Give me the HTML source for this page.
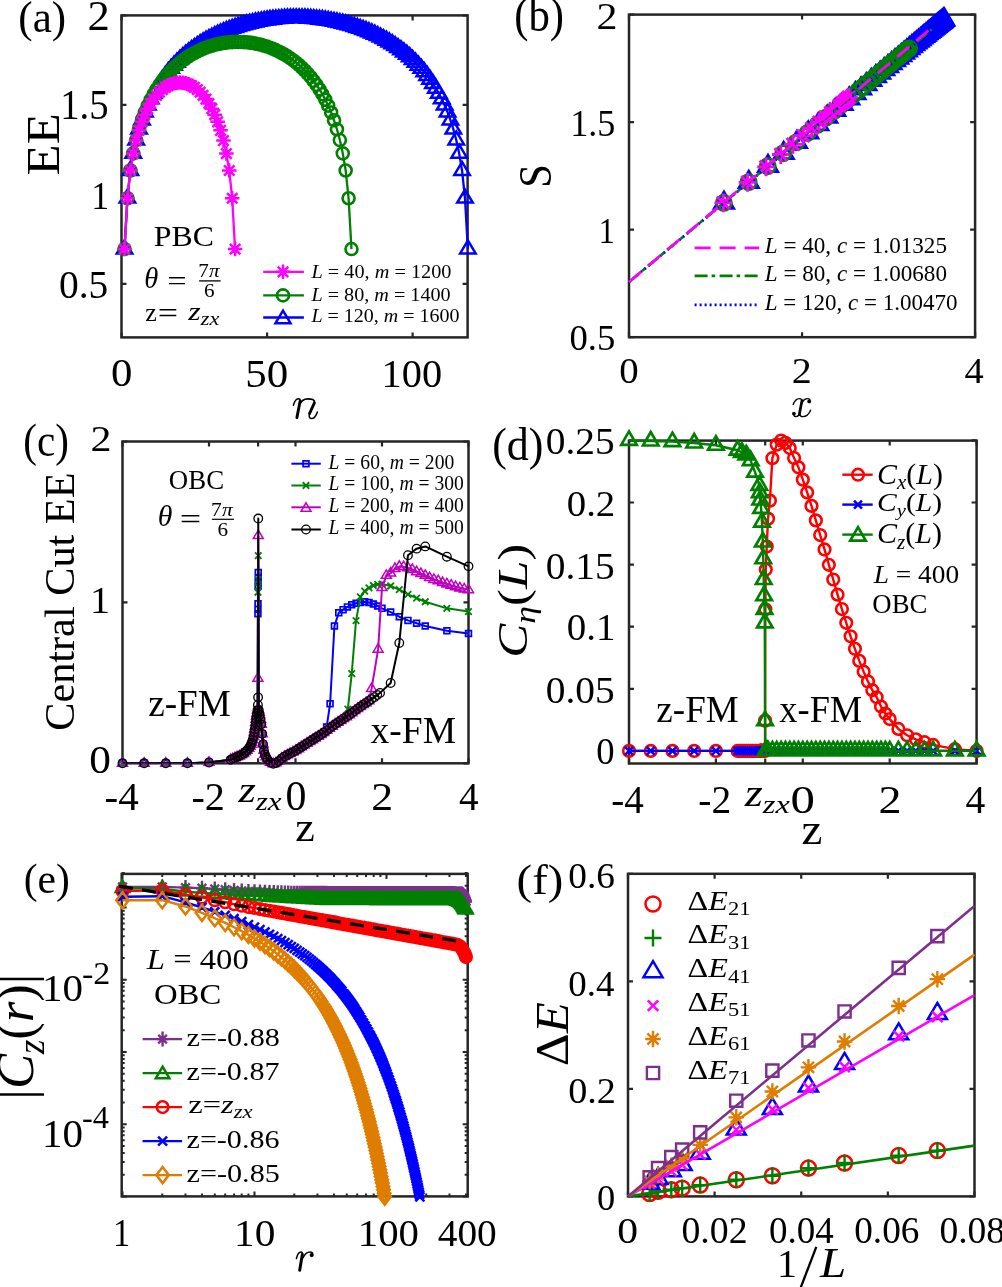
<!DOCTYPE html>
<html><head><meta charset="utf-8"><style>
html,body{margin:0;padding:0;background:#fff;}
svg{display:block;will-change:transform;}
text{font-family:"Liberation Serif",serif;white-space:pre;}
</style></head><body>
<svg width="1002" height="1287" viewBox="0 0 1002 1287">
<rect width="1002" height="1287" fill="#fff"/>
<rect x="121.5" y="15.4" width="346.1" height="322" fill="none" stroke="#262626" stroke-width="2.5"/>
<path d="M121.6 337.4v-5M121.6 15.4v5M267.1 337.4v-5M267.1 15.4v5M412.6 337.4v-5M412.6 15.4v5M121.5 283.8h5M467.6 283.8h-5M121.5 194.3h5M467.6 194.3h-5M121.5 104.8h5M467.6 104.8h-5M121.5 15.3h5M467.6 15.3h-5" stroke="#262626" stroke-width="2.2" fill="none"/>
<polyline points="124.51,249.07 127.42,198.24 130.33,170.57 133.24,153.37 136.15,140.06 139.06,129.2 141.97,120.05 144.88,112.15 147.79,105.2 150.7,99.02 153.61,93.45 156.52,88.39 159.43,83.77 162.34,79.51 165.25,75.57 168.16,71.92 171.07,68.51 173.98,65.33 176.89,62.35 179.8,59.54 182.71,56.91 185.62,54.42 188.53,52.07 191.44,49.85 194.35,47.75 197.26,45.75 200.17,43.87 203.08,42.08 205.99,40.38 208.9,38.77 211.81,37.24 214.72,35.79 217.63,34.41 220.54,33.11 223.45,31.87 226.36,30.7 229.27,29.59 232.18,28.54 235.09,27.55 238,26.61 240.91,25.74 243.82,24.91 246.73,24.14 249.64,23.41 252.55,22.74 255.46,22.11 258.37,21.53 261.28,21 264.19,20.51 267.1,20.07 270.01,19.67 272.92,19.32 275.83,19 278.74,18.73 281.65,18.51 284.56,18.32 287.47,18.18 290.38,18.07 293.29,18.01 296.2,17.99 299.11,18.01 302.02,18.07 304.93,18.18 307.84,18.32 310.75,18.51 313.66,18.73 316.57,19 319.48,19.32 322.39,19.67 325.3,20.07 328.21,20.51 331.12,21 334.03,21.53 336.94,22.11 339.85,22.74 342.76,23.41 345.67,24.14 348.58,24.91 351.49,25.74 354.4,26.61 357.31,27.55 360.22,28.54 363.13,29.59 366.04,30.7 368.95,31.87 371.86,33.11 374.77,34.41 377.68,35.79 380.59,37.24 383.5,38.77 386.41,40.38 389.32,42.08 392.23,43.87 395.14,45.75 398.05,47.75 400.96,49.85 403.87,52.07 406.78,54.42 409.69,56.91 412.6,59.54 415.51,62.35 418.42,65.33 421.33,68.51 424.24,71.92 427.15,75.57 430.06,79.51 432.97,83.77 435.88,88.39 438.79,93.45 441.7,99.02 444.61,105.2 447.52,112.15 450.43,120.05 453.34,129.2 456.25,140.06 459.16,153.37 462.07,170.57 464.98,198.24 467.89,249.07" fill="none" stroke="#0000ff" stroke-width="2.3" stroke-linejoin="round" />
<path d="M124.51 240.41L132.26 253.41L116.76 253.41ZM127.42 189.57L135.17 202.57L119.67 202.57ZM130.33 161.9L138.08 174.9L122.58 174.9ZM133.24 144.7L140.99 157.7L125.49 157.7ZM136.15 131.39L143.9 144.39L128.4 144.39ZM139.06 120.53L146.81 133.53L131.31 133.53ZM141.97 111.38L149.72 124.38L134.22 124.38ZM144.88 103.48L152.63 116.48L137.13 116.48ZM147.79 96.54L155.54 109.54L140.04 109.54ZM150.7 90.35L158.45 103.35L142.95 103.35ZM153.61 84.78L161.36 97.78L145.86 97.78ZM156.52 79.72L164.27 92.72L148.77 92.72ZM159.43 75.1L167.18 88.1L151.68 88.1ZM162.34 70.84L170.09 83.84L154.59 83.84ZM165.25 66.91L173 79.91L157.5 79.91ZM168.16 63.25L175.91 76.25L160.41 76.25ZM171.07 59.85L178.82 72.85L163.32 72.85ZM173.98 56.66L181.73 69.66L166.23 69.66ZM176.89 53.68L184.64 66.68L169.14 66.68ZM179.8 50.88L187.55 63.88L172.05 63.88ZM182.71 48.24L190.46 61.24L174.96 61.24ZM185.62 45.75L193.37 58.75L177.87 58.75ZM188.53 43.4L196.28 56.4L180.78 56.4ZM191.44 41.18L199.19 54.18L183.69 54.18ZM194.35 39.08L202.1 52.08L186.6 52.08ZM197.26 37.09L205.01 50.09L189.51 50.09ZM200.17 35.2L207.92 48.2L192.42 48.2ZM203.08 33.41L210.83 46.41L195.33 46.41ZM205.99 31.71L213.74 44.71L198.24 44.71ZM208.9 30.1L216.65 43.1L201.15 43.1ZM211.81 28.57L219.56 41.57L204.06 41.57ZM214.72 27.12L222.47 40.12L206.97 40.12ZM217.63 25.75L225.38 38.75L209.88 38.75ZM220.54 24.44L228.29 37.44L212.79 37.44ZM223.45 23.2L231.2 36.2L215.7 36.2ZM226.36 22.03L234.11 35.03L218.61 35.03ZM229.27 20.92L237.02 33.92L221.52 33.92ZM232.18 19.87L239.93 32.87L224.43 32.87ZM235.09 18.88L242.84 31.88L227.34 31.88ZM238 17.95L245.75 30.95L230.25 30.95ZM240.91 17.07L248.66 30.07L233.16 30.07ZM243.82 16.24L251.57 29.24L236.07 29.24ZM246.73 15.47L254.48 28.47L238.98 28.47ZM249.64 14.75L257.39 27.75L241.89 27.75ZM252.55 14.07L260.3 27.07L244.8 27.07ZM255.46 13.45L263.21 26.45L247.71 26.45ZM258.37 12.87L266.12 25.87L250.62 25.87ZM261.28 12.33L269.03 25.33L253.53 25.33ZM264.19 11.85L271.94 24.85L256.44 24.85ZM267.1 11.4L274.85 24.4L259.35 24.4ZM270.01 11L277.76 24L262.26 24ZM272.92 10.65L280.67 23.65L265.17 23.65ZM275.83 10.34L283.58 23.34L268.08 23.34ZM278.74 10.07L286.49 23.07L270.99 23.07ZM281.65 9.84L289.4 22.84L273.9 22.84ZM284.56 9.65L292.31 22.65L276.81 22.65ZM287.47 9.51L295.22 22.51L279.72 22.51ZM290.38 9.41L298.13 22.41L282.63 22.41ZM293.29 9.35L301.04 22.35L285.54 22.35ZM296.2 9.33L303.95 22.33L288.45 22.33ZM299.11 9.35L306.86 22.35L291.36 22.35ZM302.02 9.41L309.77 22.41L294.27 22.41ZM304.93 9.51L312.68 22.51L297.18 22.51ZM307.84 9.65L315.59 22.65L300.09 22.65ZM310.75 9.84L318.5 22.84L303 22.84ZM313.66 10.07L321.41 23.07L305.91 23.07ZM316.57 10.34L324.32 23.34L308.82 23.34ZM319.48 10.65L327.23 23.65L311.73 23.65ZM322.39 11L330.14 24L314.64 24ZM325.3 11.4L333.05 24.4L317.55 24.4ZM328.21 11.85L335.96 24.85L320.46 24.85ZM331.12 12.33L338.87 25.33L323.37 25.33ZM334.03 12.87L341.78 25.87L326.28 25.87ZM336.94 13.45L344.69 26.45L329.19 26.45ZM339.85 14.07L347.6 27.07L332.1 27.07ZM342.76 14.75L350.51 27.75L335.01 27.75ZM345.67 15.47L353.42 28.47L337.92 28.47ZM348.58 16.24L356.33 29.24L340.83 29.24ZM351.49 17.07L359.24 30.07L343.74 30.07ZM354.4 17.95L362.15 30.95L346.65 30.95ZM357.31 18.88L365.06 31.88L349.56 31.88ZM360.22 19.87L367.97 32.87L352.47 32.87ZM363.13 20.92L370.88 33.92L355.38 33.92ZM366.04 22.03L373.79 35.03L358.29 35.03ZM368.95 23.2L376.7 36.2L361.2 36.2ZM371.86 24.44L379.61 37.44L364.11 37.44ZM374.77 25.75L382.52 38.75L367.02 38.75ZM377.68 27.12L385.43 40.12L369.93 40.12ZM380.59 28.57L388.34 41.57L372.84 41.57ZM383.5 30.1L391.25 43.1L375.75 43.1ZM386.41 31.71L394.16 44.71L378.66 44.71ZM389.32 33.41L397.07 46.41L381.57 46.41ZM392.23 35.2L399.98 48.2L384.48 48.2ZM395.14 37.09L402.89 50.09L387.39 50.09ZM398.05 39.08L405.8 52.08L390.3 52.08ZM400.96 41.18L408.71 54.18L393.21 54.18ZM403.87 43.4L411.62 56.4L396.12 56.4ZM406.78 45.75L414.53 58.75L399.03 58.75ZM409.69 48.24L417.44 61.24L401.94 61.24ZM412.6 50.88L420.35 63.88L404.85 63.88ZM415.51 53.68L423.26 66.68L407.76 66.68ZM418.42 56.66L426.17 69.66L410.67 69.66ZM421.33 59.85L429.08 72.85L413.58 72.85ZM424.24 63.25L431.99 76.25L416.49 76.25ZM427.15 66.91L434.9 79.91L419.4 79.91ZM430.06 70.84L437.81 83.84L422.31 83.84ZM432.97 75.1L440.72 88.1L425.22 88.1ZM435.88 79.72L443.63 92.72L428.13 92.72ZM438.79 84.78L446.54 97.78L431.04 97.78ZM441.7 90.35L449.45 103.35L433.95 103.35ZM444.61 96.54L452.36 109.54L436.86 109.54ZM447.52 103.48L455.27 116.48L439.77 116.48ZM450.43 111.38L458.18 124.38L442.68 124.38ZM453.34 120.53L461.09 133.53L445.59 133.53ZM456.25 131.39L464 144.39L448.5 144.39ZM459.16 144.7L466.91 157.7L451.41 157.7ZM462.07 161.9L469.82 174.9L454.32 174.9ZM464.98 189.57L472.73 202.57L457.23 202.57ZM467.89 240.41L475.64 253.41L460.14 253.41Z" fill="none" stroke="#0000ff" stroke-width="2.5" />
<polyline points="124.51,249.07 127.42,198.24 130.33,170.51 133.24,153.33 136.15,140.07 139.06,129.29 141.97,120.23 144.88,112.44 147.79,105.63 150.7,99.6 153.61,94.2 156.52,89.33 159.43,84.91 162.34,80.89 165.25,77.2 168.16,73.81 171.07,70.7 173.98,67.82 176.89,65.17 179.8,62.71 182.71,60.44 185.62,58.35 188.53,56.41 191.44,54.62 194.35,52.98 197.26,51.47 200.17,50.09 203.08,48.83 205.99,47.68 208.9,46.65 211.81,45.73 214.72,44.91 217.63,44.19 220.54,43.58 223.45,43.06 226.36,42.64 229.27,42.31 232.18,42.08 235.09,41.94 238,41.89 240.91,41.94 243.82,42.08 246.73,42.31 249.64,42.64 252.55,43.06 255.46,43.58 258.37,44.19 261.28,44.91 264.19,45.73 267.1,46.65 270.01,47.68 272.92,48.83 275.83,50.09 278.74,51.47 281.65,52.98 284.56,54.62 287.47,56.41 290.38,58.35 293.29,60.44 296.2,62.71 299.11,65.17 302.02,67.82 304.93,70.7 307.84,73.81 310.75,77.2 313.66,80.89 316.57,84.91 319.48,89.33 322.39,94.2 325.3,99.6 328.21,105.63 331.12,112.44 334.03,120.23 336.94,129.29 339.85,140.07 342.76,153.33 345.67,170.51 348.58,198.24 351.49,249.07" fill="none" stroke="#008000" stroke-width="2.3" stroke-linejoin="round" />
<path d="M118.51 249.07a6 6 0 1 0 12 0a6 6 0 1 0 -12 0M121.42 198.24a6 6 0 1 0 12 0a6 6 0 1 0 -12 0M124.33 170.51a6 6 0 1 0 12 0a6 6 0 1 0 -12 0M127.24 153.33a6 6 0 1 0 12 0a6 6 0 1 0 -12 0M130.15 140.07a6 6 0 1 0 12 0a6 6 0 1 0 -12 0M133.06 129.29a6 6 0 1 0 12 0a6 6 0 1 0 -12 0M135.97 120.23a6 6 0 1 0 12 0a6 6 0 1 0 -12 0M138.88 112.44a6 6 0 1 0 12 0a6 6 0 1 0 -12 0M141.79 105.63a6 6 0 1 0 12 0a6 6 0 1 0 -12 0M144.7 99.6a6 6 0 1 0 12 0a6 6 0 1 0 -12 0M147.61 94.2a6 6 0 1 0 12 0a6 6 0 1 0 -12 0M150.52 89.33a6 6 0 1 0 12 0a6 6 0 1 0 -12 0M153.43 84.91a6 6 0 1 0 12 0a6 6 0 1 0 -12 0M156.34 80.89a6 6 0 1 0 12 0a6 6 0 1 0 -12 0M159.25 77.2a6 6 0 1 0 12 0a6 6 0 1 0 -12 0M162.16 73.81a6 6 0 1 0 12 0a6 6 0 1 0 -12 0M165.07 70.7a6 6 0 1 0 12 0a6 6 0 1 0 -12 0M167.98 67.82a6 6 0 1 0 12 0a6 6 0 1 0 -12 0M170.89 65.17a6 6 0 1 0 12 0a6 6 0 1 0 -12 0M173.8 62.71a6 6 0 1 0 12 0a6 6 0 1 0 -12 0M176.71 60.44a6 6 0 1 0 12 0a6 6 0 1 0 -12 0M179.62 58.35a6 6 0 1 0 12 0a6 6 0 1 0 -12 0M182.53 56.41a6 6 0 1 0 12 0a6 6 0 1 0 -12 0M185.44 54.62a6 6 0 1 0 12 0a6 6 0 1 0 -12 0M188.35 52.98a6 6 0 1 0 12 0a6 6 0 1 0 -12 0M191.26 51.47a6 6 0 1 0 12 0a6 6 0 1 0 -12 0M194.17 50.09a6 6 0 1 0 12 0a6 6 0 1 0 -12 0M197.08 48.83a6 6 0 1 0 12 0a6 6 0 1 0 -12 0M199.99 47.68a6 6 0 1 0 12 0a6 6 0 1 0 -12 0M202.9 46.65a6 6 0 1 0 12 0a6 6 0 1 0 -12 0M205.81 45.73a6 6 0 1 0 12 0a6 6 0 1 0 -12 0M208.72 44.91a6 6 0 1 0 12 0a6 6 0 1 0 -12 0M211.63 44.19a6 6 0 1 0 12 0a6 6 0 1 0 -12 0M214.54 43.58a6 6 0 1 0 12 0a6 6 0 1 0 -12 0M217.45 43.06a6 6 0 1 0 12 0a6 6 0 1 0 -12 0M220.36 42.64a6 6 0 1 0 12 0a6 6 0 1 0 -12 0M223.27 42.31a6 6 0 1 0 12 0a6 6 0 1 0 -12 0M226.18 42.08a6 6 0 1 0 12 0a6 6 0 1 0 -12 0M229.09 41.94a6 6 0 1 0 12 0a6 6 0 1 0 -12 0M232 41.89a6 6 0 1 0 12 0a6 6 0 1 0 -12 0M234.91 41.94a6 6 0 1 0 12 0a6 6 0 1 0 -12 0M237.82 42.08a6 6 0 1 0 12 0a6 6 0 1 0 -12 0M240.73 42.31a6 6 0 1 0 12 0a6 6 0 1 0 -12 0M243.64 42.64a6 6 0 1 0 12 0a6 6 0 1 0 -12 0M246.55 43.06a6 6 0 1 0 12 0a6 6 0 1 0 -12 0M249.46 43.58a6 6 0 1 0 12 0a6 6 0 1 0 -12 0M252.37 44.19a6 6 0 1 0 12 0a6 6 0 1 0 -12 0M255.28 44.91a6 6 0 1 0 12 0a6 6 0 1 0 -12 0M258.19 45.73a6 6 0 1 0 12 0a6 6 0 1 0 -12 0M261.1 46.65a6 6 0 1 0 12 0a6 6 0 1 0 -12 0M264.01 47.68a6 6 0 1 0 12 0a6 6 0 1 0 -12 0M266.92 48.83a6 6 0 1 0 12 0a6 6 0 1 0 -12 0M269.83 50.09a6 6 0 1 0 12 0a6 6 0 1 0 -12 0M272.74 51.47a6 6 0 1 0 12 0a6 6 0 1 0 -12 0M275.65 52.98a6 6 0 1 0 12 0a6 6 0 1 0 -12 0M278.56 54.62a6 6 0 1 0 12 0a6 6 0 1 0 -12 0M281.47 56.41a6 6 0 1 0 12 0a6 6 0 1 0 -12 0M284.38 58.35a6 6 0 1 0 12 0a6 6 0 1 0 -12 0M287.29 60.44a6 6 0 1 0 12 0a6 6 0 1 0 -12 0M290.2 62.71a6 6 0 1 0 12 0a6 6 0 1 0 -12 0M293.11 65.17a6 6 0 1 0 12 0a6 6 0 1 0 -12 0M296.02 67.82a6 6 0 1 0 12 0a6 6 0 1 0 -12 0M298.93 70.7a6 6 0 1 0 12 0a6 6 0 1 0 -12 0M301.84 73.81a6 6 0 1 0 12 0a6 6 0 1 0 -12 0M304.75 77.2a6 6 0 1 0 12 0a6 6 0 1 0 -12 0M307.66 80.89a6 6 0 1 0 12 0a6 6 0 1 0 -12 0M310.57 84.91a6 6 0 1 0 12 0a6 6 0 1 0 -12 0M313.48 89.33a6 6 0 1 0 12 0a6 6 0 1 0 -12 0M316.39 94.2a6 6 0 1 0 12 0a6 6 0 1 0 -12 0M319.3 99.6a6 6 0 1 0 12 0a6 6 0 1 0 -12 0M322.21 105.63a6 6 0 1 0 12 0a6 6 0 1 0 -12 0M325.12 112.44a6 6 0 1 0 12 0a6 6 0 1 0 -12 0M328.03 120.23a6 6 0 1 0 12 0a6 6 0 1 0 -12 0M330.94 129.29a6 6 0 1 0 12 0a6 6 0 1 0 -12 0M333.85 140.07a6 6 0 1 0 12 0a6 6 0 1 0 -12 0M336.76 153.33a6 6 0 1 0 12 0a6 6 0 1 0 -12 0M339.67 170.51a6 6 0 1 0 12 0a6 6 0 1 0 -12 0M342.58 198.24a6 6 0 1 0 12 0a6 6 0 1 0 -12 0M345.49 249.07a6 6 0 1 0 12 0a6 6 0 1 0 -12 0" fill="none" stroke="#008000" stroke-width="2.6" />
<polyline points="124.51,249.07 127.42,198.24 130.33,170.51 133.24,153.55 136.15,140.62 139.06,130.29 141.97,121.8 144.88,114.68 147.79,108.65 150.7,103.51 153.61,99.11 156.52,95.37 159.43,92.19 162.34,89.53 165.25,87.34 168.16,85.59 171.07,84.25 173.98,83.3 176.89,82.74 179.8,82.55 182.71,82.74 185.62,83.3 188.53,84.25 191.44,85.59 194.35,87.34 197.26,89.53 200.17,92.19 203.08,95.37 205.99,99.11 208.9,103.51 211.81,108.65 214.72,114.68 217.63,121.8 220.54,130.29 223.45,140.62 226.36,153.55 229.27,170.51 232.18,198.24 235.09,249.07" fill="none" stroke="#ff00ff" stroke-width="2.3" stroke-linejoin="round" />
<path d="M117.26 249.07h14.5M124.51 241.82v14.5M119.29 243.85l10.44 10.44M119.29 254.29l10.44 -10.44M120.17 198.24h14.5M127.42 190.99v14.5M122.2 193.02l10.44 10.44M122.2 203.46l10.44 -10.44M123.08 170.51h14.5M130.33 163.26v14.5M125.11 165.29l10.44 10.44M125.11 175.73l10.44 -10.44M125.99 153.55h14.5M133.24 146.3v14.5M128.02 148.33l10.44 10.44M128.02 158.77l10.44 -10.44M128.9 140.62h14.5M136.15 133.37v14.5M130.93 135.4l10.44 10.44M130.93 145.84l10.44 -10.44M131.81 130.29h14.5M139.06 123.04v14.5M133.84 125.07l10.44 10.44M133.84 135.51l10.44 -10.44M134.72 121.8h14.5M141.97 114.55v14.5M136.75 116.58l10.44 10.44M136.75 127.02l10.44 -10.44M137.63 114.68h14.5M144.88 107.43v14.5M139.66 109.46l10.44 10.44M139.66 119.9l10.44 -10.44M140.54 108.65h14.5M147.79 101.4v14.5M142.57 103.43l10.44 10.44M142.57 113.87l10.44 -10.44M143.45 103.51h14.5M150.7 96.26v14.5M145.48 98.29l10.44 10.44M145.48 108.73l10.44 -10.44M146.36 99.11h14.5M153.61 91.86v14.5M148.39 93.89l10.44 10.44M148.39 104.33l10.44 -10.44M149.27 95.37h14.5M156.52 88.12v14.5M151.3 90.15l10.44 10.44M151.3 100.59l10.44 -10.44M152.18 92.19h14.5M159.43 84.94v14.5M154.21 86.97l10.44 10.44M154.21 97.41l10.44 -10.44M155.09 89.53h14.5M162.34 82.28v14.5M157.12 84.31l10.44 10.44M157.12 94.75l10.44 -10.44M158 87.34h14.5M165.25 80.09v14.5M160.03 82.12l10.44 10.44M160.03 92.56l10.44 -10.44M160.91 85.59h14.5M168.16 78.34v14.5M162.94 80.37l10.44 10.44M162.94 90.81l10.44 -10.44M163.82 84.25h14.5M171.07 77v14.5M165.85 79.03l10.44 10.44M165.85 89.47l10.44 -10.44M166.73 83.3h14.5M173.98 76.05v14.5M168.76 78.08l10.44 10.44M168.76 88.52l10.44 -10.44M169.64 82.74h14.5M176.89 75.49v14.5M171.67 77.52l10.44 10.44M171.67 87.96l10.44 -10.44M172.55 82.55h14.5M179.8 75.3v14.5M174.58 77.33l10.44 10.44M174.58 87.77l10.44 -10.44M175.46 82.74h14.5M182.71 75.49v14.5M177.49 77.52l10.44 10.44M177.49 87.96l10.44 -10.44M178.37 83.3h14.5M185.62 76.05v14.5M180.4 78.08l10.44 10.44M180.4 88.52l10.44 -10.44M181.28 84.25h14.5M188.53 77v14.5M183.31 79.03l10.44 10.44M183.31 89.47l10.44 -10.44M184.19 85.59h14.5M191.44 78.34v14.5M186.22 80.37l10.44 10.44M186.22 90.81l10.44 -10.44M187.1 87.34h14.5M194.35 80.09v14.5M189.13 82.12l10.44 10.44M189.13 92.56l10.44 -10.44M190.01 89.53h14.5M197.26 82.28v14.5M192.04 84.31l10.44 10.44M192.04 94.75l10.44 -10.44M192.92 92.19h14.5M200.17 84.94v14.5M194.95 86.97l10.44 10.44M194.95 97.41l10.44 -10.44M195.83 95.37h14.5M203.08 88.12v14.5M197.86 90.15l10.44 10.44M197.86 100.59l10.44 -10.44M198.74 99.11h14.5M205.99 91.86v14.5M200.77 93.89l10.44 10.44M200.77 104.33l10.44 -10.44M201.65 103.51h14.5M208.9 96.26v14.5M203.68 98.29l10.44 10.44M203.68 108.73l10.44 -10.44M204.56 108.65h14.5M211.81 101.4v14.5M206.59 103.43l10.44 10.44M206.59 113.87l10.44 -10.44M207.47 114.68h14.5M214.72 107.43v14.5M209.5 109.46l10.44 10.44M209.5 119.9l10.44 -10.44M210.38 121.8h14.5M217.63 114.55v14.5M212.41 116.58l10.44 10.44M212.41 127.02l10.44 -10.44M213.29 130.29h14.5M220.54 123.04v14.5M215.32 125.07l10.44 10.44M215.32 135.51l10.44 -10.44M216.2 140.62h14.5M223.45 133.37v14.5M218.23 135.4l10.44 10.44M218.23 145.84l10.44 -10.44M219.11 153.55h14.5M226.36 146.3v14.5M221.14 148.33l10.44 10.44M221.14 158.77l10.44 -10.44M222.02 170.51h14.5M229.27 163.26v14.5M224.05 165.29l10.44 10.44M224.05 175.73l10.44 -10.44M224.93 198.24h14.5M232.18 190.99v14.5M226.96 193.02l10.44 10.44M226.96 203.46l10.44 -10.44M227.84 249.07h14.5M235.09 241.82v14.5M229.87 243.85l10.44 10.44M229.87 254.29l10.44 -10.44" fill="none" stroke="#ff00ff" stroke-width="2.5" />
<text transform="translate(18.36,32.21) scale(0.9647,1)" font-size="44.62" fill="#000" >(a)</text>
<text transform="translate(87.59,29.90) scale(1.0548,1)" font-size="42.42" fill="#000" >2</text>
<text transform="translate(60.21,118.97) scale(0.9275,1)" font-size="41.78" fill="#000" >1.5</text>
<text transform="translate(91.29,209.10) scale(0.8895,1)" font-size="40.15" fill="#000" >1</text>
<text transform="translate(58.92,298.20) scale(0.9836,1)" font-size="40.15" fill="#000" >0.5</text>
<text transform="translate(110.89,386.41) scale(1.0916,1)" font-size="39.26" fill="#000" >0</text>
<text transform="translate(245.32,387.09) scale(1.0478,1)" font-size="41.04" fill="#000" >50</text>
<text transform="translate(381.57,387.09) scale(0.9836,1)" font-size="41.04" fill="#000" >100</text>
<g fill="none" stroke="#000" stroke-linecap="round"><path d="M293.4 405.3C294.3 402 295.8 399 298.3 398.8C300.2 398.7 300.6 400 300.2 401.8" stroke-width="1.5"/><path d="M300.1 401.3L296.9 417.6" stroke-width="2.9"/><path d="M299.3 405C300.8 401.2 304 398.8 307.9 398.8C311.6 398.8 314.8 399.6 314.5 402.6" stroke-width="1.7"/><path d="M314.4 402.8L309.5 413.6" stroke-width="2.8"/><path d="M309.4 413.8C308.8 416.5 309.5 418.6 311.6 418.6C314.2 418.6 316.3 415.3 317.4 412" stroke-width="1.5"/></g>
<text transform="translate(59.00,175.43) rotate(-90) scale(1.0715,1)" font-size="47.48" fill="#000" >EE</text>
<text transform="translate(153.85,246.40) scale(1.0496,1)" font-size="30.30" fill="#000" >PBC</text>
<text transform="translate(144.37,287.81) scale(0.9944,1)" font-size="28.73" fill="#000" ><tspan font-style="italic">θ</tspan></text>
<text transform="translate(167.15,289.86) scale(1.2500,1)" font-size="27.60" fill="#000" >=</text>
<text transform="translate(198.33,277.10) scale(1.0653,1)" font-size="19.85" fill="#000" >7<tspan font-style="italic">π</tspan></text>
<path d="M199.1 280.9H220.6" stroke="#000" stroke-width="1.3"/>
<text transform="translate(204.05,297.41) scale(1.1261,1)" font-size="18.81" fill="#000" >6</text>
<text transform="translate(145.15,321.00) scale(1.0553,1)" font-size="24.78" fill="#000" >z</text>
<text transform="translate(157.78,323.30) scale(1.2500,1)" font-size="28.80" fill="#000" >=</text>
<text transform="translate(188.36,320.11) scale(1.2500,1)" font-size="25.45" fill="#000" ><tspan font-style="italic">z</tspan><tspan font-style="italic" font-size="17.82" dy="5.09">zx</tspan></text>
<polyline points="263.2,271.8 303.9,271.8" fill="none" stroke="#ff00ff" stroke-width="2.3" stroke-linejoin="round" />
<path d="M275.75 271.8h14.5M283 264.55v14.5M277.78 266.58l10.44 10.44M277.78 277.02l10.44 -10.44" fill="none" stroke="#ff00ff" stroke-width="2.5" />
<polyline points="263.2,295.4 303.9,295.4" fill="none" stroke="#008000" stroke-width="2.3" stroke-linejoin="round" />
<path d="M277 295.4a6 6 0 1 0 12 0a6 6 0 1 0 -12 0" fill="none" stroke="#008000" stroke-width="2.6" />
<polyline points="263.2,317.5 303.9,317.5" fill="none" stroke="#0000ff" stroke-width="2.3" stroke-linejoin="round" />
<path d="M283 310.67L290.5 323.17L275.5 323.17Z" fill="none" stroke="#0000ff" stroke-width="2.5" />
<text transform="translate(311.40,277.51) scale(1.0533,1)" font-size="19.26" fill="#000" ><tspan font-style="italic">L</tspan> = 40, <tspan font-style="italic">m</tspan> = 1200</text>
<text transform="translate(311.40,300.96) scale(1.0276,1)" font-size="19.63" fill="#000" ><tspan font-style="italic">L</tspan> = 80, <tspan font-style="italic">m</tspan> = 1400</text>
<text transform="translate(311.40,322.45) scale(1.0530,1)" font-size="19.02" fill="#000" ><tspan font-style="italic">L</tspan> = 120, <tspan font-style="italic">m</tspan> = 1600</text>
<rect x="629" y="14.6" width="346.1" height="322.6" fill="none" stroke="#262626" stroke-width="2.5"/>
<path d="M629 337.2v-5M629 14.6v5M802.05 337.2v-5M802.05 14.6v5M975.1 337.2v-5M975.1 14.6v5M629 337.2h5M975.1 337.2h-5M629 229.67h5M975.1 229.67h-5M629 122.13h5M975.1 122.13h-5M629 14.6h5M975.1 14.6h-5" stroke="#262626" stroke-width="2.2" fill="none"/>
<path d="M723.97 191.87L733.72 208.37L714.22 208.37ZM748.79 171.21L758.54 187.71L739.04 187.71ZM768.01 155.21L777.76 171.71L758.26 171.71ZM783.68 142.17L793.43 158.67L773.93 158.67ZM796.89 131.18L806.64 147.68L787.14 147.68ZM808.29 121.68L818.04 138.18L798.54 138.18ZM818.31 113.34L828.06 129.84L808.56 129.84ZM827.24 105.91L836.99 122.41L817.49 122.41ZM835.28 99.22L845.03 115.72L825.53 115.72ZM842.58 93.14L852.33 109.64L832.83 109.64ZM849.26 87.58L859.01 104.08L839.51 104.08ZM855.4 82.47L865.15 98.97L845.65 98.97ZM861.08 77.74L870.83 94.24L851.33 94.24ZM866.35 73.35L876.1 89.85L856.6 89.85ZM871.27 69.26L881.02 85.76L861.52 85.76ZM875.86 65.43L885.61 81.93L866.11 81.93ZM880.17 61.85L889.92 78.35L870.42 78.35ZM884.22 58.48L893.97 74.98L874.47 74.98ZM888.02 55.31L897.77 71.81L878.27 71.81ZM891.61 52.32L901.36 68.82L881.86 68.82ZM895.01 49.5L904.76 66L885.26 66ZM898.21 46.83L907.96 63.33L888.46 63.33ZM901.25 44.3L911 60.8L891.5 60.8ZM904.12 41.91L913.87 58.41L894.37 58.41ZM906.84 39.64L916.59 56.14L897.09 56.14ZM909.43 37.49L919.18 53.99L899.68 53.99ZM911.88 35.45L921.63 51.95L902.13 51.95ZM914.2 33.52L923.95 50.02L904.45 50.02ZM916.41 31.68L926.16 48.18L906.66 48.18ZM918.5 29.94L928.25 46.44L908.75 46.44ZM920.49 28.28L930.24 44.78L910.74 44.78ZM922.37 26.71L932.12 43.21L912.62 43.21ZM924.16 25.23L933.91 41.73L914.41 41.73ZM925.85 23.82L935.6 40.32L916.1 40.32ZM927.45 22.49L937.2 38.99L917.7 38.99ZM928.97 21.23L938.72 37.73L919.22 37.73ZM930.4 20.04L940.15 36.54L920.65 36.54ZM931.74 18.92L941.49 35.42L921.99 35.42ZM933.01 17.86L942.76 34.36L923.26 34.36ZM934.2 16.87L943.95 33.37L924.45 33.37ZM935.32 15.94L945.07 32.44L925.57 32.44ZM936.37 15.07L946.12 31.57L926.62 31.57ZM937.34 14.26L947.09 30.76L927.59 30.76ZM938.24 13.51L947.99 30.01L928.49 30.01ZM939.08 12.81L948.83 29.31L929.33 29.31ZM939.85 12.17L949.6 28.67L930.1 28.67ZM940.55 11.58L950.3 28.08L930.8 28.08ZM941.19 11.05L950.94 27.55L931.44 27.55ZM941.77 10.57L951.52 27.07L932.02 27.07ZM942.28 10.15L952.03 26.65L932.53 26.65ZM943.12 9.45L952.87 25.95L933.37 25.95ZM943.71 8.95L953.46 25.45L933.96 25.45ZM944.19 8.55L953.94 25.05L934.44 25.05Z" fill="none" stroke="#0000ff" stroke-width="2.7" />
<path d="M716.26 202.8a7.6 7.6 0 1 0 15.2 0a7.6 7.6 0 1 0 -15.2 0M740.99 182.17a7.6 7.6 0 1 0 15.2 0a7.6 7.6 0 1 0 -15.2 0M760.1 166.23a7.6 7.6 0 1 0 15.2 0a7.6 7.6 0 1 0 -15.2 0M775.63 153.27a7.6 7.6 0 1 0 15.2 0a7.6 7.6 0 1 0 -15.2 0M788.68 142.39a7.6 7.6 0 1 0 15.2 0a7.6 7.6 0 1 0 -15.2 0M799.9 133.03a7.6 7.6 0 1 0 15.2 0a7.6 7.6 0 1 0 -15.2 0M809.71 124.85a7.6 7.6 0 1 0 15.2 0a7.6 7.6 0 1 0 -15.2 0M818.4 117.6a7.6 7.6 0 1 0 15.2 0a7.6 7.6 0 1 0 -15.2 0M826.17 111.12a7.6 7.6 0 1 0 15.2 0a7.6 7.6 0 1 0 -15.2 0M833.18 105.27a7.6 7.6 0 1 0 15.2 0a7.6 7.6 0 1 0 -15.2 0M839.54 99.96a7.6 7.6 0 1 0 15.2 0a7.6 7.6 0 1 0 -15.2 0M845.34 95.12a7.6 7.6 0 1 0 15.2 0a7.6 7.6 0 1 0 -15.2 0M850.65 90.69a7.6 7.6 0 1 0 15.2 0a7.6 7.6 0 1 0 -15.2 0M855.53 86.63a7.6 7.6 0 1 0 15.2 0a7.6 7.6 0 1 0 -15.2 0M860.02 82.88a7.6 7.6 0 1 0 15.2 0a7.6 7.6 0 1 0 -15.2 0M864.16 79.43a7.6 7.6 0 1 0 15.2 0a7.6 7.6 0 1 0 -15.2 0M867.98 76.23a7.6 7.6 0 1 0 15.2 0a7.6 7.6 0 1 0 -15.2 0M871.52 73.29a7.6 7.6 0 1 0 15.2 0a7.6 7.6 0 1 0 -15.2 0M874.79 70.56a7.6 7.6 0 1 0 15.2 0a7.6 7.6 0 1 0 -15.2 0M877.81 68.04a7.6 7.6 0 1 0 15.2 0a7.6 7.6 0 1 0 -15.2 0M880.6 65.71a7.6 7.6 0 1 0 15.2 0a7.6 7.6 0 1 0 -15.2 0M883.17 63.57a7.6 7.6 0 1 0 15.2 0a7.6 7.6 0 1 0 -15.2 0M885.54 61.59a7.6 7.6 0 1 0 15.2 0a7.6 7.6 0 1 0 -15.2 0M887.71 59.78a7.6 7.6 0 1 0 15.2 0a7.6 7.6 0 1 0 -15.2 0M889.71 58.12a7.6 7.6 0 1 0 15.2 0a7.6 7.6 0 1 0 -15.2 0M891.52 56.6a7.6 7.6 0 1 0 15.2 0a7.6 7.6 0 1 0 -15.2 0M893.17 55.23a7.6 7.6 0 1 0 15.2 0a7.6 7.6 0 1 0 -15.2 0M894.66 53.99a7.6 7.6 0 1 0 15.2 0a7.6 7.6 0 1 0 -15.2 0M895.99 52.88a7.6 7.6 0 1 0 15.2 0a7.6 7.6 0 1 0 -15.2 0M897.17 51.89a7.6 7.6 0 1 0 15.2 0a7.6 7.6 0 1 0 -15.2 0M898.2 51.03a7.6 7.6 0 1 0 15.2 0a7.6 7.6 0 1 0 -15.2 0M899.08 50.29a7.6 7.6 0 1 0 15.2 0a7.6 7.6 0 1 0 -15.2 0M899.83 49.67a7.6 7.6 0 1 0 15.2 0a7.6 7.6 0 1 0 -15.2 0M900.44 49.17a7.6 7.6 0 1 0 15.2 0a7.6 7.6 0 1 0 -15.2 0M900.91 48.77a7.6 7.6 0 1 0 15.2 0a7.6 7.6 0 1 0 -15.2 0M901.44 48.33a7.6 7.6 0 1 0 15.2 0a7.6 7.6 0 1 0 -15.2 0" fill="none" stroke="#008000" stroke-width="2.7" />
<path d="M714.46 202.8h17.6M723.26 193.4v18.8M716.92 196.46l12.67 12.67M716.92 209.14l12.67 -12.67M738.72 182.43h17.6M747.52 173.03v18.8M741.19 176.09l12.67 12.67M741.19 188.76l12.67 -12.67M757.22 166.9h17.6M766.02 157.5v18.8M759.69 160.56l12.67 12.67M759.69 173.23l12.67 -12.67M772.01 154.49h17.6M780.81 145.09v18.8M774.47 148.15l12.67 12.67M774.47 160.82l12.67 -12.67M784.17 144.28h17.6M792.97 134.88v18.8M786.63 137.94l12.67 12.67M786.63 150.61l12.67 -12.67M794.35 135.72h17.6M803.15 126.32v18.8M796.82 129.39l12.67 12.67M796.82 142.06l12.67 -12.67M802.99 128.48h17.6M811.79 119.08v18.8M805.45 122.14l12.67 12.67M805.45 134.81l12.67 -12.67M810.35 122.3h17.6M819.15 112.9v18.8M812.81 115.96l12.67 12.67M812.81 128.63l12.67 -12.67M816.63 117.02h17.6M825.43 107.62v18.8M819.1 110.68l12.67 12.67M819.1 123.36l12.67 -12.67M821.99 112.52h17.6M830.79 103.12v18.8M824.46 106.18l12.67 12.67M824.46 118.85l12.67 -12.67M826.54 108.7h17.6M835.34 99.3v18.8M829 102.37l12.67 12.67M829 115.04l12.67 -12.67M830.35 105.51h17.6M839.15 96.11v18.8M832.81 99.17l12.67 12.67M832.81 111.84l12.67 -12.67M833.48 102.88h17.6M842.28 93.48v18.8M835.95 96.54l12.67 12.67M835.95 109.21l12.67 -12.67M835.99 100.77h17.6M844.79 91.37v18.8M838.45 94.43l12.67 12.67M838.45 107.11l12.67 -12.67M837.91 99.16h17.6M846.71 89.76v18.8M840.37 92.82l12.67 12.67M840.37 105.5l12.67 -12.67M839.26 98.02h17.6M848.06 88.62v18.8M841.72 91.69l12.67 12.67M841.72 104.36l12.67 -12.67M840.07 97.35h17.6M848.87 87.95v18.8M842.53 91.01l12.67 12.67M842.53 103.68l12.67 -12.67" fill="none" stroke="#ff00ff" stroke-width="2.8" />
<polyline points="629,281.93 931.84,29.84" fill="none" stroke="#0000ff" stroke-width="2.7" stroke-dasharray="2 3" stroke-linejoin="round" />
<polyline points="629,281.93 931.84,29.31" fill="none" stroke="#008000" stroke-width="2.7" stroke-dasharray="13 4 3.5 4.5" stroke-linejoin="round" />
<polyline points="629,281.93 931.84,27.69" fill="none" stroke="#ff00ff" stroke-width="2.7" stroke-dasharray="16 9" stroke-linejoin="round" />
<text transform="translate(514.18,30.88) scale(0.8889,1)" font-size="48.02" fill="#000" >(b)</text>
<text transform="translate(596.61,28.60) scale(1.1044,1)" font-size="38.03" fill="#000" >2</text>
<text transform="translate(570.15,135.64) scale(0.9724,1)" font-size="37.19" fill="#000" >1.5</text>
<text transform="translate(598.72,243.40) scale(0.8727,1)" font-size="36.67" fill="#000" >1</text>
<text transform="translate(569.43,350.07) scale(1.0303,1)" font-size="35.59" fill="#000" >0.5</text>
<text transform="translate(619.25,382.75) scale(1.0961,1)" font-size="35.41" fill="#000" >0</text>
<text transform="translate(791.80,383.10) scale(1.1046,1)" font-size="36.21" fill="#000" >2</text>
<text transform="translate(964.53,383.10) scale(1.0630,1)" font-size="36.21" fill="#000" >4</text>
<g fill="none" stroke="#000" stroke-linecap="round"><path d="M793.2 404.6C794.5 401 796.8 398.6 799.4 398.6C800.7 398.6 801.6 399.3 801.9 400.5" stroke-width="1.4"/><path d="M802 400.6L799.3 414.6" stroke-width="2.7"/><path d="M801.8 403.6C802.8 400.8 805 398.6 807.8 398.6C809 398.6 809.8 399.2 810 400" stroke-width="1.4"/><path d="M799.3 413.8C798.8 415.6 797.6 416.6 795.8 416.6C794.6 416.6 793.8 415.6 793.7 414.5" stroke-width="1.4"/><path d="M799.6 413.8C799.9 415.6 800.8 416.6 802.8 416.6C806.2 416.6 809.2 413.5 810.6 410.2" stroke-width="1.4"/></g><circle cx="809.2" cy="401.4" r="1.9" fill="#000"/><circle cx="793.9" cy="413.6" r="1.9" fill="#000"/>
<text transform="translate(550.75,187.85) rotate(-90) scale(0.9328,1)" font-size="45.37" fill="#000" >S</text>
<polyline points="694.6,247.9 759.2,247.9" fill="none" stroke="#ff00ff" stroke-width="2.7" stroke-dasharray="16 9" stroke-linejoin="round" />
<polyline points="694.6,275.9 759.2,275.9" fill="none" stroke="#008000" stroke-width="2.7" stroke-dasharray="13 4 3.5 4.5" stroke-linejoin="round" />
<polyline points="694.6,304.9 759.2,304.9" fill="none" stroke="#0000ff" stroke-width="2.7" stroke-dasharray="2 3" stroke-linejoin="round" />
<text transform="translate(764.73,253.19) scale(1.0474,1)" font-size="22.09" fill="#000" ><tspan font-style="italic">L</tspan> = 40, <tspan font-style="italic">c</tspan> = 1.01325</text>
<text transform="translate(764.73,281.19) scale(1.0474,1)" font-size="22.09" fill="#000" ><tspan font-style="italic">L</tspan> = 80, <tspan font-style="italic">c</tspan> = 1.00680</text>
<text transform="translate(764.73,310.19) scale(1.0417,1)" font-size="22.09" fill="#000" ><tspan font-style="italic">L</tspan> = 120, <tspan font-style="italic">c</tspan> = 1.00470</text>
<rect x="122.5" y="441.5" width="346" height="321.8" fill="none" stroke="#262626" stroke-width="2.5"/>
<path d="M122.5 763.3v-5M122.5 441.5v5M209 763.3v-5M209 441.5v5M258.09 763.3v-5M258.09 441.5v5M295.5 763.3v-5M295.5 441.5v5M382 763.3v-5M382 441.5v5M468.5 763.3v-5M468.5 441.5v5M122.5 763.3h5M468.5 763.3h-5M122.5 602.4h5M468.5 602.4h-5M122.5 441.5h5M468.5 441.5h-5" stroke="#262626" stroke-width="2.2" fill="none"/>
<defs><clipPath id="clipc"><rect x="122.5" y="441.5" width="346.0" height="321.79999999999995"/></clipPath></defs>
<polyline points="122.5,763.3 144.12,763.3 165.75,763.3 187.38,763.3 209,762.5 230.62,759.76 231.71,759.3 232.79,758.84 233.87,758.37 234.95,757.91 236.03,757.45 237.11,756.98 238.19,756.52 239.28,756.06 240.36,755.46 241.44,754.85 242.52,754.25 243.6,753.65 243.6,753.65 244.03,753.24 244.47,752.84 244.9,752.44 245.33,752.04 245.76,751.63 246.19,751.23 246.63,750.83 247.06,750.43 247.49,750.03 247.93,749.62 248.36,748.98 248.79,748.34 249.22,747.69 249.66,747.05 250.09,746.41 250.52,745.44 250.95,744.47 251.38,743.51 251.82,742.54 252.25,741.58 252.68,739.97 253.12,738.36 253.55,736.75 253.98,735.14 254.41,732.19 254.84,729.24 255.28,726.29 255.71,722.67 256.14,719.05 256.58,716.24 257.01,713.42 257.44,710.2 257.92,613.66 257.97,609.16 258.03,603.85 258.09,585.99 258.15,581.8 258.2,577.62 258.26,572.47 258.74,709.88 259.17,712.46 259.6,715.03 260.47,719.32 261.33,724.36 262.2,733.86 263.06,744.23 263.93,750.53 264.79,754.4 266.09,756.92 267.39,759.44 268.69,760.75 270.41,762.5 273.23,763.87 276.04,762.98 278.85,761.09 281.66,758.47 284.47,756.58 287.28,755.03 290.09,753.57 292.9,752.1 295.72,750.61 298.53,748.8 301.34,746.98 304.15,745.17 306.96,743.36 309.77,741.57 312.58,739.82 315.39,738.06 318.21,736.31 321.02,734.56 323.83,732.57 326.64,727.1 330.1,703.77 334.43,626.05 338.75,612.86 343.07,609.64 347.4,606.91 351.73,604.81 356.05,603.2 360.38,602.4 364.7,601.76 369.02,602.4 373.35,604.01 377.68,605.94 382,608.35 390.65,612.05 399.3,616.72 407.95,620.42 416.6,623.32 425.25,626.05 446.88,630.72 468.5,633.45" fill="none" stroke="#0000ff" stroke-width="2.0" stroke-linejoin="round" clip-path="url(#clipc)"/>
<path d="M119.6 760.4h5.8v5.8h-5.8ZM141.22 760.4h5.8v5.8h-5.8ZM162.85 760.4h5.8v5.8h-5.8ZM184.47 760.4h5.8v5.8h-5.8ZM206.1 759.6h5.8v5.8h-5.8ZM227.72 756.86h5.8v5.8h-5.8ZM229.89 755.94h5.8v5.8h-5.8ZM232.05 755.01h5.8v5.8h-5.8ZM234.21 754.08h5.8v5.8h-5.8ZM236.38 753.16h5.8v5.8h-5.8ZM238.54 751.95h5.8v5.8h-5.8ZM240.7 750.75h5.8v5.8h-5.8ZM242.43 749.14h5.8v5.8h-5.8ZM244.16 747.53h5.8v5.8h-5.8ZM245.89 745.44h5.8v5.8h-5.8ZM247.19 743.51h5.8v5.8h-5.8ZM248.05 741.57h5.8v5.8h-5.8ZM248.92 739.64h5.8v5.8h-5.8ZM249.78 737.07h5.8v5.8h-5.8ZM250.65 733.85h5.8v5.8h-5.8ZM251.51 729.29h5.8v5.8h-5.8ZM251.94 726.34h5.8v5.8h-5.8ZM252.38 723.39h5.8v5.8h-5.8ZM252.81 719.77h5.8v5.8h-5.8ZM253.24 716.15h5.8v5.8h-5.8ZM253.68 713.34h5.8v5.8h-5.8ZM254.11 710.52h5.8v5.8h-5.8ZM254.54 707.3h5.8v5.8h-5.8ZM255.02 610.76h5.8v5.8h-5.8ZM255.07 606.26h5.8v5.8h-5.8ZM255.13 600.95h5.8v5.8h-5.8ZM255.19 583.09h5.8v5.8h-5.8ZM255.25 578.9h5.8v5.8h-5.8ZM255.3 574.72h5.8v5.8h-5.8ZM255.36 569.57h5.8v5.8h-5.8ZM255.84 706.98h5.8v5.8h-5.8ZM256.27 709.56h5.8v5.8h-5.8ZM256.7 712.13h5.8v5.8h-5.8ZM257.57 716.42h5.8v5.8h-5.8ZM258.43 721.46h5.8v5.8h-5.8ZM259.3 730.96h5.8v5.8h-5.8ZM260.16 741.33h5.8v5.8h-5.8ZM261.03 747.63h5.8v5.8h-5.8ZM261.89 751.5h5.8v5.8h-5.8ZM263.19 754.02h5.8v5.8h-5.8ZM264.49 756.54h5.8v5.8h-5.8ZM267.51 759.6h5.8v5.8h-5.8ZM270.33 760.97h5.8v5.8h-5.8ZM273.14 760.08h5.8v5.8h-5.8ZM275.95 758.19h5.8v5.8h-5.8ZM278.76 755.57h5.8v5.8h-5.8ZM281.57 753.68h5.8v5.8h-5.8ZM284.38 752.13h5.8v5.8h-5.8ZM287.19 750.67h5.8v5.8h-5.8ZM290 749.2h5.8v5.8h-5.8ZM292.82 747.71h5.8v5.8h-5.8ZM295.63 745.9h5.8v5.8h-5.8ZM298.44 744.08h5.8v5.8h-5.8ZM301.25 742.27h5.8v5.8h-5.8ZM304.06 740.46h5.8v5.8h-5.8ZM306.87 738.67h5.8v5.8h-5.8ZM309.68 736.92h5.8v5.8h-5.8ZM312.5 735.16h5.8v5.8h-5.8ZM315.31 733.41h5.8v5.8h-5.8ZM318.12 731.66h5.8v5.8h-5.8ZM320.93 729.67h5.8v5.8h-5.8ZM323.74 724.2h5.8v5.8h-5.8ZM327.2 700.87h5.8v5.8h-5.8ZM331.53 623.15h5.8v5.8h-5.8ZM335.85 609.96h5.8v5.8h-5.8ZM340.18 606.74h5.8v5.8h-5.8ZM344.5 604.01h5.8v5.8h-5.8ZM348.83 601.91h5.8v5.8h-5.8ZM353.15 600.3h5.8v5.8h-5.8ZM357.48 599.5h5.8v5.8h-5.8ZM361.8 598.86h5.8v5.8h-5.8ZM366.12 599.5h5.8v5.8h-5.8ZM370.45 601.11h5.8v5.8h-5.8ZM374.78 603.04h5.8v5.8h-5.8ZM379.1 605.45h5.8v5.8h-5.8ZM387.75 609.15h5.8v5.8h-5.8ZM396.4 613.82h5.8v5.8h-5.8ZM405.05 617.52h5.8v5.8h-5.8ZM413.7 620.42h5.8v5.8h-5.8ZM422.35 623.15h5.8v5.8h-5.8ZM443.98 627.82h5.8v5.8h-5.8ZM465.6 630.55h5.8v5.8h-5.8Z" fill="none" stroke="#0000ff" stroke-width="1.7" />
<polyline points="122.5,763.3 144.12,763.3 165.75,763.3 187.38,763.3 209,762.5 230.62,759.76 231.71,759.3 232.79,758.84 233.87,758.37 234.95,757.91 236.03,757.45 237.11,756.98 238.19,756.52 239.28,756.06 240.36,755.46 241.44,754.85 242.52,754.25 243.6,753.65 243.6,753.65 244.03,753.24 244.47,752.84 244.9,752.44 245.33,752.04 245.76,751.63 246.19,751.23 246.63,750.83 247.06,750.43 247.49,750.03 247.93,749.62 248.36,748.98 248.79,748.34 249.22,747.69 249.66,747.05 250.09,746.41 250.52,745.44 250.95,744.47 251.38,743.51 251.82,742.54 252.25,741.58 252.68,739.97 253.12,738.36 253.55,736.75 253.98,735.14 254.41,732.19 254.84,729.24 255.28,726.29 255.71,722.67 256.14,719.05 256.58,716.24 257.01,713.42 257.44,710.2 257.92,592.26 258.03,586.95 258.15,579.71 258.26,555.58 258.74,709.88 259.17,712.46 259.6,715.03 260.47,719.32 261.33,724.36 262.2,733.86 263.06,744.23 263.93,750.53 264.79,754.4 266.09,756.92 267.39,759.44 268.69,760.75 270.41,762.5 273.23,763.87 276.04,762.98 278.85,761.09 281.66,758.47 284.47,756.58 287.28,755.03 290.09,753.57 292.9,752.1 295.72,750.61 298.53,748.8 301.34,746.98 304.15,745.17 306.96,743.36 309.77,741.57 312.58,739.82 315.39,738.06 318.21,736.31 321.02,734.56 323.83,732.57 326.64,730.48 329.45,728.38 332.26,726.29 335.07,724.26 337.88,722.4 340.7,720.54 343.51,718.69 347.83,709.08 351.73,673.68 356.05,620.58 360.38,596.77 364.7,591.14 369.02,587.92 373.35,585.51 377.68,584.38 382,584.06 390.65,585.99 399.3,589.69 407.95,594.35 416.6,598.06 425.25,601.76 446.88,608.35 468.5,611.57" fill="none" stroke="#008000" stroke-width="2.0" stroke-linejoin="round" clip-path="url(#clipc)"/>
<path d="M119.25 760.05l6.5 6.5M119.25 766.55l6.5 -6.5M140.88 760.05l6.5 6.5M140.88 766.55l6.5 -6.5M162.5 760.05l6.5 6.5M162.5 766.55l6.5 -6.5M184.12 760.05l6.5 6.5M184.12 766.55l6.5 -6.5M205.75 759.25l6.5 6.5M205.75 765.75l6.5 -6.5M227.38 756.51l6.5 6.5M227.38 763.01l6.5 -6.5M229.54 755.59l6.5 6.5M229.54 762.09l6.5 -6.5M231.7 754.66l6.5 6.5M231.7 761.16l6.5 -6.5M233.86 753.73l6.5 6.5M233.86 760.23l6.5 -6.5M236.03 752.81l6.5 6.5M236.03 759.31l6.5 -6.5M238.19 751.6l6.5 6.5M238.19 758.1l6.5 -6.5M240.35 750.4l6.5 6.5M240.35 756.9l6.5 -6.5M242.08 748.79l6.5 6.5M242.08 755.29l6.5 -6.5M243.81 747.18l6.5 6.5M243.81 753.68l6.5 -6.5M245.54 745.09l6.5 6.5M245.54 751.59l6.5 -6.5M246.84 743.16l6.5 6.5M246.84 749.66l6.5 -6.5M247.7 741.22l6.5 6.5M247.7 747.72l6.5 -6.5M248.57 739.29l6.5 6.5M248.57 745.79l6.5 -6.5M249.43 736.72l6.5 6.5M249.43 743.22l6.5 -6.5M250.3 733.5l6.5 6.5M250.3 740l6.5 -6.5M251.16 728.94l6.5 6.5M251.16 735.44l6.5 -6.5M251.59 725.99l6.5 6.5M251.59 732.49l6.5 -6.5M252.03 723.04l6.5 6.5M252.03 729.54l6.5 -6.5M252.46 719.42l6.5 6.5M252.46 725.92l6.5 -6.5M252.89 715.8l6.5 6.5M252.89 722.3l6.5 -6.5M253.33 712.99l6.5 6.5M253.33 719.49l6.5 -6.5M253.76 710.17l6.5 6.5M253.76 716.67l6.5 -6.5M254.19 706.95l6.5 6.5M254.19 713.45l6.5 -6.5M254.67 589.01l6.5 6.5M254.67 595.51l6.5 -6.5M254.78 583.7l6.5 6.5M254.78 590.2l6.5 -6.5M254.9 576.46l6.5 6.5M254.9 582.96l6.5 -6.5M255.01 552.33l6.5 6.5M255.01 558.83l6.5 -6.5M255.49 706.63l6.5 6.5M255.49 713.13l6.5 -6.5M255.92 709.21l6.5 6.5M255.92 715.71l6.5 -6.5M256.35 711.78l6.5 6.5M256.35 718.28l6.5 -6.5M257.22 716.07l6.5 6.5M257.22 722.57l6.5 -6.5M258.08 721.11l6.5 6.5M258.08 727.61l6.5 -6.5M258.95 730.61l6.5 6.5M258.95 737.11l6.5 -6.5M259.81 740.98l6.5 6.5M259.81 747.48l6.5 -6.5M260.68 747.28l6.5 6.5M260.68 753.78l6.5 -6.5M261.54 751.15l6.5 6.5M261.54 757.65l6.5 -6.5M262.84 753.67l6.5 6.5M262.84 760.17l6.5 -6.5M264.14 756.19l6.5 6.5M264.14 762.69l6.5 -6.5M267.16 759.25l6.5 6.5M267.16 765.75l6.5 -6.5M269.98 760.62l6.5 6.5M269.98 767.12l6.5 -6.5M272.79 759.73l6.5 6.5M272.79 766.23l6.5 -6.5M275.6 757.84l6.5 6.5M275.6 764.34l6.5 -6.5M278.41 755.22l6.5 6.5M278.41 761.72l6.5 -6.5M281.22 753.33l6.5 6.5M281.22 759.83l6.5 -6.5M284.03 751.78l6.5 6.5M284.03 758.28l6.5 -6.5M286.84 750.32l6.5 6.5M286.84 756.82l6.5 -6.5M289.65 748.85l6.5 6.5M289.65 755.35l6.5 -6.5M292.47 747.36l6.5 6.5M292.47 753.86l6.5 -6.5M295.28 745.55l6.5 6.5M295.28 752.05l6.5 -6.5M298.09 743.73l6.5 6.5M298.09 750.23l6.5 -6.5M300.9 741.92l6.5 6.5M300.9 748.42l6.5 -6.5M303.71 740.11l6.5 6.5M303.71 746.61l6.5 -6.5M306.52 738.32l6.5 6.5M306.52 744.82l6.5 -6.5M309.33 736.57l6.5 6.5M309.33 743.07l6.5 -6.5M312.14 734.81l6.5 6.5M312.14 741.31l6.5 -6.5M314.96 733.06l6.5 6.5M314.96 739.56l6.5 -6.5M317.77 731.31l6.5 6.5M317.77 737.81l6.5 -6.5M320.58 729.32l6.5 6.5M320.58 735.82l6.5 -6.5M323.39 727.23l6.5 6.5M323.39 733.73l6.5 -6.5M326.2 725.13l6.5 6.5M326.2 731.63l6.5 -6.5M329.01 723.04l6.5 6.5M329.01 729.54l6.5 -6.5M331.82 721.01l6.5 6.5M331.82 727.51l6.5 -6.5M334.63 719.15l6.5 6.5M334.63 725.65l6.5 -6.5M337.45 717.29l6.5 6.5M337.45 723.79l6.5 -6.5M340.26 715.44l6.5 6.5M340.26 721.94l6.5 -6.5M344.58 705.83l6.5 6.5M344.58 712.33l6.5 -6.5M348.48 670.43l6.5 6.5M348.48 676.93l6.5 -6.5M352.8 617.33l6.5 6.5M352.8 623.83l6.5 -6.5M357.12 593.52l6.5 6.5M357.12 600.02l6.5 -6.5M361.45 587.89l6.5 6.5M361.45 594.39l6.5 -6.5M365.77 584.67l6.5 6.5M365.77 591.17l6.5 -6.5M370.1 582.26l6.5 6.5M370.1 588.76l6.5 -6.5M374.43 581.13l6.5 6.5M374.43 587.63l6.5 -6.5M378.75 580.81l6.5 6.5M378.75 587.31l6.5 -6.5M387.4 582.74l6.5 6.5M387.4 589.24l6.5 -6.5M396.05 586.44l6.5 6.5M396.05 592.94l6.5 -6.5M404.7 591.1l6.5 6.5M404.7 597.6l6.5 -6.5M413.35 594.81l6.5 6.5M413.35 601.31l6.5 -6.5M422 598.51l6.5 6.5M422 605.01l6.5 -6.5M443.62 605.1l6.5 6.5M443.62 611.6l6.5 -6.5M465.25 608.32l6.5 6.5M465.25 614.82l6.5 -6.5" fill="none" stroke="#008000" stroke-width="1.8" />
<polyline points="122.5,763.3 144.12,763.3 165.75,763.3 187.38,763.3 209,762.5 230.62,759.76 231.71,759.3 232.79,758.84 233.87,758.37 234.95,757.91 236.03,757.45 237.11,756.98 238.19,756.52 239.28,756.06 240.36,755.46 241.44,754.85 242.52,754.25 243.6,753.65 243.6,753.65 244.03,753.24 244.47,752.84 244.9,752.44 245.33,752.04 245.76,751.63 246.19,751.23 246.63,750.83 247.06,750.43 247.49,750.03 247.93,749.62 248.36,748.98 248.79,748.34 249.22,747.69 249.66,747.05 250.09,746.41 250.52,745.44 250.95,744.47 251.38,743.51 251.82,742.54 252.25,741.58 252.68,739.97 253.12,738.36 253.55,736.75 253.98,735.14 254.41,732.19 254.84,729.24 255.28,726.29 255.71,722.67 256.14,719.05 256.58,716.24 257.01,713.42 257.44,710.2 257.92,678.34 258.26,535.79 258.74,709.88 259.17,712.46 259.6,715.03 260.47,719.32 261.33,724.36 262.2,733.86 263.06,744.23 263.93,750.53 264.79,754.4 266.09,756.92 267.39,759.44 268.69,760.75 270.41,762.5 273.23,763.87 276.04,762.98 278.85,761.09 281.66,758.47 284.47,756.58 287.28,755.03 290.09,753.57 292.9,752.1 295.72,750.61 298.53,748.8 301.34,746.98 304.15,745.17 306.96,743.36 309.77,741.57 312.58,739.82 315.39,738.06 318.21,736.31 321.02,734.56 323.83,732.57 326.64,730.48 329.45,728.38 332.26,726.29 335.07,724.26 337.88,722.4 340.7,720.54 343.51,718.69 346.32,716.83 349.13,714.89 351.94,712.83 354.75,710.77 357.56,708.72 360.38,706.66 363.19,704.77 366,702.88 368.81,701 371.62,688.64 378.11,649.38 382,587.76 386.32,575.53 390.65,573.2 394.97,568.71 399.3,566.52 403.62,566.91 407.95,567.81 412.28,569.58 416.6,571.83 420.93,573.76 425.25,575.53 429.57,577.78 433.9,579.55 438.22,580.84 442.55,582.77 446.88,584.06 451.2,585.34 455.53,586.79 459.85,588.08 464.18,589.05 468.5,589.85" fill="none" stroke="#c000c0" stroke-width="2.0" stroke-linejoin="round" clip-path="url(#clipc)"/>
<path d="M122.5 757.63L127.5 766.13L117.5 766.13ZM144.12 757.63L149.12 766.13L139.12 766.13ZM165.75 757.63L170.75 766.13L160.75 766.13ZM187.38 757.63L192.38 766.13L182.38 766.13ZM209 756.83L214 765.33L204 765.33ZM230.62 754.09L235.62 762.59L225.62 762.59ZM232.79 753.17L237.79 761.67L227.79 761.67ZM234.95 752.24L239.95 760.74L229.95 760.74ZM237.11 751.32L242.11 759.82L232.11 759.82ZM239.28 750.39L244.28 758.89L234.28 758.89ZM241.44 749.19L246.44 757.69L236.44 757.69ZM243.6 747.98L248.6 756.48L238.6 756.48ZM245.33 746.37L250.33 754.87L240.33 754.87ZM247.06 744.76L252.06 753.26L242.06 753.26ZM248.79 742.67L253.79 751.17L243.79 751.17ZM250.09 740.74L255.09 749.24L245.09 749.24ZM250.95 738.81L255.95 747.31L245.95 747.31ZM251.82 736.88L256.82 745.38L246.82 745.38ZM252.68 734.3L257.68 742.8L247.68 742.8ZM253.55 731.08L258.55 739.58L248.55 739.58ZM254.41 726.53L259.41 735.03L249.41 735.03ZM254.84 723.58L259.85 732.08L249.84 732.08ZM255.28 720.63L260.28 729.13L250.28 729.13ZM255.71 717.01L260.71 725.51L250.71 725.51ZM256.14 713.39L261.14 721.89L251.14 721.89ZM256.58 710.57L261.58 719.07L251.58 719.07ZM257.01 707.75L262.01 716.25L252.01 716.25ZM257.44 704.54L262.44 713.04L252.44 713.04ZM257.92 672.68L262.92 681.18L252.92 681.18ZM258.26 530.12L263.26 538.62L253.26 538.62ZM258.74 704.21L263.74 712.71L253.74 712.71ZM259.17 706.79L264.17 715.29L254.17 715.29ZM259.6 709.36L264.6 717.86L254.6 717.86ZM260.47 713.65L265.47 722.15L255.47 722.15ZM261.33 718.7L266.33 727.2L256.33 727.2ZM262.2 728.19L267.2 736.69L257.2 736.69ZM263.06 738.57L268.06 747.07L258.06 747.07ZM263.93 744.87L268.93 753.37L258.93 753.37ZM264.79 748.73L269.79 757.23L259.79 757.23ZM266.09 751.25L271.09 759.75L261.09 759.75ZM267.39 753.77L272.39 762.27L262.39 762.27ZM270.41 756.83L275.41 765.33L265.41 765.33ZM273.23 758.21L278.23 766.71L268.23 766.71ZM276.04 757.31L281.04 765.81L271.04 765.81ZM278.85 755.42L283.85 763.92L273.85 763.92ZM281.66 752.81L286.66 761.31L276.66 761.31ZM284.47 750.92L289.47 759.42L279.47 759.42ZM287.28 749.36L292.28 757.86L282.28 757.86ZM290.09 747.9L295.09 756.4L285.09 756.4ZM292.9 746.43L297.9 754.93L287.9 754.93ZM295.72 744.94L300.72 753.44L290.72 753.44ZM298.53 743.13L303.53 751.63L293.53 751.63ZM301.34 741.32L306.34 749.82L296.34 749.82ZM304.15 739.51L309.15 748.01L299.15 748.01ZM306.96 737.69L311.96 746.19L301.96 746.19ZM309.77 735.91L314.77 744.41L304.77 744.41ZM312.58 734.15L317.58 742.65L307.58 742.65ZM315.39 732.4L320.39 740.9L310.39 740.9ZM318.21 730.64L323.21 739.14L313.21 739.14ZM321.02 728.89L326.02 737.39L316.02 737.39ZM323.83 726.9L328.83 735.4L318.83 735.4ZM326.64 724.81L331.64 733.31L321.64 733.31ZM329.45 722.72L334.45 731.22L324.45 731.22ZM332.26 720.63L337.26 729.13L327.26 729.13ZM335.07 718.59L340.07 727.09L330.07 727.09ZM337.88 716.73L342.88 725.23L332.88 725.23ZM340.7 714.88L345.7 723.38L335.7 723.38ZM343.51 713.02L348.51 721.52L338.51 721.52ZM346.32 711.17L351.32 719.67L341.32 719.67ZM349.13 709.22L354.13 717.72L344.13 717.72ZM351.94 707.16L356.94 715.66L346.94 715.66ZM354.75 705.11L359.75 713.61L349.75 713.61ZM357.56 703.05L362.56 711.55L352.56 711.55ZM360.38 701L365.38 709.5L355.38 709.5ZM363.19 699.11L368.19 707.61L358.19 707.61ZM366 697.22L371 705.72L361 705.72ZM368.81 695.33L373.81 703.83L363.81 703.83ZM371.62 682.98L376.62 691.48L366.62 691.48ZM378.11 643.72L383.11 652.22L373.11 652.22ZM382 582.09L387 590.59L377 590.59ZM386.32 569.86L391.32 578.36L381.32 578.36ZM390.65 567.53L395.65 576.03L385.65 576.03ZM394.97 563.04L399.97 571.54L389.97 571.54ZM399.3 560.85L404.3 569.35L394.3 569.35ZM403.62 561.24L408.62 569.74L398.62 569.74ZM407.95 562.14L412.95 570.64L402.95 570.64ZM412.28 563.91L417.28 572.41L407.28 572.41ZM416.6 566.16L421.6 574.66L411.6 574.66ZM420.93 568.09L425.93 576.59L415.93 576.59ZM425.25 569.86L430.25 578.36L420.25 578.36ZM429.57 572.12L434.57 580.62L424.57 580.62ZM433.9 573.89L438.9 582.39L428.9 582.39ZM438.22 575.17L443.22 583.67L433.22 583.67ZM442.55 577.1L447.55 585.6L437.55 585.6ZM446.88 578.39L451.88 586.89L441.88 586.89ZM451.2 579.68L456.2 588.18L446.2 588.18ZM455.53 581.13L460.53 589.63L450.53 589.63ZM459.85 582.41L464.85 590.91L454.85 590.91ZM464.18 583.38L469.18 591.88L459.18 591.88ZM468.5 584.18L473.5 592.68L463.5 592.68Z" fill="none" stroke="#c000c0" stroke-width="1.5" />
<polyline points="122.5,763.3 144.12,763.3 165.75,763.3 187.38,763.3 209,762.5 230.62,759.76 231.71,759.3 232.79,758.84 233.87,758.37 234.95,757.91 236.03,757.45 237.11,756.98 238.19,756.52 239.28,756.06 240.36,755.46 241.44,754.85 242.52,754.25 243.6,753.65 243.6,753.65 244.03,753.24 244.47,752.84 244.9,752.44 245.33,752.04 245.76,751.63 246.19,751.23 246.63,750.83 247.06,750.43 247.49,750.03 247.93,749.62 248.36,748.98 248.79,748.34 249.22,747.69 249.66,747.05 250.09,746.41 250.52,745.44 250.95,744.47 251.38,743.51 251.82,742.54 252.25,741.58 252.68,739.97 253.12,738.36 253.55,736.75 253.98,735.14 254.41,732.19 254.84,729.24 255.28,726.29 255.71,722.67 256.14,719.05 256.58,716.24 257.01,713.42 257.44,710.2 257.92,704.89 258.09,697.33 258.26,518.57 258.74,709.88 259.17,712.46 259.6,715.03 260.47,719.32 261.33,724.36 262.2,733.86 263.06,744.23 263.93,750.53 264.79,754.4 266.09,756.92 267.39,759.44 268.69,760.75 270.41,762.5 273.23,763.87 276.04,762.98 278.85,761.09 281.66,758.47 284.47,756.58 287.28,755.03 290.09,753.57 292.9,752.1 295.72,750.61 298.53,748.8 301.34,746.98 304.15,745.17 306.96,743.36 309.77,741.57 312.58,739.82 315.39,738.06 318.21,736.31 321.02,734.56 323.83,732.57 326.64,730.48 329.45,728.38 332.26,726.29 335.07,724.26 337.88,722.4 340.7,720.54 343.51,718.69 346.32,716.83 349.13,714.89 351.94,712.83 354.75,710.77 357.56,708.72 360.38,706.66 363.19,704.77 366,702.88 368.81,701 371.62,699.11 374.43,697.16 377.24,695.02 380.05,692.89 390.65,683.01 399.3,642.95 407.95,555.26 416.6,548.66 425.25,546.41 446.88,556.7 468.5,566.36" fill="none" stroke="#000000" stroke-width="2.0" stroke-linejoin="round" clip-path="url(#clipc)"/>
<path d="M118.2 763.3a4.3 4.3 0 1 0 8.6 0a4.3 4.3 0 1 0 -8.6 0M139.82 763.3a4.3 4.3 0 1 0 8.6 0a4.3 4.3 0 1 0 -8.6 0M161.45 763.3a4.3 4.3 0 1 0 8.6 0a4.3 4.3 0 1 0 -8.6 0M183.07 763.3a4.3 4.3 0 1 0 8.6 0a4.3 4.3 0 1 0 -8.6 0M204.7 762.5a4.3 4.3 0 1 0 8.6 0a4.3 4.3 0 1 0 -8.6 0M226.32 759.76a4.3 4.3 0 1 0 8.6 0a4.3 4.3 0 1 0 -8.6 0M228.49 758.84a4.3 4.3 0 1 0 8.6 0a4.3 4.3 0 1 0 -8.6 0M230.65 757.91a4.3 4.3 0 1 0 8.6 0a4.3 4.3 0 1 0 -8.6 0M232.81 756.98a4.3 4.3 0 1 0 8.6 0a4.3 4.3 0 1 0 -8.6 0M234.97 756.06a4.3 4.3 0 1 0 8.6 0a4.3 4.3 0 1 0 -8.6 0M237.14 754.85a4.3 4.3 0 1 0 8.6 0a4.3 4.3 0 1 0 -8.6 0M239.3 753.65a4.3 4.3 0 1 0 8.6 0a4.3 4.3 0 1 0 -8.6 0M241.03 752.04a4.3 4.3 0 1 0 8.6 0a4.3 4.3 0 1 0 -8.6 0M242.76 750.43a4.3 4.3 0 1 0 8.6 0a4.3 4.3 0 1 0 -8.6 0M244.49 748.34a4.3 4.3 0 1 0 8.6 0a4.3 4.3 0 1 0 -8.6 0M245.79 746.41a4.3 4.3 0 1 0 8.6 0a4.3 4.3 0 1 0 -8.6 0M246.65 744.47a4.3 4.3 0 1 0 8.6 0a4.3 4.3 0 1 0 -8.6 0M247.52 742.54a4.3 4.3 0 1 0 8.6 0a4.3 4.3 0 1 0 -8.6 0M248.38 739.97a4.3 4.3 0 1 0 8.6 0a4.3 4.3 0 1 0 -8.6 0M249.25 736.75a4.3 4.3 0 1 0 8.6 0a4.3 4.3 0 1 0 -8.6 0M250.11 732.19a4.3 4.3 0 1 0 8.6 0a4.3 4.3 0 1 0 -8.6 0M250.54 729.24a4.3 4.3 0 1 0 8.6 0a4.3 4.3 0 1 0 -8.6 0M250.98 726.29a4.3 4.3 0 1 0 8.6 0a4.3 4.3 0 1 0 -8.6 0M251.41 722.67a4.3 4.3 0 1 0 8.6 0a4.3 4.3 0 1 0 -8.6 0M251.84 719.05a4.3 4.3 0 1 0 8.6 0a4.3 4.3 0 1 0 -8.6 0M252.28 716.24a4.3 4.3 0 1 0 8.6 0a4.3 4.3 0 1 0 -8.6 0M252.71 713.42a4.3 4.3 0 1 0 8.6 0a4.3 4.3 0 1 0 -8.6 0M253.14 710.2a4.3 4.3 0 1 0 8.6 0a4.3 4.3 0 1 0 -8.6 0M253.62 704.89a4.3 4.3 0 1 0 8.6 0a4.3 4.3 0 1 0 -8.6 0M253.79 697.33a4.3 4.3 0 1 0 8.6 0a4.3 4.3 0 1 0 -8.6 0M253.96 518.57a4.3 4.3 0 1 0 8.6 0a4.3 4.3 0 1 0 -8.6 0M254.44 709.88a4.3 4.3 0 1 0 8.6 0a4.3 4.3 0 1 0 -8.6 0M254.87 712.46a4.3 4.3 0 1 0 8.6 0a4.3 4.3 0 1 0 -8.6 0M255.3 715.03a4.3 4.3 0 1 0 8.6 0a4.3 4.3 0 1 0 -8.6 0M256.17 719.32a4.3 4.3 0 1 0 8.6 0a4.3 4.3 0 1 0 -8.6 0M257.03 724.36a4.3 4.3 0 1 0 8.6 0a4.3 4.3 0 1 0 -8.6 0M257.9 733.86a4.3 4.3 0 1 0 8.6 0a4.3 4.3 0 1 0 -8.6 0M258.76 744.23a4.3 4.3 0 1 0 8.6 0a4.3 4.3 0 1 0 -8.6 0M259.63 750.53a4.3 4.3 0 1 0 8.6 0a4.3 4.3 0 1 0 -8.6 0M260.49 754.4a4.3 4.3 0 1 0 8.6 0a4.3 4.3 0 1 0 -8.6 0M261.79 756.92a4.3 4.3 0 1 0 8.6 0a4.3 4.3 0 1 0 -8.6 0M263.09 759.44a4.3 4.3 0 1 0 8.6 0a4.3 4.3 0 1 0 -8.6 0M266.11 762.5a4.3 4.3 0 1 0 8.6 0a4.3 4.3 0 1 0 -8.6 0M268.93 763.87a4.3 4.3 0 1 0 8.6 0a4.3 4.3 0 1 0 -8.6 0M271.74 762.98a4.3 4.3 0 1 0 8.6 0a4.3 4.3 0 1 0 -8.6 0M274.55 761.09a4.3 4.3 0 1 0 8.6 0a4.3 4.3 0 1 0 -8.6 0M277.36 758.47a4.3 4.3 0 1 0 8.6 0a4.3 4.3 0 1 0 -8.6 0M280.17 756.58a4.3 4.3 0 1 0 8.6 0a4.3 4.3 0 1 0 -8.6 0M282.98 755.03a4.3 4.3 0 1 0 8.6 0a4.3 4.3 0 1 0 -8.6 0M285.79 753.57a4.3 4.3 0 1 0 8.6 0a4.3 4.3 0 1 0 -8.6 0M288.6 752.1a4.3 4.3 0 1 0 8.6 0a4.3 4.3 0 1 0 -8.6 0M291.42 750.61a4.3 4.3 0 1 0 8.6 0a4.3 4.3 0 1 0 -8.6 0M294.23 748.8a4.3 4.3 0 1 0 8.6 0a4.3 4.3 0 1 0 -8.6 0M297.04 746.98a4.3 4.3 0 1 0 8.6 0a4.3 4.3 0 1 0 -8.6 0M299.85 745.17a4.3 4.3 0 1 0 8.6 0a4.3 4.3 0 1 0 -8.6 0M302.66 743.36a4.3 4.3 0 1 0 8.6 0a4.3 4.3 0 1 0 -8.6 0M305.47 741.57a4.3 4.3 0 1 0 8.6 0a4.3 4.3 0 1 0 -8.6 0M308.28 739.82a4.3 4.3 0 1 0 8.6 0a4.3 4.3 0 1 0 -8.6 0M311.09 738.06a4.3 4.3 0 1 0 8.6 0a4.3 4.3 0 1 0 -8.6 0M313.91 736.31a4.3 4.3 0 1 0 8.6 0a4.3 4.3 0 1 0 -8.6 0M316.72 734.56a4.3 4.3 0 1 0 8.6 0a4.3 4.3 0 1 0 -8.6 0M319.53 732.57a4.3 4.3 0 1 0 8.6 0a4.3 4.3 0 1 0 -8.6 0M322.34 730.48a4.3 4.3 0 1 0 8.6 0a4.3 4.3 0 1 0 -8.6 0M325.15 728.38a4.3 4.3 0 1 0 8.6 0a4.3 4.3 0 1 0 -8.6 0M327.96 726.29a4.3 4.3 0 1 0 8.6 0a4.3 4.3 0 1 0 -8.6 0M330.77 724.26a4.3 4.3 0 1 0 8.6 0a4.3 4.3 0 1 0 -8.6 0M333.58 722.4a4.3 4.3 0 1 0 8.6 0a4.3 4.3 0 1 0 -8.6 0M336.4 720.54a4.3 4.3 0 1 0 8.6 0a4.3 4.3 0 1 0 -8.6 0M339.21 718.69a4.3 4.3 0 1 0 8.6 0a4.3 4.3 0 1 0 -8.6 0M342.02 716.83a4.3 4.3 0 1 0 8.6 0a4.3 4.3 0 1 0 -8.6 0M344.83 714.89a4.3 4.3 0 1 0 8.6 0a4.3 4.3 0 1 0 -8.6 0M347.64 712.83a4.3 4.3 0 1 0 8.6 0a4.3 4.3 0 1 0 -8.6 0M350.45 710.77a4.3 4.3 0 1 0 8.6 0a4.3 4.3 0 1 0 -8.6 0M353.26 708.72a4.3 4.3 0 1 0 8.6 0a4.3 4.3 0 1 0 -8.6 0M356.07 706.66a4.3 4.3 0 1 0 8.6 0a4.3 4.3 0 1 0 -8.6 0M358.89 704.77a4.3 4.3 0 1 0 8.6 0a4.3 4.3 0 1 0 -8.6 0M361.7 702.88a4.3 4.3 0 1 0 8.6 0a4.3 4.3 0 1 0 -8.6 0M364.51 701a4.3 4.3 0 1 0 8.6 0a4.3 4.3 0 1 0 -8.6 0M367.32 699.11a4.3 4.3 0 1 0 8.6 0a4.3 4.3 0 1 0 -8.6 0M370.13 697.16a4.3 4.3 0 1 0 8.6 0a4.3 4.3 0 1 0 -8.6 0M372.94 695.02a4.3 4.3 0 1 0 8.6 0a4.3 4.3 0 1 0 -8.6 0M375.75 692.89a4.3 4.3 0 1 0 8.6 0a4.3 4.3 0 1 0 -8.6 0M386.35 683.01a4.3 4.3 0 1 0 8.6 0a4.3 4.3 0 1 0 -8.6 0M395 642.95a4.3 4.3 0 1 0 8.6 0a4.3 4.3 0 1 0 -8.6 0M403.65 555.26a4.3 4.3 0 1 0 8.6 0a4.3 4.3 0 1 0 -8.6 0M412.3 548.66a4.3 4.3 0 1 0 8.6 0a4.3 4.3 0 1 0 -8.6 0M420.95 546.41a4.3 4.3 0 1 0 8.6 0a4.3 4.3 0 1 0 -8.6 0M442.57 556.7a4.3 4.3 0 1 0 8.6 0a4.3 4.3 0 1 0 -8.6 0M464.2 566.36a4.3 4.3 0 1 0 8.6 0a4.3 4.3 0 1 0 -8.6 0" fill="none" stroke="#000000" stroke-width="1.3" />
<text transform="translate(23.35,456.28) scale(0.8900,1)" font-size="46.15" fill="#000" >(c)</text>
<text transform="translate(90.41,450.80) scale(1.1647,1)" font-size="36.06" fill="#000" >2</text>
<text transform="translate(90.10,613.00) scale(1.0476,1)" font-size="38.18" fill="#000" >1</text>
<text transform="translate(89.17,773.41) scale(1.1038,1)" font-size="39.26" fill="#000" >0</text>
<text transform="translate(73.68,730.79) rotate(-90) scale(1.0176,1)" font-size="41.56" fill="#000" >Central Cut EE</text>
<text transform="translate(104.56,809.50) scale(1.0248,1)" font-size="40.15" fill="#000" >-4</text>
<text transform="translate(191.40,809.50) scale(0.9996,1)" font-size="40.15" fill="#000" >-2</text>
<text transform="translate(238.40,802.38) scale(1.2500,1)" font-size="35.61" fill="#000" ><tspan font-style="italic">z</tspan><tspan font-style="italic" font-size="24.92" dy="7.12">zx</tspan></text>
<text transform="translate(285.42,809.59) scale(1.0138,1)" font-size="41.33" fill="#000" >0</text>
<text transform="translate(371.23,809.50) scale(1.0979,1)" font-size="39.85" fill="#000" >2</text>
<text transform="translate(459.12,809.50) scale(0.9822,1)" font-size="39.85" fill="#000" >4</text>
<text transform="translate(295.20,840.70) scale(1.0622,1)" font-size="41.52" fill="#000" >z</text>
<text transform="translate(168.82,488.72) scale(0.9582,1)" font-size="28.06" fill="#000" >OBC</text>
<text transform="translate(157.71,526.21) scale(1.0358,1)" font-size="28.73" fill="#000" ><tspan font-style="italic">θ</tspan></text>
<text transform="translate(179.86,529.13) scale(1.2500,1)" font-size="30.40" fill="#000" >=</text>
<text transform="translate(211.10,515.50) scale(1.0863,1)" font-size="19.85" fill="#000" >7<tspan font-style="italic">π</tspan></text>
<path d="M211.9 519.3H234" stroke="#000" stroke-width="1.2"/>
<text transform="translate(217.45,535.80) scale(1.0831,1)" font-size="19.55" fill="#000" >6</text>
<text transform="translate(148.27,715.90) scale(0.9578,1)" font-size="38.78" fill="#000" >z-FM</text>
<text transform="translate(370.62,743.20) scale(0.9825,1)" font-size="38.17" fill="#000" >x-FM</text>
<polyline points="291.4,463.7 320.8,463.7" fill="none" stroke="#0000ff" stroke-width="2.0" stroke-linejoin="round" />
<path d="M303.1 460.8h5.8v5.8h-5.8Z" fill="none" stroke="#0000ff" stroke-width="1.7" />
<polyline points="291.4,485.5 320.8,485.5" fill="none" stroke="#008000" stroke-width="2.0" stroke-linejoin="round" />
<path d="M302.75 482.25l6.5 6.5M302.75 488.75l6.5 -6.5" fill="none" stroke="#008000" stroke-width="1.8" />
<polyline points="291.4,507.3 320.8,507.3" fill="none" stroke="#c000c0" stroke-width="2.0" stroke-linejoin="round" />
<path d="M306 502.83L311 511.33L301 511.33Z" fill="none" stroke="#c000c0" stroke-width="1.5" />
<polyline points="291.4,529.5 320.8,529.5" fill="none" stroke="#000000" stroke-width="2.0" stroke-linejoin="round" />
<path d="M301.7 529.5a4.3 4.3 0 1 0 8.6 0a4.3 4.3 0 1 0 -8.6 0" fill="none" stroke="#000000" stroke-width="1.3" />
<text transform="translate(328.50,468.58) scale(0.9760,1)" font-size="20.12" fill="#000" ><tspan font-style="italic">L</tspan> = 60, <tspan font-style="italic">m</tspan> = 200</text>
<text transform="translate(328.50,490.38) scale(0.9737,1)" font-size="20.12" fill="#000" ><tspan font-style="italic">L</tspan> = 100, <tspan font-style="italic">m</tspan> = 300</text>
<text transform="translate(328.50,512.18) scale(0.9737,1)" font-size="20.12" fill="#000" ><tspan font-style="italic">L</tspan> = 200, <tspan font-style="italic">m</tspan> = 400</text>
<text transform="translate(328.50,534.38) scale(0.9737,1)" font-size="20.12" fill="#000" ><tspan font-style="italic">L</tspan> = 400, <tspan font-style="italic">m</tspan> = 500</text>
<rect x="629" y="440.6" width="347.6" height="322.9" fill="none" stroke="#262626" stroke-width="2.5"/>
<path d="M629 763.5v-5M629 440.6v5M715.9 763.5v-5M715.9 440.6v5M765.22 763.5v-5M765.22 440.6v5M802.8 763.5v-5M802.8 440.6v5M889.7 763.5v-5M889.7 440.6v5M976.6 763.5v-5M976.6 440.6v5M629 750.9h5M976.6 750.9h-5M629 688.8h5M976.6 688.8h-5M629 626.7h5M976.6 626.7h-5M629 564.6h5M976.6 564.6h-5M629 502.5h5M976.6 502.5h-5M629 440.4h5M976.6 440.4h-5" stroke="#262626" stroke-width="2.2" fill="none"/>
<polyline points="629,750.9 650.73,750.9 672.45,750.9 694.17,750.9 715.9,750.9 737.62,750.9 739.8,750.9 741.97,750.9 744.14,750.9 746.32,750.9 748.49,750.9 750.66,750.9 752.83,750.9 755,750.9 757.18,750.9 759.35,750.9 759.78,750.9 760.22,750.9 760.65,750.9 761.09,750.9 761.52,750.9 761.96,750.9 762.39,750.9 762.83,750.9 763.26,750.9 763.7,750.9 764.13,750.9 764.56,750.9 765,750.9 765.09,720.6 765.35,609.31 765.78,569.57 766.74,546.59 768.04,518.65 769.91,500.64 772.38,458.16 776.73,444.62 781.08,440.52 785.42,442.88 789.76,448.1 794.11,458.04 798.46,467.35 802.8,479.65 807.14,492.44 811.49,505.85 815.84,520.38 820.18,535.04 824.52,549.45 828.87,564.85 833.22,579.5 837.56,594.66 841.9,609.06 846.25,622.85 850.6,636.26 854.94,648.81 859.28,660.86 863.63,671.66 867.98,681.47 872.32,690.17 876.66,697.25 881.01,706.56 885.36,713.52 889.7,719.1 898.39,728.92 907.08,735.25 915.77,739.35 924.46,742.21 933.15,744.94 954.88,749.16 976.6,750.9" fill="none" stroke="#ff0000" stroke-width="2.4" stroke-linejoin="round" />
<path d="M623.2 750.9a5.8 5.8 0 1 0 11.6 0a5.8 5.8 0 1 0 -11.6 0M644.93 750.9a5.8 5.8 0 1 0 11.6 0a5.8 5.8 0 1 0 -11.6 0M666.65 750.9a5.8 5.8 0 1 0 11.6 0a5.8 5.8 0 1 0 -11.6 0M688.38 750.9a5.8 5.8 0 1 0 11.6 0a5.8 5.8 0 1 0 -11.6 0M710.1 750.9a5.8 5.8 0 1 0 11.6 0a5.8 5.8 0 1 0 -11.6 0M731.83 750.9a5.8 5.8 0 1 0 11.6 0a5.8 5.8 0 1 0 -11.6 0M734 750.9a5.8 5.8 0 1 0 11.6 0a5.8 5.8 0 1 0 -11.6 0M736.17 750.9a5.8 5.8 0 1 0 11.6 0a5.8 5.8 0 1 0 -11.6 0M738.34 750.9a5.8 5.8 0 1 0 11.6 0a5.8 5.8 0 1 0 -11.6 0M740.52 750.9a5.8 5.8 0 1 0 11.6 0a5.8 5.8 0 1 0 -11.6 0M742.69 750.9a5.8 5.8 0 1 0 11.6 0a5.8 5.8 0 1 0 -11.6 0M744.86 750.9a5.8 5.8 0 1 0 11.6 0a5.8 5.8 0 1 0 -11.6 0M747.03 750.9a5.8 5.8 0 1 0 11.6 0a5.8 5.8 0 1 0 -11.6 0M749.21 750.9a5.8 5.8 0 1 0 11.6 0a5.8 5.8 0 1 0 -11.6 0M751.38 750.9a5.8 5.8 0 1 0 11.6 0a5.8 5.8 0 1 0 -11.6 0M753.55 750.9a5.8 5.8 0 1 0 11.6 0a5.8 5.8 0 1 0 -11.6 0M753.98 750.9a5.8 5.8 0 1 0 11.6 0a5.8 5.8 0 1 0 -11.6 0M754.42 750.9a5.8 5.8 0 1 0 11.6 0a5.8 5.8 0 1 0 -11.6 0M754.85 750.9a5.8 5.8 0 1 0 11.6 0a5.8 5.8 0 1 0 -11.6 0M755.29 750.9a5.8 5.8 0 1 0 11.6 0a5.8 5.8 0 1 0 -11.6 0M755.72 750.9a5.8 5.8 0 1 0 11.6 0a5.8 5.8 0 1 0 -11.6 0M756.16 750.9a5.8 5.8 0 1 0 11.6 0a5.8 5.8 0 1 0 -11.6 0M756.59 750.9a5.8 5.8 0 1 0 11.6 0a5.8 5.8 0 1 0 -11.6 0M757.03 750.9a5.8 5.8 0 1 0 11.6 0a5.8 5.8 0 1 0 -11.6 0M757.46 750.9a5.8 5.8 0 1 0 11.6 0a5.8 5.8 0 1 0 -11.6 0M757.9 750.9a5.8 5.8 0 1 0 11.6 0a5.8 5.8 0 1 0 -11.6 0M758.33 750.9a5.8 5.8 0 1 0 11.6 0a5.8 5.8 0 1 0 -11.6 0M758.76 750.9a5.8 5.8 0 1 0 11.6 0a5.8 5.8 0 1 0 -11.6 0M759.2 750.9a5.8 5.8 0 1 0 11.6 0a5.8 5.8 0 1 0 -11.6 0M759.29 720.6a5.8 5.8 0 1 0 11.6 0a5.8 5.8 0 1 0 -11.6 0M759.55 609.31a5.8 5.8 0 1 0 11.6 0a5.8 5.8 0 1 0 -11.6 0M759.98 569.57a5.8 5.8 0 1 0 11.6 0a5.8 5.8 0 1 0 -11.6 0M760.94 546.59a5.8 5.8 0 1 0 11.6 0a5.8 5.8 0 1 0 -11.6 0M762.24 518.65a5.8 5.8 0 1 0 11.6 0a5.8 5.8 0 1 0 -11.6 0M764.11 500.64a5.8 5.8 0 1 0 11.6 0a5.8 5.8 0 1 0 -11.6 0M766.59 458.16a5.8 5.8 0 1 0 11.6 0a5.8 5.8 0 1 0 -11.6 0M770.93 444.62a5.8 5.8 0 1 0 11.6 0a5.8 5.8 0 1 0 -11.6 0M775.28 440.52a5.8 5.8 0 1 0 11.6 0a5.8 5.8 0 1 0 -11.6 0M779.62 442.88a5.8 5.8 0 1 0 11.6 0a5.8 5.8 0 1 0 -11.6 0M783.97 448.1a5.8 5.8 0 1 0 11.6 0a5.8 5.8 0 1 0 -11.6 0M788.31 458.04a5.8 5.8 0 1 0 11.6 0a5.8 5.8 0 1 0 -11.6 0M792.66 467.35a5.8 5.8 0 1 0 11.6 0a5.8 5.8 0 1 0 -11.6 0M797 479.65a5.8 5.8 0 1 0 11.6 0a5.8 5.8 0 1 0 -11.6 0M801.35 492.44a5.8 5.8 0 1 0 11.6 0a5.8 5.8 0 1 0 -11.6 0M805.69 505.85a5.8 5.8 0 1 0 11.6 0a5.8 5.8 0 1 0 -11.6 0M810.04 520.38a5.8 5.8 0 1 0 11.6 0a5.8 5.8 0 1 0 -11.6 0M814.38 535.04a5.8 5.8 0 1 0 11.6 0a5.8 5.8 0 1 0 -11.6 0M818.73 549.45a5.8 5.8 0 1 0 11.6 0a5.8 5.8 0 1 0 -11.6 0M823.07 564.85a5.8 5.8 0 1 0 11.6 0a5.8 5.8 0 1 0 -11.6 0M827.42 579.5a5.8 5.8 0 1 0 11.6 0a5.8 5.8 0 1 0 -11.6 0M831.76 594.66a5.8 5.8 0 1 0 11.6 0a5.8 5.8 0 1 0 -11.6 0M836.11 609.06a5.8 5.8 0 1 0 11.6 0a5.8 5.8 0 1 0 -11.6 0M840.45 622.85a5.8 5.8 0 1 0 11.6 0a5.8 5.8 0 1 0 -11.6 0M844.8 636.26a5.8 5.8 0 1 0 11.6 0a5.8 5.8 0 1 0 -11.6 0M849.14 648.81a5.8 5.8 0 1 0 11.6 0a5.8 5.8 0 1 0 -11.6 0M853.49 660.86a5.8 5.8 0 1 0 11.6 0a5.8 5.8 0 1 0 -11.6 0M857.83 671.66a5.8 5.8 0 1 0 11.6 0a5.8 5.8 0 1 0 -11.6 0M862.18 681.47a5.8 5.8 0 1 0 11.6 0a5.8 5.8 0 1 0 -11.6 0M866.52 690.17a5.8 5.8 0 1 0 11.6 0a5.8 5.8 0 1 0 -11.6 0M870.87 697.25a5.8 5.8 0 1 0 11.6 0a5.8 5.8 0 1 0 -11.6 0M875.21 706.56a5.8 5.8 0 1 0 11.6 0a5.8 5.8 0 1 0 -11.6 0M879.56 713.52a5.8 5.8 0 1 0 11.6 0a5.8 5.8 0 1 0 -11.6 0M883.9 719.1a5.8 5.8 0 1 0 11.6 0a5.8 5.8 0 1 0 -11.6 0M892.59 728.92a5.8 5.8 0 1 0 11.6 0a5.8 5.8 0 1 0 -11.6 0M901.28 735.25a5.8 5.8 0 1 0 11.6 0a5.8 5.8 0 1 0 -11.6 0M909.97 739.35a5.8 5.8 0 1 0 11.6 0a5.8 5.8 0 1 0 -11.6 0M918.66 742.21a5.8 5.8 0 1 0 11.6 0a5.8 5.8 0 1 0 -11.6 0M927.35 744.94a5.8 5.8 0 1 0 11.6 0a5.8 5.8 0 1 0 -11.6 0M949.08 749.16a5.8 5.8 0 1 0 11.6 0a5.8 5.8 0 1 0 -11.6 0M970.8 750.9a5.8 5.8 0 1 0 11.6 0a5.8 5.8 0 1 0 -11.6 0" fill="none" stroke="#ff0000" stroke-width="2.6" />
<polyline points="629,750.9 650.73,750.9 672.45,750.9 694.17,750.9 715.9,750.9 737.62,750.9 739.8,750.9 741.97,750.9 744.14,750.9 746.32,750.9 748.49,750.9 750.66,750.9 752.83,750.9 755,750.9 757.18,750.9 759.35,750.9 759.78,750.9 760.22,750.9 760.65,750.9 761.09,750.9 761.52,750.9 761.96,750.9 762.39,750.9 762.83,750.9 763.26,750.9 763.7,750.9 764.13,750.9 764.56,750.9 765,750.9 765.43,750.9 766.3,750.9 767.17,750.9 768.04,750.9 772.38,750.9 776.73,750.9 781.08,750.9 785.42,750.9 789.76,750.9 794.11,750.9 798.46,750.9 802.8,750.9 807.14,750.9 811.49,750.9 815.84,750.9 820.18,750.9 824.52,750.9 828.87,750.9 833.22,750.9 837.56,750.9 841.9,750.9 846.25,750.9 850.6,750.9 854.94,750.9 859.28,750.9 863.63,750.9 867.98,750.9 872.32,750.9 876.66,750.9 881.01,750.9 885.36,750.9 889.7,750.9 898.39,750.9 907.08,750.9 915.77,750.9 924.46,750.9 933.15,750.9 954.88,750.9 976.6,750.9" fill="none" stroke="#0000ff" stroke-width="2.4" stroke-linejoin="round" />
<path d="M625 746.9l8 8M625 754.9l8 -8M646.73 746.9l8 8M646.73 754.9l8 -8M668.45 746.9l8 8M668.45 754.9l8 -8M690.17 746.9l8 8M690.17 754.9l8 -8M711.9 746.9l8 8M711.9 754.9l8 -8M733.62 746.9l8 8M733.62 754.9l8 -8M735.8 746.9l8 8M735.8 754.9l8 -8M737.97 746.9l8 8M737.97 754.9l8 -8M740.14 746.9l8 8M740.14 754.9l8 -8M742.32 746.9l8 8M742.32 754.9l8 -8M744.49 746.9l8 8M744.49 754.9l8 -8M746.66 746.9l8 8M746.66 754.9l8 -8M748.83 746.9l8 8M748.83 754.9l8 -8M751 746.9l8 8M751 754.9l8 -8M753.18 746.9l8 8M753.18 754.9l8 -8M755.35 746.9l8 8M755.35 754.9l8 -8M755.78 746.9l8 8M755.78 754.9l8 -8M756.22 746.9l8 8M756.22 754.9l8 -8M756.65 746.9l8 8M756.65 754.9l8 -8M757.09 746.9l8 8M757.09 754.9l8 -8M757.52 746.9l8 8M757.52 754.9l8 -8M757.96 746.9l8 8M757.96 754.9l8 -8M758.39 746.9l8 8M758.39 754.9l8 -8M758.83 746.9l8 8M758.83 754.9l8 -8M759.26 746.9l8 8M759.26 754.9l8 -8M759.7 746.9l8 8M759.7 754.9l8 -8M760.13 746.9l8 8M760.13 754.9l8 -8M760.56 746.9l8 8M760.56 754.9l8 -8M761 746.9l8 8M761 754.9l8 -8M761.43 746.9l8 8M761.43 754.9l8 -8M762.3 746.9l8 8M762.3 754.9l8 -8M763.17 746.9l8 8M763.17 754.9l8 -8M764.04 746.9l8 8M764.04 754.9l8 -8M768.38 746.9l8 8M768.38 754.9l8 -8M772.73 746.9l8 8M772.73 754.9l8 -8M777.08 746.9l8 8M777.08 754.9l8 -8M781.42 746.9l8 8M781.42 754.9l8 -8M785.76 746.9l8 8M785.76 754.9l8 -8M790.11 746.9l8 8M790.11 754.9l8 -8M794.46 746.9l8 8M794.46 754.9l8 -8M798.8 746.9l8 8M798.8 754.9l8 -8M803.14 746.9l8 8M803.14 754.9l8 -8M807.49 746.9l8 8M807.49 754.9l8 -8M811.84 746.9l8 8M811.84 754.9l8 -8M816.18 746.9l8 8M816.18 754.9l8 -8M820.52 746.9l8 8M820.52 754.9l8 -8M824.87 746.9l8 8M824.87 754.9l8 -8M829.22 746.9l8 8M829.22 754.9l8 -8M833.56 746.9l8 8M833.56 754.9l8 -8M837.9 746.9l8 8M837.9 754.9l8 -8M842.25 746.9l8 8M842.25 754.9l8 -8M846.6 746.9l8 8M846.6 754.9l8 -8M850.94 746.9l8 8M850.94 754.9l8 -8M855.28 746.9l8 8M855.28 754.9l8 -8M859.63 746.9l8 8M859.63 754.9l8 -8M863.98 746.9l8 8M863.98 754.9l8 -8M868.32 746.9l8 8M868.32 754.9l8 -8M872.66 746.9l8 8M872.66 754.9l8 -8M877.01 746.9l8 8M877.01 754.9l8 -8M881.36 746.9l8 8M881.36 754.9l8 -8M885.7 746.9l8 8M885.7 754.9l8 -8M894.39 746.9l8 8M894.39 754.9l8 -8M903.08 746.9l8 8M903.08 754.9l8 -8M911.77 746.9l8 8M911.77 754.9l8 -8M920.46 746.9l8 8M920.46 754.9l8 -8M929.15 746.9l8 8M929.15 754.9l8 -8M950.88 746.9l8 8M950.88 754.9l8 -8M972.6 746.9l8 8M972.6 754.9l8 -8" fill="none" stroke="#0000ff" stroke-width="2.6" />
<polyline points="629,440.4 650.73,441.02 672.45,441.64 694.17,443.01 715.9,445.24 737.62,450.21 741.97,452.32 746.32,454.93 750.66,460.64 755,472.2 759.35,485.36 759.78,492.69 760.22,500.02 761.09,508.46 761.96,522.12 762.83,542 763.26,558.76 763.7,579.5 764.13,595.65 764.56,609.31 764.78,622.97 765.09,720.6 765.43,750.9 766.3,750.9 767.17,750.9 768.04,750.9 772.38,750.9 776.73,750.9 781.08,750.9 785.42,750.9 789.76,750.9 794.11,750.9 798.46,750.9 802.8,750.9 807.14,750.9 811.49,750.9 815.84,750.9 820.18,750.9 824.52,750.9 828.87,750.9 833.22,750.9 837.56,750.9 841.9,750.9 846.25,750.9 850.6,750.9 854.94,750.9 859.28,750.9 863.63,750.9 867.98,750.9 872.32,750.9 876.66,750.9 881.01,750.9 885.36,750.9 889.7,750.9 898.39,750.9 907.08,750.9 915.77,750.9 924.46,750.9 933.15,750.9 954.88,750.9 976.6,750.9" fill="none" stroke="#008000" stroke-width="2.4" stroke-linejoin="round" />
<path d="M629 431.4L636.75 444.9L621.25 444.9ZM650.73 432.02L658.48 445.52L642.98 445.52ZM672.45 432.64L680.2 446.14L664.7 446.14ZM694.17 434.01L701.92 447.51L686.42 447.51ZM715.9 436.24L723.65 449.74L708.15 449.74ZM737.62 441.21L745.38 454.71L729.88 454.71ZM741.97 443.32L749.72 456.82L734.22 456.82ZM746.32 445.93L754.07 459.43L738.57 459.43ZM750.66 451.64L758.41 465.14L742.91 465.14ZM755 463.2L762.75 476.7L747.25 476.7ZM759.35 476.36L767.1 489.86L751.6 489.86ZM759.78 483.69L767.53 497.19L752.03 497.19ZM760.22 491.02L767.97 504.52L752.47 504.52ZM761.09 499.46L768.84 512.96L753.34 512.96ZM761.96 513.12L769.71 526.62L754.21 526.62ZM762.83 533L770.58 546.5L755.08 546.5ZM763.26 549.76L771.01 563.26L755.51 563.26ZM763.7 570.5L771.45 584L755.95 584ZM764.13 586.65L771.88 600.15L756.38 600.15ZM764.56 600.31L772.31 613.81L756.81 613.81ZM764.78 613.97L772.53 627.47L757.03 627.47ZM765.09 711.6L772.84 725.1L757.34 725.1ZM765.43 741.9L773.18 755.4L757.68 755.4ZM766.3 741.9L774.05 755.4L758.55 755.4ZM767.17 741.9L774.92 755.4L759.42 755.4ZM768.04 741.9L775.79 755.4L760.29 755.4ZM772.38 741.9L780.13 755.4L764.63 755.4ZM776.73 741.9L784.48 755.4L768.98 755.4ZM781.08 741.9L788.83 755.4L773.33 755.4ZM785.42 741.9L793.17 755.4L777.67 755.4ZM789.76 741.9L797.51 755.4L782.01 755.4ZM794.11 741.9L801.86 755.4L786.36 755.4ZM798.46 741.9L806.21 755.4L790.71 755.4ZM802.8 741.9L810.55 755.4L795.05 755.4ZM807.14 741.9L814.89 755.4L799.39 755.4ZM811.49 741.9L819.24 755.4L803.74 755.4ZM815.84 741.9L823.59 755.4L808.09 755.4ZM820.18 741.9L827.93 755.4L812.43 755.4ZM824.52 741.9L832.27 755.4L816.77 755.4ZM828.87 741.9L836.62 755.4L821.12 755.4ZM833.22 741.9L840.97 755.4L825.47 755.4ZM837.56 741.9L845.31 755.4L829.81 755.4ZM841.9 741.9L849.65 755.4L834.15 755.4ZM846.25 741.9L854 755.4L838.5 755.4ZM850.6 741.9L858.35 755.4L842.85 755.4ZM854.94 741.9L862.69 755.4L847.19 755.4ZM859.28 741.9L867.03 755.4L851.53 755.4ZM863.63 741.9L871.38 755.4L855.88 755.4ZM867.98 741.9L875.73 755.4L860.23 755.4ZM872.32 741.9L880.07 755.4L864.57 755.4ZM876.66 741.9L884.41 755.4L868.91 755.4ZM881.01 741.9L888.76 755.4L873.26 755.4ZM885.36 741.9L893.11 755.4L877.61 755.4ZM889.7 741.9L897.45 755.4L881.95 755.4ZM898.39 741.9L906.14 755.4L890.64 755.4ZM907.08 741.9L914.83 755.4L899.33 755.4ZM915.77 741.9L923.52 755.4L908.02 755.4ZM924.46 741.9L932.21 755.4L916.71 755.4ZM933.15 741.9L940.9 755.4L925.4 755.4ZM954.88 741.9L962.62 755.4L947.12 755.4ZM976.6 741.9L984.35 755.4L968.85 755.4Z" fill="none" stroke="#008000" stroke-width="2.7" />
<text transform="translate(492.22,460.40) scale(0.9552,1)" font-size="46.04" fill="#000" >(d)</text>
<text transform="translate(545.72,454.44) scale(1.0632,1)" font-size="37.06" fill="#000" >0.25</text>
<text transform="translate(566.75,515.96) scale(1.0854,1)" font-size="35.74" fill="#000" >0.2</text>
<text transform="translate(545.72,578.85) scale(1.0674,1)" font-size="36.91" fill="#000" >0.15</text>
<text transform="translate(566.74,640.44) scale(1.0512,1)" font-size="37.06" fill="#000" >0.1</text>
<text transform="translate(545.72,703.34) scale(1.0632,1)" font-size="37.06" fill="#000" >0.05</text>
<text transform="translate(596.23,763.73) scale(0.9821,1)" font-size="37.33" fill="#000" >0</text>
<text transform="translate(526.73,657.80) rotate(-90) scale(1.1918,1)" font-size="42.78" fill="#000" ><tspan font-style="italic">C</tspan><tspan font-style="italic" font-size="29.94" dy="8.56">η</tspan><tspan dy="-8.56">(</tspan><tspan font-style="italic">L</tspan>)</text>
<text transform="translate(611.13,813.00) scale(0.9704,1)" font-size="40.30" fill="#000" >-4</text>
<text transform="translate(698.32,813.00) scale(0.9792,1)" font-size="40.30" fill="#000" >-2</text>
<text transform="translate(744.79,805.58) scale(1.2500,1)" font-size="37.12" fill="#000" ><tspan font-style="italic">z</tspan><tspan font-style="italic" font-size="25.98" dy="7.42">zx</tspan></text>
<text transform="translate(790.55,812.61) scale(1.2386,1)" font-size="39.41" fill="#000" >0</text>
<text transform="translate(878.43,813.00) scale(1.1414,1)" font-size="40.30" fill="#000" >2</text>
<text transform="translate(965.61,813.00) scale(0.9818,1)" font-size="40.30" fill="#000" >4</text>
<text transform="translate(801.62,843.60) scale(1.0639,1)" font-size="44.35" fill="#000" >z</text>
<text transform="translate(656.37,721.70) scale(0.9786,1)" font-size="37.86" fill="#000" >z-FM</text>
<text transform="translate(779.34,721.70) scale(0.9609,1)" font-size="37.86" fill="#000" >x-FM</text>
<polyline points="842.3,474.7 872.7,474.7" fill="none" stroke="#ff0000" stroke-width="2.4" stroke-linejoin="round" />
<path d="M852.2 474.7a5.8 5.8 0 1 0 11.6 0a5.8 5.8 0 1 0 -11.6 0" fill="none" stroke="#ff0000" stroke-width="2.6" />
<polyline points="842.3,504.6 872.7,504.6" fill="none" stroke="#0000ff" stroke-width="2.4" stroke-linejoin="round" />
<path d="M854 500.6l8 8M854 508.6l8 -8" fill="none" stroke="#0000ff" stroke-width="2.6" />
<polyline points="842.3,534.6 872.7,534.6" fill="none" stroke="#008000" stroke-width="2.4" stroke-linejoin="round" />
<path d="M858 527.1L865.75 540.6L850.25 540.6Z" fill="none" stroke="#008000" stroke-width="2.7" />
<text transform="translate(877.06,483.51) scale(1.0387,1)" font-size="28.79" fill="#000" ><tspan font-style="italic">C</tspan><tspan font-style="italic" font-size="20.15" dy="5.76">x</tspan><tspan dy="-5.76">(</tspan><tspan font-style="italic">L</tspan>)</text>
<text transform="translate(877.07,510.82) scale(1.1795,1)" font-size="25.07" fill="#000" ><tspan font-style="italic">C</tspan><tspan font-style="italic" font-size="17.55" dy="5.01">y</tspan><tspan dy="-5.01">(</tspan><tspan font-style="italic">L</tspan>)</text>
<text transform="translate(877.05,543.41) scale(1.0445,1)" font-size="28.79" fill="#000" ><tspan font-style="italic">C</tspan><tspan font-style="italic" font-size="20.15" dy="5.76">z</tspan><tspan dy="-5.76">(</tspan><tspan font-style="italic">L</tspan>)</text>
<text transform="translate(873.67,582.96) scale(1.1269,1)" font-size="24.30" fill="#000" ><tspan font-style="italic">L</tspan> = 400</text>
<text transform="translate(872.33,612.93) scale(0.9951,1)" font-size="26.87" fill="#000" >OBC</text>
<rect x="121.7" y="873.9" width="346" height="322.5" fill="none" stroke="#262626" stroke-width="2.5"/>
<path d="M122.5 1196.4v-5M122.5 873.9v5M162.24 1196.4v-3M162.24 873.9v3M185.48 1196.4v-3M185.48 873.9v3M201.97 1196.4v-3M201.97 873.9v3M214.76 1196.4v-3M214.76 873.9v3M225.22 1196.4v-3M225.22 873.9v3M234.05 1196.4v-3M234.05 873.9v3M241.71 1196.4v-3M241.71 873.9v3M248.46 1196.4v-3M248.46 873.9v3M254.5 1196.4v-5M254.5 873.9v5M294.24 1196.4v-3M294.24 873.9v3M317.48 1196.4v-3M317.48 873.9v3M333.97 1196.4v-3M333.97 873.9v3M346.76 1196.4v-3M346.76 873.9v3M357.22 1196.4v-3M357.22 873.9v3M366.05 1196.4v-3M366.05 873.9v3M373.71 1196.4v-3M373.71 873.9v3M380.46 1196.4v-3M380.46 873.9v3M386.5 1196.4v-5M386.5 873.9v5M426.24 1196.4v-3M426.24 873.9v3M449.48 1196.4v-3M449.48 873.9v3M465.97 1196.4v-3M465.97 873.9v3M121.7 1196.4h5M467.7 1196.4h-5M121.7 1174.65h3M467.7 1174.65h-3M121.7 1161.93h3M467.7 1161.93h-3M121.7 1152.9h3M467.7 1152.9h-3M121.7 1145.9h3M467.7 1145.9h-3M121.7 1140.18h3M467.7 1140.18h-3M121.7 1135.34h3M467.7 1135.34h-3M121.7 1131.15h3M467.7 1131.15h-3M121.7 1127.46h3M467.7 1127.46h-3M121.7 1124.15h5M467.7 1124.15h-5M121.7 1102.4h3M467.7 1102.4h-3M121.7 1089.68h3M467.7 1089.68h-3M121.7 1080.65h3M467.7 1080.65h-3M121.7 1073.65h3M467.7 1073.65h-3M121.7 1067.93h3M467.7 1067.93h-3M121.7 1063.09h3M467.7 1063.09h-3M121.7 1058.9h3M467.7 1058.9h-3M121.7 1055.21h3M467.7 1055.21h-3M121.7 1051.9h5M467.7 1051.9h-5M121.7 1030.15h3M467.7 1030.15h-3M121.7 1017.43h3M467.7 1017.43h-3M121.7 1008.4h3M467.7 1008.4h-3M121.7 1001.4h3M467.7 1001.4h-3M121.7 995.68h3M467.7 995.68h-3M121.7 990.84h3M467.7 990.84h-3M121.7 986.65h3M467.7 986.65h-3M121.7 982.96h3M467.7 982.96h-3M121.7 979.65h5M467.7 979.65h-5M121.7 957.9h3M467.7 957.9h-3M121.7 945.18h3M467.7 945.18h-3M121.7 936.15h3M467.7 936.15h-3M121.7 929.15h3M467.7 929.15h-3M121.7 923.43h3M467.7 923.43h-3M121.7 918.59h3M467.7 918.59h-3M121.7 914.4h3M467.7 914.4h-3M121.7 910.71h3M467.7 910.71h-3M121.7 907.4h5M467.7 907.4h-5M121.7 885.65h3M467.7 885.65h-3M121.7 872.93h3M467.7 872.93h-3" stroke="#262626" stroke-width="2" fill="none"/>
<defs><clipPath id="clipe"><rect x="121.7" y="873.9" width="346.0" height="322.5000000000001"/></clipPath></defs>
<polyline points="122.5,886.88 162.24,886.88 185.48,887.6 201.97,888.25 214.76,888.98 225.22,889.74 234.05,890.38 241.71,890.94 248.46,891.43 254.5,891.87 259.96,892.07 264.95,892.25 269.54,892.42 273.79,892.57 277.74,892.71 281.44,892.85 284.92,892.98 288.2,893.1 291.3,893.21 294.24,893.31 297.03,893.32 299.7,893.32 302.25,893.33 304.69,893.33 307.03,893.34 309.28,893.34 311.44,893.35 313.52,893.35 315.54,893.35 317.48,893.36 319.36,893.36 321.18,893.36 322.94,893.37 324.66,893.37 326.32,893.37 327.93,893.38 329.5,893.38 331.03,893.38 332.52,893.39 333.97,893.39 335.39,893.39 336.77,893.39 338.12,893.4 339.44,893.4 340.72,893.4 341.98,893.4 343.22,893.41 344.42,893.41 345.61,893.41 346.76,893.41 347.9,893.42 349.01,893.42 350.1,893.42 351.18,893.42 352.23,893.42 353.26,893.43 354.28,893.43 355.27,893.43 356.25,893.43 357.22,893.43 358.16,893.44 359.1,893.44 360.01,893.44 360.92,893.44 361.8,893.44 362.68,893.45 363.54,893.45 364.39,893.45 365.23,893.45 366.05,893.45 366.87,893.45 367.67,893.46 368.46,893.46 369.24,893.46 370.01,893.46 370.77,893.46 371.52,893.46 372.26,893.46 372.99,893.47 373.71,893.47 374.42,893.47 375.12,893.47 375.82,893.47 376.5,893.47 377.18,893.47 377.85,893.47 378.52,893.48 379.17,893.48 379.82,893.48 380.46,893.48 381.09,893.48 381.72,893.48 382.34,893.48 382.95,893.48 383.56,893.49 384.16,893.49 384.75,893.49 385.34,893.49 385.92,893.49 386.5,893.49 387.07,893.49 387.64,893.49 388.19,893.5 388.75,893.5 389.3,893.5 389.84,893.5 390.38,893.5 390.91,893.5 391.44,893.5 391.96,893.5 392.48,893.5 393,893.5 393.51,893.51 394.01,893.51 394.51,893.51 395.01,893.51 395.5,893.51 395.99,893.51 396.47,893.51 396.95,893.51 397.43,893.51 397.9,893.51 398.37,893.52 398.83,893.52 399.29,893.52 399.75,893.52 400.2,893.52 400.65,893.52 401.1,893.52 401.54,893.52 401.98,893.52 402.42,893.52 402.85,893.52 403.28,893.52 403.7,893.53 404.13,893.53 404.55,893.53 404.96,893.53 405.38,893.53 405.79,893.53 406.2,893.53 406.6,893.53 407,893.53 407.4,893.53 407.8,893.53 408.19,893.53 408.59,893.54 408.97,893.54 409.36,893.54 409.74,893.54 410.12,893.54 410.5,893.54 410.88,893.54 411.25,893.54 411.62,893.54 411.99,893.54 412.36,893.54 412.72,893.54 413.08,893.54 413.44,893.54 413.8,893.55 414.16,893.55 414.51,893.55 414.86,893.55 415.21,893.55 415.55,893.55 415.9,893.55 416.24,893.55 416.58,893.55 416.92,893.55 417.26,893.55 417.59,893.55 417.92,893.55 418.25,893.55 418.58,893.55 418.91,893.56 419.23,893.56 419.56,893.56 419.88,893.56 420.2,893.56 420.51,893.56 420.83,893.56 421.14,893.56 421.46,893.56 421.77,893.56 422.08,893.56 422.38,893.56 422.69,893.56 422.99,893.56 423.3,893.56 423.6,893.56 423.9,893.56 424.19,893.57 424.49,893.57 424.78,893.57 425.08,893.57 425.37,893.57 425.66,893.57 425.95,893.57 426.24,893.57 426.52,893.57 426.81,893.57 427.09,893.57 427.37,893.57 427.65,893.57 427.93,893.57 428.21,893.57 428.48,893.57 428.76,893.57 429.03,893.58 429.31,893.58 429.58,893.58 429.85,893.58 430.11,893.58 430.38,893.58 430.65,893.58 430.91,893.58 431.18,893.58 431.44,893.58 431.7,893.58 431.96,893.58 432.22,893.58 432.48,893.58 432.73,893.58 432.99,893.58 433.24,893.58 433.5,893.58 433.75,893.58 434,893.58 434.25,893.59 434.5,893.59 434.74,893.59 434.99,893.59 435.24,893.59 435.48,893.59 435.72,893.59 435.97,893.59 436.21,893.59 436.45,893.59 436.69,893.59 436.93,893.59 437.16,893.59 437.4,893.59 437.64,893.59 437.87,893.59 438.1,893.59 438.34,893.59 438.57,893.59 438.8,893.59 439.03,893.59 439.26,893.6 439.48,893.6 439.71,893.6 439.94,893.6 440.16,893.6 440.39,893.6 440.61,893.6 440.83,893.6 441.06,893.6 441.28,893.6 441.5,893.6 441.72,893.6 441.93,893.6 442.15,893.6 442.37,893.6 442.58,893.6 442.8,893.6 443.01,893.6 443.23,893.6 443.44,893.6 443.65,893.6 443.86,893.6 444.07,893.6 444.28,893.6 444.49,893.61 444.7,893.61 444.91,893.61 445.11,893.61 445.32,893.61 445.52,893.61 445.73,893.61 445.93,893.61 446.14,893.61 446.34,893.61 446.54,893.61 446.74,893.61 446.94,893.61 447.14,893.61 447.34,893.61 447.54,893.61 447.73,893.61 447.93,893.61 448.13,893.61 448.32,893.61 448.52,893.61 448.71,893.61 448.9,893.61 449.1,893.61 449.29,893.61 449.48,893.61 449.67,893.62 449.86,893.62 450.05,893.62 450.24,893.62 450.43,893.62 450.62,893.62 450.8,893.62 450.99,893.62 451.17,893.62 451.36,893.62 451.54,893.62 451.73,893.62 451.91,893.62 452.09,893.62 452.28,893.62 452.46,893.62 452.64,893.62 452.82,893.62 453,893.62 453.18,893.62 453.36,893.62 453.54,893.62 453.71,893.62 453.89,893.62 454.07,893.62 454.24,893.62 454.42,893.62 454.6,893.62 454.77,893.63 454.94,893.63 455.12,893.63 455.29,893.63 455.46,893.63 455.63,893.63 455.81,893.63 455.98,893.63 456.15,893.63 456.32,893.63 456.49,893.63 456.66,893.63 456.82,893.63 456.99,893.63 457.16,893.63 457.33,893.63 457.49,893.63 457.66,893.63 457.82,893.63 457.99,893.63 458.15,893.63 458.32,893.63 458.48,893.63 458.64,893.63 458.81,893.63 458.97,893.63 459.13,893.63 459.29,893.63 459.45,893.63 459.61,893.63 459.77,893.64 459.93,893.64 460.09,893.64 460.25,893.64 460.41,893.65 460.57,893.66 460.72,893.68 460.88,893.71 461.04,893.74 461.19,893.78 461.35,893.83 461.5,893.89 461.66,893.95 461.81,894.03 461.97,894.12 462.12,894.22 462.27,894.32 462.42,894.44 462.58,894.58 462.73,894.72 462.88,894.88 463.03,895.05 463.18,895.23 463.33,895.43 463.48,895.63 463.63,895.86 463.78,896.1 463.93,896.35 464.08,896.62 464.23,896.9 464.37,897.2 464.52,897.52 464.67,897.85 464.81,898.19 464.96,898.56 465.11,898.94 465.25,899.34 465.4,899.75 465.54,900.19 465.68,900.64 465.83,901.11 465.97,901.59" fill="none" stroke="#7e2f8e" stroke-width="2.4" stroke-linejoin="round" clip-path="url(#clipe)"/>
<path d="M116.5 886.88h12M122.5 879.38v15M118.18 882.56l8.64 8.64M118.18 891.2l8.64 -8.64M156.24 886.88h12M162.24 879.38v15M157.92 882.56l8.64 8.64M157.92 891.2l8.64 -8.64M179.48 887.6h12M185.48 880.1v15M181.16 883.28l8.64 8.64M181.16 891.92l8.64 -8.64M195.97 888.25h12M201.97 880.75v15M197.65 883.93l8.64 8.64M197.65 892.57l8.64 -8.64M208.76 888.98h12M214.76 881.48v15M210.44 884.66l8.64 8.64M210.44 893.3l8.64 -8.64M219.22 889.74h12M225.22 882.24v15M220.9 885.42l8.64 8.64M220.9 894.06l8.64 -8.64M228.05 890.38h12M234.05 882.88v15M229.73 886.06l8.64 8.64M229.73 894.7l8.64 -8.64M235.71 890.94h12M241.71 883.44v15M237.39 886.62l8.64 8.64M237.39 895.26l8.64 -8.64M242.46 891.43h12M248.46 883.93v15M244.14 887.11l8.64 8.64M244.14 895.75l8.64 -8.64M248.5 891.87h12M254.5 884.37v15M250.18 887.55l8.64 8.64M250.18 896.19l8.64 -8.64M253.96 892.07h12M259.96 884.57v15M255.64 887.75l8.64 8.64M255.64 896.39l8.64 -8.64M258.95 892.25h12M264.95 884.75v15M260.63 887.93l8.64 8.64M260.63 896.57l8.64 -8.64M263.54 892.42h12M269.54 884.92v15M265.22 888.1l8.64 8.64M265.22 896.74l8.64 -8.64M267.79 892.57h12M273.79 885.07v15M269.47 888.25l8.64 8.64M269.47 896.89l8.64 -8.64M271.74 892.71h12M277.74 885.21v15M273.42 888.39l8.64 8.64M273.42 897.03l8.64 -8.64M275.44 892.85h12M281.44 885.35v15M277.12 888.53l8.64 8.64M277.12 897.17l8.64 -8.64M278.92 892.98h12M284.92 885.48v15M280.6 888.66l8.64 8.64M280.6 897.3l8.64 -8.64M282.2 893.1h12M288.2 885.6v15M283.88 888.78l8.64 8.64M283.88 897.42l8.64 -8.64M285.3 893.21h12M291.3 885.71v15M286.98 888.89l8.64 8.64M286.98 897.53l8.64 -8.64M288.24 893.31h12M294.24 885.81v15M289.92 888.99l8.64 8.64M289.92 897.63l8.64 -8.64M291.03 893.32h12M297.03 885.82v15M292.71 889l8.64 8.64M292.71 897.64l8.64 -8.64M293.7 893.32h12M299.7 885.82v15M295.38 889l8.64 8.64M295.38 897.64l8.64 -8.64M296.25 893.33h12M302.25 885.83v15M297.93 889.01l8.64 8.64M297.93 897.65l8.64 -8.64M298.69 893.33h12M304.69 885.83v15M300.37 889.01l8.64 8.64M300.37 897.65l8.64 -8.64M301.03 893.34h12M307.03 885.84v15M302.71 889.02l8.64 8.64M302.71 897.66l8.64 -8.64M303.28 893.34h12M309.28 885.84v15M304.96 889.02l8.64 8.64M304.96 897.66l8.64 -8.64M305.44 893.35h12M311.44 885.85v15M307.12 889.03l8.64 8.64M307.12 897.67l8.64 -8.64M307.52 893.35h12M313.52 885.85v15M309.2 889.03l8.64 8.64M309.2 897.67l8.64 -8.64M309.54 893.35h12M315.54 885.85v15M311.22 889.03l8.64 8.64M311.22 897.67l8.64 -8.64M311.48 893.36h12M317.48 885.86v15M313.16 889.04l8.64 8.64M313.16 897.68l8.64 -8.64M313.36 893.36h12M319.36 885.86v15M315.04 889.04l8.64 8.64M315.04 897.68l8.64 -8.64M315.18 893.36h12M321.18 885.86v15M316.86 889.04l8.64 8.64M316.86 897.68l8.64 -8.64M316.94 893.37h12M322.94 885.87v15M318.62 889.05l8.64 8.64M318.62 897.69l8.64 -8.64M318.66 893.37h12M324.66 885.87v15M320.34 889.05l8.64 8.64M320.34 897.69l8.64 -8.64M320.32 893.37h12M326.32 885.87v15M322 889.05l8.64 8.64M322 897.69l8.64 -8.64M321.93 893.38h12M327.93 885.88v15M323.61 889.06l8.64 8.64M323.61 897.7l8.64 -8.64M323.5 893.38h12M329.5 885.88v15M325.18 889.06l8.64 8.64M325.18 897.7l8.64 -8.64M325.03 893.38h12M331.03 885.88v15M326.71 889.06l8.64 8.64M326.71 897.7l8.64 -8.64M326.52 893.39h12M332.52 885.89v15M328.2 889.07l8.64 8.64M328.2 897.71l8.64 -8.64M327.97 893.39h12M333.97 885.89v15M329.65 889.07l8.64 8.64M329.65 897.71l8.64 -8.64M329.39 893.39h12M335.39 885.89v15M331.07 889.07l8.64 8.64M331.07 897.71l8.64 -8.64M330.77 893.39h12M336.77 885.89v15M332.45 889.07l8.64 8.64M332.45 897.71l8.64 -8.64M332.12 893.4h12M338.12 885.9v15M333.8 889.08l8.64 8.64M333.8 897.72l8.64 -8.64M333.44 893.4h12M339.44 885.9v15M335.12 889.08l8.64 8.64M335.12 897.72l8.64 -8.64M334.72 893.4h12M340.72 885.9v15M336.4 889.08l8.64 8.64M336.4 897.72l8.64 -8.64M335.98 893.4h12M341.98 885.9v15M337.66 889.08l8.64 8.64M337.66 897.72l8.64 -8.64M337.22 893.41h12M343.22 885.91v15M338.9 889.09l8.64 8.64M338.9 897.73l8.64 -8.64M338.42 893.41h12M344.42 885.91v15M340.1 889.09l8.64 8.64M340.1 897.73l8.64 -8.64M339.61 893.41h12M345.61 885.91v15M341.29 889.09l8.64 8.64M341.29 897.73l8.64 -8.64M340.76 893.41h12M346.76 885.91v15M342.44 889.09l8.64 8.64M342.44 897.73l8.64 -8.64M341.9 893.42h12M347.9 885.92v15M343.58 889.1l8.64 8.64M343.58 897.74l8.64 -8.64M343.01 893.42h12M349.01 885.92v15M344.69 889.1l8.64 8.64M344.69 897.74l8.64 -8.64M344.1 893.42h12M350.1 885.92v15M345.78 889.1l8.64 8.64M345.78 897.74l8.64 -8.64M345.18 893.42h12M351.18 885.92v15M346.86 889.1l8.64 8.64M346.86 897.74l8.64 -8.64M346.23 893.42h12M352.23 885.92v15M347.91 889.1l8.64 8.64M347.91 897.74l8.64 -8.64M347.26 893.43h12M353.26 885.93v15M348.94 889.11l8.64 8.64M348.94 897.75l8.64 -8.64M348.28 893.43h12M354.28 885.93v15M349.96 889.11l8.64 8.64M349.96 897.75l8.64 -8.64M349.27 893.43h12M355.27 885.93v15M350.95 889.11l8.64 8.64M350.95 897.75l8.64 -8.64M350.25 893.43h12M356.25 885.93v15M351.93 889.11l8.64 8.64M351.93 897.75l8.64 -8.64M351.22 893.43h12M357.22 885.93v15M352.9 889.11l8.64 8.64M352.9 897.75l8.64 -8.64M352.16 893.44h12M358.16 885.94v15M353.84 889.12l8.64 8.64M353.84 897.76l8.64 -8.64M353.1 893.44h12M359.1 885.94v15M354.78 889.12l8.64 8.64M354.78 897.76l8.64 -8.64M354.01 893.44h12M360.01 885.94v15M355.69 889.12l8.64 8.64M355.69 897.76l8.64 -8.64M354.92 893.44h12M360.92 885.94v15M356.6 889.12l8.64 8.64M356.6 897.76l8.64 -8.64M355.8 893.44h12M361.8 885.94v15M357.48 889.12l8.64 8.64M357.48 897.76l8.64 -8.64M356.68 893.45h12M362.68 885.95v15M358.36 889.13l8.64 8.64M358.36 897.77l8.64 -8.64M357.54 893.45h12M363.54 885.95v15M359.22 889.13l8.64 8.64M359.22 897.77l8.64 -8.64M358.39 893.45h12M364.39 885.95v15M360.07 889.13l8.64 8.64M360.07 897.77l8.64 -8.64M359.23 893.45h12M365.23 885.95v15M360.91 889.13l8.64 8.64M360.91 897.77l8.64 -8.64M360.05 893.45h12M366.05 885.95v15M361.73 889.13l8.64 8.64M361.73 897.77l8.64 -8.64M360.87 893.45h12M366.87 885.95v15M362.55 889.13l8.64 8.64M362.55 897.77l8.64 -8.64M361.67 893.46h12M367.67 885.96v15M363.35 889.14l8.64 8.64M363.35 897.78l8.64 -8.64M362.46 893.46h12M368.46 885.96v15M364.14 889.14l8.64 8.64M364.14 897.78l8.64 -8.64M363.24 893.46h12M369.24 885.96v15M364.92 889.14l8.64 8.64M364.92 897.78l8.64 -8.64M364.01 893.46h12M370.01 885.96v15M365.69 889.14l8.64 8.64M365.69 897.78l8.64 -8.64M364.77 893.46h12M370.77 885.96v15M366.45 889.14l8.64 8.64M366.45 897.78l8.64 -8.64M365.52 893.46h12M371.52 885.96v15M367.2 889.14l8.64 8.64M367.2 897.78l8.64 -8.64M366.26 893.46h12M372.26 885.96v15M367.94 889.14l8.64 8.64M367.94 897.78l8.64 -8.64M366.99 893.47h12M372.99 885.97v15M368.67 889.15l8.64 8.64M368.67 897.79l8.64 -8.64M367.71 893.47h12M373.71 885.97v15M369.39 889.15l8.64 8.64M369.39 897.79l8.64 -8.64M368.42 893.47h12M374.42 885.97v15M370.1 889.15l8.64 8.64M370.1 897.79l8.64 -8.64M369.12 893.47h12M375.12 885.97v15M370.8 889.15l8.64 8.64M370.8 897.79l8.64 -8.64M369.82 893.47h12M375.82 885.97v15M371.5 889.15l8.64 8.64M371.5 897.79l8.64 -8.64M370.5 893.47h12M376.5 885.97v15M372.18 889.15l8.64 8.64M372.18 897.79l8.64 -8.64M371.18 893.47h12M377.18 885.97v15M372.86 889.15l8.64 8.64M372.86 897.79l8.64 -8.64M371.85 893.47h12M377.85 885.97v15M373.53 889.15l8.64 8.64M373.53 897.79l8.64 -8.64M372.52 893.48h12M378.52 885.98v15M374.2 889.16l8.64 8.64M374.2 897.8l8.64 -8.64M373.17 893.48h12M379.17 885.98v15M374.85 889.16l8.64 8.64M374.85 897.8l8.64 -8.64M373.82 893.48h12M379.82 885.98v15M375.5 889.16l8.64 8.64M375.5 897.8l8.64 -8.64M374.46 893.48h12M380.46 885.98v15M376.14 889.16l8.64 8.64M376.14 897.8l8.64 -8.64M375.09 893.48h12M381.09 885.98v15M376.77 889.16l8.64 8.64M376.77 897.8l8.64 -8.64M375.72 893.48h12M381.72 885.98v15M377.4 889.16l8.64 8.64M377.4 897.8l8.64 -8.64M376.34 893.48h12M382.34 885.98v15M378.02 889.16l8.64 8.64M378.02 897.8l8.64 -8.64M376.95 893.48h12M382.95 885.98v15M378.63 889.16l8.64 8.64M378.63 897.8l8.64 -8.64M377.56 893.49h12M383.56 885.99v15M379.24 889.17l8.64 8.64M379.24 897.81l8.64 -8.64M378.16 893.49h12M384.16 885.99v15M379.84 889.17l8.64 8.64M379.84 897.81l8.64 -8.64M378.75 893.49h12M384.75 885.99v15M380.43 889.17l8.64 8.64M380.43 897.81l8.64 -8.64M379.34 893.49h12M385.34 885.99v15M381.02 889.17l8.64 8.64M381.02 897.81l8.64 -8.64M379.92 893.49h12M385.92 885.99v15M381.6 889.17l8.64 8.64M381.6 897.81l8.64 -8.64M380.5 893.49h12M386.5 885.99v15M382.18 889.17l8.64 8.64M382.18 897.81l8.64 -8.64M381.07 893.49h12M387.07 885.99v15M382.75 889.17l8.64 8.64M382.75 897.81l8.64 -8.64M381.64 893.49h12M387.64 885.99v15M383.32 889.17l8.64 8.64M383.32 897.81l8.64 -8.64M382.19 893.5h12M388.19 886v15M383.87 889.18l8.64 8.64M383.87 897.82l8.64 -8.64M382.75 893.5h12M388.75 886v15M384.43 889.18l8.64 8.64M384.43 897.82l8.64 -8.64M383.3 893.5h12M389.3 886v15M384.98 889.18l8.64 8.64M384.98 897.82l8.64 -8.64M383.84 893.5h12M389.84 886v15M385.52 889.18l8.64 8.64M385.52 897.82l8.64 -8.64M384.38 893.5h12M390.38 886v15M386.06 889.18l8.64 8.64M386.06 897.82l8.64 -8.64M384.91 893.5h12M390.91 886v15M386.59 889.18l8.64 8.64M386.59 897.82l8.64 -8.64M385.44 893.5h12M391.44 886v15M387.12 889.18l8.64 8.64M387.12 897.82l8.64 -8.64M385.96 893.5h12M391.96 886v15M387.64 889.18l8.64 8.64M387.64 897.82l8.64 -8.64M386.48 893.5h12M392.48 886v15M388.16 889.18l8.64 8.64M388.16 897.82l8.64 -8.64M387 893.5h12M393 886v15M388.68 889.18l8.64 8.64M388.68 897.82l8.64 -8.64M387.51 893.51h12M393.51 886.01v15M389.19 889.19l8.64 8.64M389.19 897.83l8.64 -8.64M388.01 893.51h12M394.01 886.01v15M389.69 889.19l8.64 8.64M389.69 897.83l8.64 -8.64M388.51 893.51h12M394.51 886.01v15M390.19 889.19l8.64 8.64M390.19 897.83l8.64 -8.64M389.01 893.51h12M395.01 886.01v15M390.69 889.19l8.64 8.64M390.69 897.83l8.64 -8.64M389.5 893.51h12M395.5 886.01v15M391.18 889.19l8.64 8.64M391.18 897.83l8.64 -8.64M389.99 893.51h12M395.99 886.01v15M391.67 889.19l8.64 8.64M391.67 897.83l8.64 -8.64M390.47 893.51h12M396.47 886.01v15M392.15 889.19l8.64 8.64M392.15 897.83l8.64 -8.64M390.95 893.51h12M396.95 886.01v15M392.63 889.19l8.64 8.64M392.63 897.83l8.64 -8.64M391.43 893.51h12M397.43 886.01v15M393.11 889.19l8.64 8.64M393.11 897.83l8.64 -8.64M391.9 893.51h12M397.9 886.01v15M393.58 889.19l8.64 8.64M393.58 897.83l8.64 -8.64M392.37 893.52h12M398.37 886.02v15M394.05 889.2l8.64 8.64M394.05 897.84l8.64 -8.64M392.83 893.52h12M398.83 886.02v15M394.51 889.2l8.64 8.64M394.51 897.84l8.64 -8.64M393.29 893.52h12M399.29 886.02v15M394.97 889.2l8.64 8.64M394.97 897.84l8.64 -8.64M393.75 893.52h12M399.75 886.02v15M395.43 889.2l8.64 8.64M395.43 897.84l8.64 -8.64M394.2 893.52h12M400.2 886.02v15M395.88 889.2l8.64 8.64M395.88 897.84l8.64 -8.64M395.1 893.52h12M401.1 886.02v15M396.78 889.2l8.64 8.64M396.78 897.84l8.64 -8.64M395.98 893.52h12M401.98 886.02v15M397.66 889.2l8.64 8.64M397.66 897.84l8.64 -8.64M396.85 893.52h12M402.85 886.02v15M398.53 889.2l8.64 8.64M398.53 897.84l8.64 -8.64M397.7 893.53h12M403.7 886.03v15M399.38 889.21l8.64 8.64M399.38 897.85l8.64 -8.64M398.55 893.53h12M404.55 886.03v15M400.23 889.21l8.64 8.64M400.23 897.85l8.64 -8.64M399.38 893.53h12M405.38 886.03v15M401.06 889.21l8.64 8.64M401.06 897.85l8.64 -8.64M400.2 893.53h12M406.2 886.03v15M401.88 889.21l8.64 8.64M401.88 897.85l8.64 -8.64M401 893.53h12M407 886.03v15M402.68 889.21l8.64 8.64M402.68 897.85l8.64 -8.64M401.8 893.53h12M407.8 886.03v15M403.48 889.21l8.64 8.64M403.48 897.85l8.64 -8.64M402.59 893.54h12M408.59 886.04v15M404.27 889.22l8.64 8.64M404.27 897.86l8.64 -8.64M403.36 893.54h12M409.36 886.04v15M405.04 889.22l8.64 8.64M405.04 897.86l8.64 -8.64M404.12 893.54h12M410.12 886.04v15M405.8 889.22l8.64 8.64M405.8 897.86l8.64 -8.64M404.88 893.54h12M410.88 886.04v15M406.56 889.22l8.64 8.64M406.56 897.86l8.64 -8.64M405.62 893.54h12M411.62 886.04v15M407.3 889.22l8.64 8.64M407.3 897.86l8.64 -8.64M406.36 893.54h12M412.36 886.04v15M408.04 889.22l8.64 8.64M408.04 897.86l8.64 -8.64M407.08 893.54h12M413.08 886.04v15M408.76 889.22l8.64 8.64M408.76 897.86l8.64 -8.64M407.8 893.55h12M413.8 886.05v15M409.48 889.23l8.64 8.64M409.48 897.87l8.64 -8.64M408.51 893.55h12M414.51 886.05v15M410.19 889.23l8.64 8.64M410.19 897.87l8.64 -8.64M409.21 893.55h12M415.21 886.05v15M410.89 889.23l8.64 8.64M410.89 897.87l8.64 -8.64M409.9 893.55h12M415.9 886.05v15M411.58 889.23l8.64 8.64M411.58 897.87l8.64 -8.64M410.58 893.55h12M416.58 886.05v15M412.26 889.23l8.64 8.64M412.26 897.87l8.64 -8.64M411.26 893.55h12M417.26 886.05v15M412.94 889.23l8.64 8.64M412.94 897.87l8.64 -8.64M411.92 893.55h12M417.92 886.05v15M413.6 889.23l8.64 8.64M413.6 897.87l8.64 -8.64M412.58 893.55h12M418.58 886.05v15M414.26 889.23l8.64 8.64M414.26 897.87l8.64 -8.64M413.23 893.56h12M419.23 886.06v15M414.91 889.24l8.64 8.64M414.91 897.88l8.64 -8.64M413.88 893.56h12M419.88 886.06v15M415.56 889.24l8.64 8.64M415.56 897.88l8.64 -8.64M414.51 893.56h12M420.51 886.06v15M416.19 889.24l8.64 8.64M416.19 897.88l8.64 -8.64M415.14 893.56h12M421.14 886.06v15M416.82 889.24l8.64 8.64M416.82 897.88l8.64 -8.64M415.77 893.56h12M421.77 886.06v15M417.45 889.24l8.64 8.64M417.45 897.88l8.64 -8.64M416.38 893.56h12M422.38 886.06v15M418.06 889.24l8.64 8.64M418.06 897.88l8.64 -8.64M416.99 893.56h12M422.99 886.06v15M418.67 889.24l8.64 8.64M418.67 897.88l8.64 -8.64M417.6 893.56h12M423.6 886.06v15M419.28 889.24l8.64 8.64M419.28 897.88l8.64 -8.64M418.19 893.57h12M424.19 886.07v15M419.87 889.25l8.64 8.64M419.87 897.89l8.64 -8.64M418.78 893.57h12M424.78 886.07v15M420.46 889.25l8.64 8.64M420.46 897.89l8.64 -8.64M419.37 893.57h12M425.37 886.07v15M421.05 889.25l8.64 8.64M421.05 897.89l8.64 -8.64M419.95 893.57h12M425.95 886.07v15M421.63 889.25l8.64 8.64M421.63 897.89l8.64 -8.64M420.52 893.57h12M426.52 886.07v15M422.2 889.25l8.64 8.64M422.2 897.89l8.64 -8.64M421.09 893.57h12M427.09 886.07v15M422.77 889.25l8.64 8.64M422.77 897.89l8.64 -8.64M421.65 893.57h12M427.65 886.07v15M423.33 889.25l8.64 8.64M423.33 897.89l8.64 -8.64M422.21 893.57h12M428.21 886.07v15M423.89 889.25l8.64 8.64M423.89 897.89l8.64 -8.64M422.76 893.57h12M428.76 886.07v15M424.44 889.25l8.64 8.64M424.44 897.89l8.64 -8.64M423.31 893.58h12M429.31 886.08v15M424.99 889.26l8.64 8.64M424.99 897.9l8.64 -8.64M423.85 893.58h12M429.85 886.08v15M425.53 889.26l8.64 8.64M425.53 897.9l8.64 -8.64M424.38 893.58h12M430.38 886.08v15M426.06 889.26l8.64 8.64M426.06 897.9l8.64 -8.64M424.91 893.58h12M430.91 886.08v15M426.59 889.26l8.64 8.64M426.59 897.9l8.64 -8.64M425.44 893.58h12M431.44 886.08v15M427.12 889.26l8.64 8.64M427.12 897.9l8.64 -8.64M425.96 893.58h12M431.96 886.08v15M427.64 889.26l8.64 8.64M427.64 897.9l8.64 -8.64M426.48 893.58h12M432.48 886.08v15M428.16 889.26l8.64 8.64M428.16 897.9l8.64 -8.64M426.99 893.58h12M432.99 886.08v15M428.67 889.26l8.64 8.64M428.67 897.9l8.64 -8.64M427.5 893.58h12M433.5 886.08v15M429.18 889.26l8.64 8.64M429.18 897.9l8.64 -8.64M428 893.58h12M434 886.08v15M429.68 889.26l8.64 8.64M429.68 897.9l8.64 -8.64M428.5 893.59h12M434.5 886.09v15M430.18 889.27l8.64 8.64M430.18 897.91l8.64 -8.64M428.99 893.59h12M434.99 886.09v15M430.67 889.27l8.64 8.64M430.67 897.91l8.64 -8.64M429.48 893.59h12M435.48 886.09v15M431.16 889.27l8.64 8.64M431.16 897.91l8.64 -8.64M429.97 893.59h12M435.97 886.09v15M431.65 889.27l8.64 8.64M431.65 897.91l8.64 -8.64M430.45 893.59h12M436.45 886.09v15M432.13 889.27l8.64 8.64M432.13 897.91l8.64 -8.64M430.93 893.59h12M436.93 886.09v15M432.61 889.27l8.64 8.64M432.61 897.91l8.64 -8.64M431.4 893.59h12M437.4 886.09v15M433.08 889.27l8.64 8.64M433.08 897.91l8.64 -8.64M431.87 893.59h12M437.87 886.09v15M433.55 889.27l8.64 8.64M433.55 897.91l8.64 -8.64M432.34 893.59h12M438.34 886.09v15M434.02 889.27l8.64 8.64M434.02 897.91l8.64 -8.64M432.8 893.59h12M438.8 886.09v15M434.48 889.27l8.64 8.64M434.48 897.91l8.64 -8.64M433.26 893.6h12M439.26 886.1v15M434.94 889.28l8.64 8.64M434.94 897.92l8.64 -8.64M433.71 893.6h12M439.71 886.1v15M435.39 889.28l8.64 8.64M435.39 897.92l8.64 -8.64M434.16 893.6h12M440.16 886.1v15M435.84 889.28l8.64 8.64M435.84 897.92l8.64 -8.64M434.83 893.6h12M440.83 886.1v15M436.51 889.28l8.64 8.64M436.51 897.92l8.64 -8.64M435.5 893.6h12M441.5 886.1v15M437.18 889.28l8.64 8.64M437.18 897.92l8.64 -8.64M436.15 893.6h12M442.15 886.1v15M437.83 889.28l8.64 8.64M437.83 897.92l8.64 -8.64M436.8 893.6h12M442.8 886.1v15M438.48 889.28l8.64 8.64M438.48 897.92l8.64 -8.64M437.44 893.6h12M443.44 886.1v15M439.12 889.28l8.64 8.64M439.12 897.92l8.64 -8.64M438.07 893.6h12M444.07 886.1v15M439.75 889.28l8.64 8.64M439.75 897.92l8.64 -8.64M438.7 893.61h12M444.7 886.11v15M440.38 889.29l8.64 8.64M440.38 897.93l8.64 -8.64M439.32 893.61h12M445.32 886.11v15M441 889.29l8.64 8.64M441 897.93l8.64 -8.64M439.93 893.61h12M445.93 886.11v15M441.61 889.29l8.64 8.64M441.61 897.93l8.64 -8.64M440.54 893.61h12M446.54 886.11v15M442.22 889.29l8.64 8.64M442.22 897.93l8.64 -8.64M441.14 893.61h12M447.14 886.11v15M442.82 889.29l8.64 8.64M442.82 897.93l8.64 -8.64M441.73 893.61h12M447.73 886.11v15M443.41 889.29l8.64 8.64M443.41 897.93l8.64 -8.64M442.32 893.61h12M448.32 886.11v15M444 889.29l8.64 8.64M444 897.93l8.64 -8.64M442.9 893.61h12M448.9 886.11v15M444.58 889.29l8.64 8.64M444.58 897.93l8.64 -8.64M443.48 893.61h12M449.48 886.11v15M445.16 889.29l8.64 8.64M445.16 897.93l8.64 -8.64M444.05 893.62h12M450.05 886.12v15M445.73 889.3l8.64 8.64M445.73 897.94l8.64 -8.64M444.62 893.62h12M450.62 886.12v15M446.3 889.3l8.64 8.64M446.3 897.94l8.64 -8.64M445.17 893.62h12M451.17 886.12v15M446.85 889.3l8.64 8.64M446.85 897.94l8.64 -8.64M445.73 893.62h12M451.73 886.12v15M447.41 889.3l8.64 8.64M447.41 897.94l8.64 -8.64M446.28 893.62h12M452.28 886.12v15M447.96 889.3l8.64 8.64M447.96 897.94l8.64 -8.64M446.82 893.62h12M452.82 886.12v15M448.5 889.3l8.64 8.64M448.5 897.94l8.64 -8.64M447.36 893.62h12M453.36 886.12v15M449.04 889.3l8.64 8.64M449.04 897.94l8.64 -8.64M447.89 893.62h12M453.89 886.12v15M449.57 889.3l8.64 8.64M449.57 897.94l8.64 -8.64M448.42 893.62h12M454.42 886.12v15M450.1 889.3l8.64 8.64M450.1 897.94l8.64 -8.64M448.94 893.63h12M454.94 886.13v15M450.62 889.31l8.64 8.64M450.62 897.95l8.64 -8.64M449.46 893.63h12M455.46 886.13v15M451.14 889.31l8.64 8.64M451.14 897.95l8.64 -8.64M449.98 893.63h12M455.98 886.13v15M451.66 889.31l8.64 8.64M451.66 897.95l8.64 -8.64M450.49 893.63h12M456.49 886.13v15M452.17 889.31l8.64 8.64M452.17 897.95l8.64 -8.64M450.99 893.63h12M456.99 886.13v15M452.67 889.31l8.64 8.64M452.67 897.95l8.64 -8.64M451.49 893.63h12M457.49 886.13v15M453.17 889.31l8.64 8.64M453.17 897.95l8.64 -8.64M451.99 893.63h12M457.99 886.13v15M453.67 889.31l8.64 8.64M453.67 897.95l8.64 -8.64M452.48 893.63h12M458.48 886.13v15M454.16 889.31l8.64 8.64M454.16 897.95l8.64 -8.64M452.97 893.63h12M458.97 886.13v15M454.65 889.31l8.64 8.64M454.65 897.95l8.64 -8.64M453.45 893.63h12M459.45 886.13v15M455.13 889.31l8.64 8.64M455.13 897.95l8.64 -8.64M453.93 893.64h12M459.93 886.14v15M455.61 889.32l8.64 8.64M455.61 897.96l8.64 -8.64M454.41 893.65h12M460.41 886.15v15M456.09 889.33l8.64 8.64M456.09 897.97l8.64 -8.64M454.88 893.71h12M460.88 886.21v15M456.56 889.39l8.64 8.64M456.56 898.03l8.64 -8.64M455.35 893.83h12M461.35 886.33v15M457.03 889.51l8.64 8.64M457.03 898.15l8.64 -8.64M455.81 894.03h12M461.81 886.53v15M457.49 889.71l8.64 8.64M457.49 898.35l8.64 -8.64M456.27 894.32h12M462.27 886.82v15M457.95 890l8.64 8.64M457.95 898.64l8.64 -8.64M456.73 894.72h12M462.73 887.22v15M458.41 890.4l8.64 8.64M458.41 899.04l8.64 -8.64M457.18 895.23h12M463.18 887.73v15M458.86 890.91l8.64 8.64M458.86 899.55l8.64 -8.64M457.48 895.63h12M463.48 888.13v15M459.16 891.31l8.64 8.64M459.16 899.95l8.64 -8.64M457.78 896.1h12M463.78 888.6v15M459.46 891.78l8.64 8.64M459.46 900.42l8.64 -8.64M458.08 896.62h12M464.08 889.12v15M459.76 892.3l8.64 8.64M459.76 900.94l8.64 -8.64M458.37 897.2h12M464.37 889.7v15M460.05 892.88l8.64 8.64M460.05 901.52l8.64 -8.64M458.67 897.85h12M464.67 890.35v15M460.35 893.53l8.64 8.64M460.35 902.17l8.64 -8.64M458.96 898.56h12M464.96 891.06v15M460.64 894.24l8.64 8.64M460.64 902.88l8.64 -8.64M459.25 899.34h12M465.25 891.84v15M460.93 895.02l8.64 8.64M460.93 903.66l8.64 -8.64M459.54 900.19h12M465.54 892.69v15M461.22 895.87l8.64 8.64M461.22 904.51l8.64 -8.64M459.68 900.64h12M465.68 893.14v15M461.36 896.32l8.64 8.64M461.36 904.96l8.64 -8.64M459.83 901.11h12M465.83 893.61v15M461.51 896.79l8.64 8.64M461.51 905.43l8.64 -8.64M459.97 901.59h12M465.97 894.09v15M461.65 897.27l8.64 8.64M461.65 905.91l8.64 -8.64" fill="none" stroke="#7e2f8e" stroke-width="2.4" />
<polyline points="122.5,888.25 162.24,888.62 185.48,891.72 201.97,892.9 214.76,893.82 225.22,894.35 234.05,894.8 241.71,895.19 248.46,895.53 254.5,895.84 259.96,896.19 264.95,896.51 269.54,896.8 273.79,897.07 277.74,897.32 281.44,897.55 284.92,897.78 288.2,897.98 291.3,898.18 294.24,898.37 297.03,898.51 299.7,898.65 302.25,898.78 304.69,898.9 307.03,899.02 309.28,899.14 311.44,899.25 313.52,899.36 315.54,899.46 317.48,899.56 319.36,899.66 321.18,899.75 322.94,899.84 324.66,899.93 326.32,900.01 327.93,900.1 329.5,900.18 331.03,900.18 332.52,900.18 333.97,900.19 335.39,900.19 336.77,900.19 338.12,900.2 339.44,900.2 340.72,900.2 341.98,900.21 343.22,900.21 344.42,900.21 345.61,900.21 346.76,900.22 347.9,900.22 349.01,900.22 350.1,900.22 351.18,900.23 352.23,900.23 353.26,900.23 354.28,900.23 355.27,900.24 356.25,900.24 357.22,900.24 358.16,900.24 359.1,900.25 360.01,900.25 360.92,900.25 361.8,900.25 362.68,900.26 363.54,900.26 364.39,900.26 365.23,900.26 366.05,900.26 366.87,900.27 367.67,900.27 368.46,900.27 369.24,900.27 370.01,900.27 370.77,900.27 371.52,900.28 372.26,900.28 372.99,900.28 373.71,900.28 374.42,900.28 375.12,900.29 375.82,900.29 376.5,900.29 377.18,900.29 377.85,900.29 378.52,900.29 379.17,900.3 379.82,900.3 380.46,900.3 381.09,900.3 381.72,900.3 382.34,900.3 382.95,900.3 383.56,900.31 384.16,900.31 384.75,900.31 385.34,900.31 385.92,900.31 386.5,900.31 387.07,900.31 387.64,900.32 388.19,900.32 388.75,900.32 389.3,900.32 389.84,900.32 390.38,900.32 390.91,900.32 391.44,900.32 391.96,900.33 392.48,900.33 393,900.33 393.51,900.33 394.01,900.33 394.51,900.33 395.01,900.33 395.5,900.33 395.99,900.34 396.47,900.34 396.95,900.34 397.43,900.34 397.9,900.34 398.37,900.34 398.83,900.34 399.29,900.34 399.75,900.34 400.2,900.35 400.65,900.35 401.1,900.35 401.54,900.35 401.98,900.35 402.42,900.35 402.85,900.35 403.28,900.35 403.7,900.35 404.13,900.36 404.55,900.36 404.96,900.36 405.38,900.36 405.79,900.36 406.2,900.36 406.6,900.36 407,900.36 407.4,900.36 407.8,900.36 408.19,900.37 408.59,900.37 408.97,900.37 409.36,900.37 409.74,900.37 410.12,900.37 410.5,900.37 410.88,900.37 411.25,900.37 411.62,900.37 411.99,900.37 412.36,900.38 412.72,900.38 413.08,900.38 413.44,900.38 413.8,900.38 414.16,900.38 414.51,900.38 414.86,900.38 415.21,900.38 415.55,900.38 415.9,900.38 416.24,900.38 416.58,900.39 416.92,900.39 417.26,900.39 417.59,900.39 417.92,900.39 418.25,900.39 418.58,900.39 418.91,900.39 419.23,900.39 419.56,900.39 419.88,900.39 420.2,900.39 420.51,900.4 420.83,900.4 421.14,900.4 421.46,900.4 421.77,900.4 422.08,900.4 422.38,900.4 422.69,900.4 422.99,900.4 423.3,900.4 423.6,900.4 423.9,900.4 424.19,900.4 424.49,900.4 424.78,900.41 425.08,900.41 425.37,900.41 425.66,900.41 425.95,900.41 426.24,900.41 426.52,900.41 426.81,900.41 427.09,900.41 427.37,900.41 427.65,900.41 427.93,900.41 428.21,900.41 428.48,900.41 428.76,900.42 429.03,900.42 429.31,900.42 429.58,900.42 429.85,900.42 430.11,900.42 430.38,900.42 430.65,900.42 430.91,900.42 431.18,900.42 431.44,900.42 431.7,900.42 431.96,900.42 432.22,900.42 432.48,900.42 432.73,900.42 432.99,900.43 433.24,900.43 433.5,900.43 433.75,900.43 434,900.43 434.25,900.43 434.5,900.43 434.74,900.43 434.99,900.43 435.24,900.43 435.48,900.43 435.72,900.43 435.97,900.43 436.21,900.43 436.45,900.43 436.69,900.43 436.93,900.43 437.16,900.44 437.4,900.44 437.64,900.44 437.87,900.44 438.1,900.44 438.34,900.44 438.57,900.44 438.8,900.44 439.03,900.44 439.26,900.44 439.48,900.44 439.71,900.44 439.94,900.44 440.16,900.44 440.39,900.44 440.61,900.44 440.83,900.44 441.06,900.44 441.28,900.45 441.5,900.45 441.72,900.45 441.93,900.45 442.15,900.45 442.37,900.45 442.58,900.45 442.8,900.45 443.01,900.45 443.23,900.45 443.44,900.45 443.65,900.45 443.86,900.45 444.07,900.45 444.28,900.45 444.49,900.45 444.7,900.45 444.91,900.45 445.11,900.45 445.32,900.46 445.52,900.46 445.73,900.46 445.93,900.46 446.14,900.46 446.34,900.46 446.54,900.46 446.74,900.46 446.94,900.46 447.14,900.46 447.34,900.46 447.54,900.46 447.73,900.46 447.93,900.46 448.13,900.46 448.32,900.46 448.52,900.46 448.71,900.46 448.9,900.46 449.1,900.46 449.29,900.46 449.48,900.47 449.67,900.47 449.86,900.47 450.05,900.47 450.24,900.47 450.43,900.47 450.62,900.47 450.8,900.47 450.99,900.47 451.17,900.47 451.36,900.47 451.54,900.47 451.73,900.47 451.91,900.47 452.09,900.47 452.28,900.47 452.46,900.47 452.64,900.47 452.82,900.47 453,900.47 453.18,900.47 453.36,900.47 453.54,900.47 453.71,900.48 453.89,900.48 454.07,900.48 454.24,900.48 454.42,900.48 454.6,900.48 454.77,900.48 454.94,900.48 455.12,900.48 455.29,900.48 455.46,900.48 455.63,900.49 455.81,900.49 455.98,900.5 456.15,900.51 456.32,900.52 456.49,900.54 456.66,900.55 456.82,900.57 456.99,900.6 457.16,900.62 457.33,900.65 457.49,900.68 457.66,900.72 457.82,900.76 457.99,900.8 458.15,900.85 458.32,900.9 458.48,900.95 458.64,901.01 458.81,901.07 458.97,901.13 459.13,901.2 459.29,901.28 459.45,901.36 459.61,901.44 459.77,901.53 459.93,901.62 460.09,901.72 460.25,901.82 460.41,901.92 460.57,902.04 460.72,902.15 460.88,902.27 461.04,902.4 461.19,902.53 461.35,902.67 461.5,902.81 461.66,902.96 461.81,903.11 461.97,903.27 462.12,903.44 462.27,903.61 462.42,903.78 462.58,903.97 462.73,904.15 462.88,904.35 463.03,904.55 463.18,904.75 463.33,904.97 463.48,905.18 463.63,905.41 463.78,905.64 463.93,905.88 464.08,906.12 464.23,906.37 464.37,906.63 464.52,906.89 464.67,907.16 464.81,907.44 464.96,907.72 465.11,908.01 465.25,908.31 465.4,908.61 465.54,908.92 465.68,909.24 465.83,909.57 465.97,909.9" fill="none" stroke="#008000" stroke-width="2.4" stroke-linejoin="round" clip-path="url(#clipe)"/>
<path d="M122.5 880.59L129.25 892.09L115.75 892.09ZM162.24 880.95L168.99 892.45L155.49 892.45ZM185.48 884.06L192.23 895.56L178.73 895.56ZM201.97 885.24L208.72 896.74L195.22 896.74ZM214.76 886.15L221.51 897.65L208.01 897.65ZM225.22 886.68L231.97 898.18L218.47 898.18ZM234.05 887.13L240.8 898.63L227.3 898.63ZM241.71 887.52L248.46 899.02L234.96 899.02ZM248.46 887.87L255.21 899.37L241.71 899.37ZM254.5 888.17L261.25 899.67L247.75 899.67ZM259.96 888.52L266.71 900.02L253.21 900.02ZM264.95 888.84L271.7 900.34L258.2 900.34ZM269.54 889.13L276.29 900.63L262.79 900.63ZM273.79 889.4L280.54 900.9L267.04 900.9ZM277.74 889.65L284.49 901.15L270.99 901.15ZM281.44 889.89L288.19 901.39L274.69 901.39ZM284.92 890.11L291.67 901.61L278.17 901.61ZM288.2 890.32L294.95 901.82L281.45 901.82ZM291.3 890.52L298.05 902.02L284.55 902.02ZM294.24 890.7L300.99 902.2L287.49 902.2ZM297.03 890.85L303.78 902.35L290.28 902.35ZM299.7 890.98L306.45 902.48L292.95 902.48ZM302.25 891.11L309 902.61L295.5 902.61ZM304.69 891.24L311.44 902.74L297.94 902.74ZM307.03 891.36L313.78 902.86L300.28 902.86ZM309.28 891.47L316.03 902.97L302.53 902.97ZM311.44 891.58L318.19 903.08L304.69 903.08ZM313.52 891.69L320.27 903.19L306.77 903.19ZM315.54 891.79L322.29 903.29L308.79 903.29ZM317.48 891.89L324.23 903.39L310.73 903.39ZM319.36 891.99L326.11 903.49L312.61 903.49ZM321.18 892.08L327.93 903.58L314.43 903.58ZM322.94 892.17L329.69 903.67L316.19 903.67ZM324.66 892.26L331.41 903.76L317.91 903.76ZM326.32 892.35L333.07 903.85L319.57 903.85ZM327.93 892.43L334.68 903.93L321.18 903.93ZM329.5 892.51L336.25 904.01L322.75 904.01ZM331.03 892.51L337.78 904.01L324.28 904.01ZM332.52 892.52L339.27 904.02L325.77 904.02ZM333.97 892.52L340.72 904.02L327.22 904.02ZM335.39 892.52L342.14 904.02L328.64 904.02ZM336.77 892.53L343.52 904.03L330.02 904.03ZM338.12 892.53L344.87 904.03L331.37 904.03ZM339.44 892.53L346.19 904.03L332.69 904.03ZM340.72 892.54L347.47 904.04L333.97 904.04ZM341.98 892.54L348.73 904.04L335.23 904.04ZM343.22 892.54L349.97 904.04L336.47 904.04ZM344.42 892.54L351.17 904.04L337.67 904.04ZM345.61 892.55L352.36 904.05L338.86 904.05ZM346.76 892.55L353.51 904.05L340.01 904.05ZM347.9 892.55L354.65 904.05L341.15 904.05ZM349.01 892.56L355.76 904.06L342.26 904.06ZM350.1 892.56L356.85 904.06L343.35 904.06ZM351.18 892.56L357.93 904.06L344.43 904.06ZM352.23 892.56L358.98 904.06L345.48 904.06ZM353.26 892.57L360.01 904.07L346.51 904.07ZM354.28 892.57L361.03 904.07L347.53 904.07ZM355.27 892.57L362.02 904.07L348.52 904.07ZM356.25 892.57L363 904.07L349.5 904.07ZM357.22 892.58L363.97 904.08L350.47 904.08ZM358.16 892.58L364.91 904.08L351.41 904.08ZM359.1 892.58L365.85 904.08L352.35 904.08ZM360.01 892.58L366.76 904.08L353.26 904.08ZM360.92 892.58L367.67 904.08L354.17 904.08ZM361.8 892.59L368.55 904.09L355.05 904.09ZM362.68 892.59L369.43 904.09L355.93 904.09ZM363.54 892.59L370.29 904.09L356.79 904.09ZM364.39 892.59L371.14 904.09L357.64 904.09ZM365.23 892.59L371.98 904.09L358.48 904.09ZM366.05 892.6L372.8 904.1L359.3 904.1ZM366.87 892.6L373.62 904.1L360.12 904.1ZM367.67 892.6L374.42 904.1L360.92 904.1ZM368.46 892.6L375.21 904.1L361.71 904.1ZM369.24 892.6L375.99 904.1L362.49 904.1ZM370.01 892.61L376.76 904.11L363.26 904.11ZM370.77 892.61L377.52 904.11L364.02 904.11ZM371.52 892.61L378.27 904.11L364.77 904.11ZM372.26 892.61L379.01 904.11L365.51 904.11ZM372.99 892.61L379.74 904.11L366.24 904.11ZM373.71 892.62L380.46 904.12L366.96 904.12ZM374.42 892.62L381.17 904.12L367.67 904.12ZM375.12 892.62L381.87 904.12L368.37 904.12ZM375.82 892.62L382.57 904.12L369.07 904.12ZM376.5 892.62L383.25 904.12L369.75 904.12ZM377.18 892.62L383.93 904.12L370.43 904.12ZM377.85 892.63L384.6 904.13L371.1 904.13ZM378.52 892.63L385.27 904.13L371.77 904.13ZM379.17 892.63L385.92 904.13L372.42 904.13ZM379.82 892.63L386.57 904.13L373.07 904.13ZM380.46 892.63L387.21 904.13L373.71 904.13ZM381.09 892.63L387.84 904.13L374.34 904.13ZM381.72 892.63L388.47 904.13L374.97 904.13ZM382.34 892.64L389.09 904.14L375.59 904.14ZM382.95 892.64L389.7 904.14L376.2 904.14ZM383.56 892.64L390.31 904.14L376.81 904.14ZM384.16 892.64L390.91 904.14L377.41 904.14ZM384.75 892.64L391.5 904.14L378 904.14ZM385.34 892.64L392.09 904.14L378.59 904.14ZM385.92 892.64L392.67 904.14L379.17 904.14ZM386.5 892.65L393.25 904.15L379.75 904.15ZM387.07 892.65L393.82 904.15L380.32 904.15ZM387.64 892.65L394.39 904.15L380.89 904.15ZM388.19 892.65L394.94 904.15L381.44 904.15ZM388.75 892.65L395.5 904.15L382 904.15ZM389.3 892.65L396.05 904.15L382.55 904.15ZM389.84 892.65L396.59 904.15L383.09 904.15ZM390.38 892.66L397.13 904.16L383.63 904.16ZM390.91 892.66L397.66 904.16L384.16 904.16ZM391.44 892.66L398.19 904.16L384.69 904.16ZM391.96 892.66L398.71 904.16L385.21 904.16ZM392.48 892.66L399.23 904.16L385.73 904.16ZM393 892.66L399.75 904.16L386.25 904.16ZM393.51 892.66L400.26 904.16L386.76 904.16ZM394.01 892.66L400.76 904.16L387.26 904.16ZM394.51 892.67L401.26 904.17L387.76 904.17ZM395.01 892.67L401.76 904.17L388.26 904.17ZM395.5 892.67L402.25 904.17L388.75 904.17ZM395.99 892.67L402.74 904.17L389.24 904.17ZM396.47 892.67L403.22 904.17L389.72 904.17ZM396.95 892.67L403.7 904.17L390.2 904.17ZM397.43 892.67L404.18 904.17L390.68 904.17ZM397.9 892.67L404.65 904.17L391.15 904.17ZM398.37 892.67L405.12 904.17L391.62 904.17ZM398.83 892.68L405.58 904.18L392.08 904.18ZM399.29 892.68L406.04 904.18L392.54 904.18ZM399.75 892.68L406.5 904.18L393 904.18ZM400.2 892.68L406.95 904.18L393.45 904.18ZM401.1 892.68L407.85 904.18L394.35 904.18ZM401.98 892.68L408.73 904.18L395.23 904.18ZM402.85 892.69L409.6 904.19L396.1 904.19ZM403.7 892.69L410.45 904.19L396.95 904.19ZM404.55 892.69L411.3 904.19L397.8 904.19ZM405.38 892.69L412.13 904.19L398.63 904.19ZM406.2 892.69L412.95 904.19L399.45 904.19ZM407 892.7L413.75 904.2L400.25 904.2ZM407.8 892.7L414.55 904.2L401.05 904.2ZM408.59 892.7L415.34 904.2L401.84 904.2ZM409.36 892.7L416.11 904.2L402.61 904.2ZM410.12 892.7L416.87 904.2L403.37 904.2ZM410.88 892.71L417.63 904.21L404.13 904.21ZM411.62 892.71L418.37 904.21L404.87 904.21ZM412.36 892.71L419.11 904.21L405.61 904.21ZM413.08 892.71L419.83 904.21L406.33 904.21ZM413.8 892.71L420.55 904.21L407.05 904.21ZM414.51 892.71L421.26 904.21L407.76 904.21ZM415.21 892.72L421.96 904.22L408.46 904.22ZM415.9 892.72L422.65 904.22L409.15 904.22ZM416.58 892.72L423.33 904.22L409.83 904.22ZM417.26 892.72L424.01 904.22L410.51 904.22ZM417.92 892.72L424.67 904.22L411.17 904.22ZM418.58 892.72L425.33 904.22L411.83 904.22ZM419.23 892.73L425.98 904.23L412.48 904.23ZM419.88 892.73L426.63 904.23L413.13 904.23ZM420.51 892.73L427.26 904.23L413.76 904.23ZM421.14 892.73L427.89 904.23L414.39 904.23ZM421.77 892.73L428.52 904.23L415.02 904.23ZM422.38 892.73L429.13 904.23L415.63 904.23ZM422.99 892.73L429.74 904.23L416.24 904.23ZM423.6 892.74L430.35 904.24L416.85 904.24ZM424.19 892.74L430.94 904.24L417.44 904.24ZM424.78 892.74L431.53 904.24L418.03 904.24ZM425.37 892.74L432.12 904.24L418.62 904.24ZM425.95 892.74L432.7 904.24L419.2 904.24ZM426.52 892.74L433.27 904.24L419.77 904.24ZM427.09 892.74L433.84 904.24L420.34 904.24ZM427.65 892.75L434.4 904.25L420.9 904.25ZM428.21 892.75L434.96 904.25L421.46 904.25ZM428.76 892.75L435.51 904.25L422.01 904.25ZM429.31 892.75L436.06 904.25L422.56 904.25ZM429.85 892.75L436.6 904.25L423.1 904.25ZM430.38 892.75L437.13 904.25L423.63 904.25ZM430.91 892.75L437.66 904.25L424.16 904.25ZM431.44 892.75L438.19 904.25L424.69 904.25ZM431.96 892.76L438.71 904.26L425.21 904.26ZM432.48 892.76L439.23 904.26L425.73 904.26ZM432.99 892.76L439.74 904.26L426.24 904.26ZM433.5 892.76L440.25 904.26L426.75 904.26ZM434 892.76L440.75 904.26L427.25 904.26ZM434.5 892.76L441.25 904.26L427.75 904.26ZM434.99 892.76L441.74 904.26L428.24 904.26ZM435.48 892.76L442.23 904.26L428.73 904.26ZM435.97 892.77L442.72 904.27L429.22 904.27ZM436.45 892.77L443.2 904.27L429.7 904.27ZM436.93 892.77L443.68 904.27L430.18 904.27ZM437.4 892.77L444.15 904.27L430.65 904.27ZM437.87 892.77L444.62 904.27L431.12 904.27ZM438.34 892.77L445.09 904.27L431.59 904.27ZM438.8 892.77L445.55 904.27L432.05 904.27ZM439.26 892.77L446.01 904.27L432.51 904.27ZM439.71 892.77L446.46 904.27L432.96 904.27ZM440.16 892.78L446.91 904.28L433.41 904.28ZM440.83 892.78L447.58 904.28L434.08 904.28ZM441.5 892.78L448.25 904.28L434.75 904.28ZM442.15 892.78L448.9 904.28L435.4 904.28ZM442.8 892.78L449.55 904.28L436.05 904.28ZM443.44 892.78L450.19 904.28L436.69 904.28ZM444.07 892.79L450.82 904.29L437.32 904.29ZM444.7 892.79L451.45 904.29L437.95 904.29ZM445.32 892.79L452.07 904.29L438.57 904.29ZM445.93 892.79L452.68 904.29L439.18 904.29ZM446.54 892.79L453.29 904.29L439.79 904.29ZM447.14 892.79L453.89 904.29L440.39 904.29ZM447.73 892.79L454.48 904.29L440.98 904.29ZM448.32 892.8L455.07 904.3L441.57 904.3ZM448.9 892.8L455.65 904.3L442.15 904.3ZM449.48 892.8L456.23 904.3L442.73 904.3ZM450.05 892.8L456.8 904.3L443.3 904.3ZM450.62 892.8L457.37 904.3L443.87 904.3ZM451.17 892.8L457.92 904.3L444.42 904.3ZM451.73 892.8L458.48 904.3L444.98 904.3ZM452.28 892.81L459.03 904.31L445.53 904.31ZM452.82 892.81L459.57 904.31L446.07 904.31ZM453.36 892.81L460.11 904.31L446.61 904.31ZM453.89 892.81L460.64 904.31L447.14 904.31ZM454.42 892.81L461.17 904.31L447.67 904.31ZM454.94 892.81L461.69 904.31L448.19 904.31ZM455.46 892.82L462.21 904.32L448.71 904.32ZM455.98 892.83L462.73 904.33L449.23 904.33ZM456.49 892.87L463.24 904.37L449.74 904.37ZM456.99 892.93L463.74 904.43L450.24 904.43ZM457.49 893.02L464.24 904.52L450.74 904.52ZM457.99 893.13L464.74 904.63L451.24 904.63ZM458.48 893.28L465.23 904.78L451.73 904.78ZM458.97 893.47L465.72 904.97L452.22 904.97ZM459.45 893.69L466.2 905.19L452.7 905.19ZM459.93 893.95L466.68 905.45L453.18 905.45ZM460.41 894.26L467.16 905.76L453.66 905.76ZM460.88 894.61L467.63 906.11L454.13 906.11ZM461.35 895L468.1 906.5L454.6 906.5ZM461.81 895.45L468.56 906.95L455.06 906.95ZM462.27 895.94L469.02 907.44L455.52 907.44ZM462.58 896.3L469.33 907.8L455.83 907.8ZM462.88 896.68L469.63 908.18L456.13 908.18ZM463.18 897.09L469.93 908.59L456.43 908.59ZM463.48 897.52L470.23 909.02L456.73 909.02ZM463.78 897.97L470.53 909.47L457.03 909.47ZM464.08 898.45L470.83 909.95L457.33 909.95ZM464.37 898.96L471.12 910.46L457.62 910.46ZM464.67 899.49L471.42 910.99L457.92 910.99ZM464.96 900.05L471.71 911.55L458.21 911.55ZM465.25 900.64L472 912.14L458.5 912.14ZM465.54 901.26L472.29 912.76L458.79 912.76ZM465.83 901.9L472.58 913.4L459.08 913.4Z" fill="none" stroke="#008000" stroke-width="2.5" />
<polyline points="122.5,891.07 162.24,890.42 185.48,894.61 201.97,897.43 214.76,900.17 225.22,902.2 234.05,904.3 241.71,905.74 248.46,906.96 254.5,908.05 259.96,909.04 264.95,909.94 269.54,910.77 273.79,911.54 277.74,912.25 281.44,912.92 284.92,913.55 288.2,914.14 291.3,914.7 294.24,915.23 297.03,915.73 299.7,916.22 302.25,916.68 304.69,917.12 307.03,917.54 309.28,917.94 311.44,918.34 313.52,918.71 315.54,919.08 317.48,919.43 319.36,919.77 321.18,920.1 322.94,920.41 324.66,920.72 326.32,921.02 327.93,921.31 329.5,921.6 331.03,921.87 332.52,922.14 333.97,922.41 335.39,922.66 336.77,922.91 338.12,923.15 339.44,923.39 340.72,923.63 341.98,923.85 343.22,924.08 344.42,924.29 345.61,924.51 346.76,924.72 347.9,924.92 349.01,925.12 350.1,925.32 351.18,925.51 352.23,925.7 353.26,925.89 354.28,926.07 355.27,926.25 356.25,926.43 357.22,926.6 358.16,926.78 359.1,926.94 360.01,927.11 360.92,927.27 361.8,927.43 362.68,927.59 363.54,927.75 364.39,927.9 365.23,928.05 366.05,928.2 366.87,928.35 367.67,928.49 368.46,928.63 369.24,928.78 370.01,928.91 370.77,929.05 371.52,929.19 372.26,929.32 372.99,929.45 373.71,929.58 374.42,929.71 375.12,929.84 375.82,929.96 376.5,930.09 377.18,930.21 377.85,930.33 378.52,930.45 379.17,930.57 379.82,930.69 380.46,930.8 381.09,930.92 381.72,931.03 382.34,931.14 382.95,931.25 383.56,931.36 384.16,931.47 384.75,931.58 385.34,931.68 385.92,931.79 386.5,931.89 387.07,932 387.64,932.1 388.19,932.2 388.75,932.3 389.3,932.4 389.84,932.5 390.38,932.59 390.91,932.69 391.44,932.79 391.96,932.88 392.48,932.97 393,933.07 393.51,933.16 394.01,933.25 394.51,933.34 395.01,933.43 395.5,933.52 395.99,933.61 396.47,933.69 396.95,933.78 397.43,933.87 397.9,933.95 398.37,934.04 398.83,934.12 399.29,934.2 399.75,934.29 400.2,934.37 400.65,934.45 401.1,934.53 401.54,934.61 401.98,934.69 402.42,934.77 402.85,934.85 403.28,934.92 403.7,935 404.13,935.08 404.55,935.15 404.96,935.23 405.38,935.3 405.79,935.38 406.2,935.45 406.6,935.52 407,935.6 407.4,935.67 407.8,935.74 408.19,935.81 408.59,935.88 408.97,935.95 409.36,936.02 409.74,936.09 410.12,936.16 410.5,936.23 410.88,936.3 411.25,936.36 411.62,936.43 411.99,936.5 412.36,936.56 412.72,936.63 413.08,936.7 413.44,936.76 413.8,936.82 414.16,936.89 414.51,936.95 414.86,937.02 415.21,937.08 415.55,937.14 415.9,937.2 416.24,937.27 416.58,937.33 416.92,937.39 417.26,937.45 417.59,937.51 417.92,937.57 418.25,937.63 418.58,937.69 418.91,937.75 419.23,937.81 419.56,937.86 419.88,937.92 420.2,937.98 420.51,938.04 420.83,938.09 421.14,938.15 421.46,938.21 421.77,938.26 422.08,938.32 422.38,938.37 422.69,938.43 422.99,938.49 423.3,938.54 423.6,938.59 423.9,938.65 424.19,938.7 424.49,938.76 424.78,938.81 425.08,938.86 425.37,938.91 425.66,938.97 425.95,939.02 426.24,939.07 426.52,939.12 426.81,939.17 427.09,939.22 427.37,939.28 427.65,939.33 427.93,939.38 428.21,939.43 428.48,939.48 428.76,939.53 429.03,939.58 429.31,939.63 429.58,939.67 429.85,939.72 430.11,939.77 430.38,939.82 430.65,939.87 430.91,939.92 431.18,939.96 431.44,940.01 431.7,940.06 431.96,940.1 432.22,940.15 432.48,940.2 432.73,940.24 432.99,940.29 433.24,940.34 433.5,940.38 433.75,940.43 434,940.47 434.25,940.52 434.5,940.56 434.74,940.61 434.99,940.65 435.24,940.7 435.48,940.74 435.72,940.78 435.97,940.83 436.21,940.87 436.45,940.92 436.69,940.96 436.93,941 437.16,941.04 437.4,941.09 437.64,941.13 437.87,941.17 438.1,941.21 438.34,941.26 438.57,941.3 438.8,941.34 439.03,941.38 439.26,941.42 439.48,941.46 439.71,941.5 439.94,941.55 440.16,941.59 440.39,941.63 440.61,941.67 440.83,941.71 441.06,941.75 441.28,941.79 441.5,941.83 441.72,941.87 441.93,941.91 442.15,941.95 442.37,941.98 442.58,942.02 442.8,942.06 443.01,942.1 443.23,942.14 443.44,942.18 443.65,942.22 443.86,942.25 444.07,942.29 444.28,942.33 444.49,942.37 444.7,942.41 444.91,942.44 445.11,942.48 445.32,942.52 445.52,942.55 445.73,942.59 445.93,942.63 446.14,942.67 446.34,942.7 446.54,942.74 446.74,942.77 446.94,942.81 447.14,942.85 447.34,942.88 447.54,942.92 447.73,942.95 447.93,942.99 448.13,943.02 448.32,943.06 448.52,943.1 448.71,943.13 448.9,943.17 449.1,943.2 449.29,943.23 449.48,943.27 449.67,943.3 449.86,943.34 450.05,943.37 450.24,943.41 450.43,943.44 450.62,943.47 450.8,943.51 450.99,943.54 451.17,943.58 451.36,943.61 451.54,943.64 451.73,943.68 451.91,943.71 452.09,943.74 452.28,943.77 452.46,943.81 452.64,943.84 452.82,943.87 453,943.91 453.18,943.94 453.36,943.97 453.54,944 453.71,944.03 453.89,944.07 454.07,944.1 454.24,944.13 454.42,944.16 454.6,944.19 454.77,944.22 454.94,944.26 455.12,944.29 455.29,944.32 455.46,944.35 455.63,944.39 455.81,944.43 455.98,944.47 456.15,944.51 456.32,944.55 456.49,944.6 456.66,944.65 456.82,944.7 456.99,944.76 457.16,944.82 457.33,944.88 457.49,944.95 457.66,945.02 457.82,945.09 457.99,945.17 458.15,945.25 458.32,945.34 458.48,945.43 458.64,945.52 458.81,945.62 458.97,945.73 459.13,945.84 459.29,945.95 459.45,946.07 459.61,946.2 459.77,946.33 459.93,946.46 460.09,946.6 460.25,946.75 460.41,946.9 460.57,947.05 460.72,947.22 460.88,947.38 461.04,947.56 461.19,947.74 461.35,947.92 461.5,948.12 461.66,948.31 461.81,948.52 461.97,948.73 462.12,948.95 462.27,949.17 462.42,949.4 462.58,949.64 462.73,949.88 462.88,950.13 463.03,950.39 463.18,950.65 463.33,950.93 463.48,951.2 463.63,951.49 463.78,951.78 463.93,952.08 464.08,952.39 464.23,952.71 464.37,953.03 464.52,953.36 464.67,953.7 464.81,954.04 464.96,954.39 465.11,954.75 465.25,955.12 465.4,955.5 465.54,955.88 465.68,956.28 465.83,956.68 465.97,957.09" fill="none" stroke="#ff0000" stroke-width="2.4" stroke-linejoin="round" clip-path="url(#clipe)"/>
<path d="M116.7 891.07a5.8 5.8 0 1 0 11.6 0a5.8 5.8 0 1 0 -11.6 0M156.44 890.42a5.8 5.8 0 1 0 11.6 0a5.8 5.8 0 1 0 -11.6 0M179.68 894.61a5.8 5.8 0 1 0 11.6 0a5.8 5.8 0 1 0 -11.6 0M196.17 897.43a5.8 5.8 0 1 0 11.6 0a5.8 5.8 0 1 0 -11.6 0M208.96 900.17a5.8 5.8 0 1 0 11.6 0a5.8 5.8 0 1 0 -11.6 0M219.42 902.2a5.8 5.8 0 1 0 11.6 0a5.8 5.8 0 1 0 -11.6 0M228.25 904.3a5.8 5.8 0 1 0 11.6 0a5.8 5.8 0 1 0 -11.6 0M235.91 905.74a5.8 5.8 0 1 0 11.6 0a5.8 5.8 0 1 0 -11.6 0M242.66 906.96a5.8 5.8 0 1 0 11.6 0a5.8 5.8 0 1 0 -11.6 0M248.7 908.05a5.8 5.8 0 1 0 11.6 0a5.8 5.8 0 1 0 -11.6 0M254.16 909.04a5.8 5.8 0 1 0 11.6 0a5.8 5.8 0 1 0 -11.6 0M259.15 909.94a5.8 5.8 0 1 0 11.6 0a5.8 5.8 0 1 0 -11.6 0M263.74 910.77a5.8 5.8 0 1 0 11.6 0a5.8 5.8 0 1 0 -11.6 0M267.99 911.54a5.8 5.8 0 1 0 11.6 0a5.8 5.8 0 1 0 -11.6 0M271.94 912.25a5.8 5.8 0 1 0 11.6 0a5.8 5.8 0 1 0 -11.6 0M275.64 912.92a5.8 5.8 0 1 0 11.6 0a5.8 5.8 0 1 0 -11.6 0M279.12 913.55a5.8 5.8 0 1 0 11.6 0a5.8 5.8 0 1 0 -11.6 0M282.4 914.14a5.8 5.8 0 1 0 11.6 0a5.8 5.8 0 1 0 -11.6 0M285.5 914.7a5.8 5.8 0 1 0 11.6 0a5.8 5.8 0 1 0 -11.6 0M288.44 915.23a5.8 5.8 0 1 0 11.6 0a5.8 5.8 0 1 0 -11.6 0M291.23 915.73a5.8 5.8 0 1 0 11.6 0a5.8 5.8 0 1 0 -11.6 0M293.9 916.22a5.8 5.8 0 1 0 11.6 0a5.8 5.8 0 1 0 -11.6 0M296.45 916.68a5.8 5.8 0 1 0 11.6 0a5.8 5.8 0 1 0 -11.6 0M298.89 917.12a5.8 5.8 0 1 0 11.6 0a5.8 5.8 0 1 0 -11.6 0M301.23 917.54a5.8 5.8 0 1 0 11.6 0a5.8 5.8 0 1 0 -11.6 0M303.48 917.94a5.8 5.8 0 1 0 11.6 0a5.8 5.8 0 1 0 -11.6 0M305.64 918.34a5.8 5.8 0 1 0 11.6 0a5.8 5.8 0 1 0 -11.6 0M307.72 918.71a5.8 5.8 0 1 0 11.6 0a5.8 5.8 0 1 0 -11.6 0M309.74 919.08a5.8 5.8 0 1 0 11.6 0a5.8 5.8 0 1 0 -11.6 0M311.68 919.43a5.8 5.8 0 1 0 11.6 0a5.8 5.8 0 1 0 -11.6 0M313.56 919.77a5.8 5.8 0 1 0 11.6 0a5.8 5.8 0 1 0 -11.6 0M315.38 920.1a5.8 5.8 0 1 0 11.6 0a5.8 5.8 0 1 0 -11.6 0M317.14 920.41a5.8 5.8 0 1 0 11.6 0a5.8 5.8 0 1 0 -11.6 0M318.86 920.72a5.8 5.8 0 1 0 11.6 0a5.8 5.8 0 1 0 -11.6 0M320.52 921.02a5.8 5.8 0 1 0 11.6 0a5.8 5.8 0 1 0 -11.6 0M322.13 921.31a5.8 5.8 0 1 0 11.6 0a5.8 5.8 0 1 0 -11.6 0M323.7 921.6a5.8 5.8 0 1 0 11.6 0a5.8 5.8 0 1 0 -11.6 0M325.23 921.87a5.8 5.8 0 1 0 11.6 0a5.8 5.8 0 1 0 -11.6 0M326.72 922.14a5.8 5.8 0 1 0 11.6 0a5.8 5.8 0 1 0 -11.6 0M328.17 922.41a5.8 5.8 0 1 0 11.6 0a5.8 5.8 0 1 0 -11.6 0M329.59 922.66a5.8 5.8 0 1 0 11.6 0a5.8 5.8 0 1 0 -11.6 0M330.97 922.91a5.8 5.8 0 1 0 11.6 0a5.8 5.8 0 1 0 -11.6 0M332.32 923.15a5.8 5.8 0 1 0 11.6 0a5.8 5.8 0 1 0 -11.6 0M333.64 923.39a5.8 5.8 0 1 0 11.6 0a5.8 5.8 0 1 0 -11.6 0M334.92 923.63a5.8 5.8 0 1 0 11.6 0a5.8 5.8 0 1 0 -11.6 0M336.18 923.85a5.8 5.8 0 1 0 11.6 0a5.8 5.8 0 1 0 -11.6 0M337.42 924.08a5.8 5.8 0 1 0 11.6 0a5.8 5.8 0 1 0 -11.6 0M338.62 924.29a5.8 5.8 0 1 0 11.6 0a5.8 5.8 0 1 0 -11.6 0M339.81 924.51a5.8 5.8 0 1 0 11.6 0a5.8 5.8 0 1 0 -11.6 0M340.96 924.72a5.8 5.8 0 1 0 11.6 0a5.8 5.8 0 1 0 -11.6 0M342.1 924.92a5.8 5.8 0 1 0 11.6 0a5.8 5.8 0 1 0 -11.6 0M343.21 925.12a5.8 5.8 0 1 0 11.6 0a5.8 5.8 0 1 0 -11.6 0M344.3 925.32a5.8 5.8 0 1 0 11.6 0a5.8 5.8 0 1 0 -11.6 0M345.38 925.51a5.8 5.8 0 1 0 11.6 0a5.8 5.8 0 1 0 -11.6 0M346.43 925.7a5.8 5.8 0 1 0 11.6 0a5.8 5.8 0 1 0 -11.6 0M347.46 925.89a5.8 5.8 0 1 0 11.6 0a5.8 5.8 0 1 0 -11.6 0M348.48 926.07a5.8 5.8 0 1 0 11.6 0a5.8 5.8 0 1 0 -11.6 0M349.47 926.25a5.8 5.8 0 1 0 11.6 0a5.8 5.8 0 1 0 -11.6 0M350.45 926.43a5.8 5.8 0 1 0 11.6 0a5.8 5.8 0 1 0 -11.6 0M351.42 926.6a5.8 5.8 0 1 0 11.6 0a5.8 5.8 0 1 0 -11.6 0M352.36 926.78a5.8 5.8 0 1 0 11.6 0a5.8 5.8 0 1 0 -11.6 0M353.3 926.94a5.8 5.8 0 1 0 11.6 0a5.8 5.8 0 1 0 -11.6 0M354.21 927.11a5.8 5.8 0 1 0 11.6 0a5.8 5.8 0 1 0 -11.6 0M355.12 927.27a5.8 5.8 0 1 0 11.6 0a5.8 5.8 0 1 0 -11.6 0M356 927.43a5.8 5.8 0 1 0 11.6 0a5.8 5.8 0 1 0 -11.6 0M356.88 927.59a5.8 5.8 0 1 0 11.6 0a5.8 5.8 0 1 0 -11.6 0M357.74 927.75a5.8 5.8 0 1 0 11.6 0a5.8 5.8 0 1 0 -11.6 0M358.59 927.9a5.8 5.8 0 1 0 11.6 0a5.8 5.8 0 1 0 -11.6 0M359.43 928.05a5.8 5.8 0 1 0 11.6 0a5.8 5.8 0 1 0 -11.6 0M360.25 928.2a5.8 5.8 0 1 0 11.6 0a5.8 5.8 0 1 0 -11.6 0M361.07 928.35a5.8 5.8 0 1 0 11.6 0a5.8 5.8 0 1 0 -11.6 0M361.87 928.49a5.8 5.8 0 1 0 11.6 0a5.8 5.8 0 1 0 -11.6 0M362.66 928.63a5.8 5.8 0 1 0 11.6 0a5.8 5.8 0 1 0 -11.6 0M363.44 928.78a5.8 5.8 0 1 0 11.6 0a5.8 5.8 0 1 0 -11.6 0M364.21 928.91a5.8 5.8 0 1 0 11.6 0a5.8 5.8 0 1 0 -11.6 0M364.97 929.05a5.8 5.8 0 1 0 11.6 0a5.8 5.8 0 1 0 -11.6 0M365.72 929.19a5.8 5.8 0 1 0 11.6 0a5.8 5.8 0 1 0 -11.6 0M366.46 929.32a5.8 5.8 0 1 0 11.6 0a5.8 5.8 0 1 0 -11.6 0M367.19 929.45a5.8 5.8 0 1 0 11.6 0a5.8 5.8 0 1 0 -11.6 0M367.91 929.58a5.8 5.8 0 1 0 11.6 0a5.8 5.8 0 1 0 -11.6 0M368.62 929.71a5.8 5.8 0 1 0 11.6 0a5.8 5.8 0 1 0 -11.6 0M369.32 929.84a5.8 5.8 0 1 0 11.6 0a5.8 5.8 0 1 0 -11.6 0M370.02 929.96a5.8 5.8 0 1 0 11.6 0a5.8 5.8 0 1 0 -11.6 0M370.7 930.09a5.8 5.8 0 1 0 11.6 0a5.8 5.8 0 1 0 -11.6 0M371.38 930.21a5.8 5.8 0 1 0 11.6 0a5.8 5.8 0 1 0 -11.6 0M372.05 930.33a5.8 5.8 0 1 0 11.6 0a5.8 5.8 0 1 0 -11.6 0M372.72 930.45a5.8 5.8 0 1 0 11.6 0a5.8 5.8 0 1 0 -11.6 0M373.37 930.57a5.8 5.8 0 1 0 11.6 0a5.8 5.8 0 1 0 -11.6 0M374.02 930.69a5.8 5.8 0 1 0 11.6 0a5.8 5.8 0 1 0 -11.6 0M374.66 930.8a5.8 5.8 0 1 0 11.6 0a5.8 5.8 0 1 0 -11.6 0M375.29 930.92a5.8 5.8 0 1 0 11.6 0a5.8 5.8 0 1 0 -11.6 0M375.92 931.03a5.8 5.8 0 1 0 11.6 0a5.8 5.8 0 1 0 -11.6 0M376.54 931.14a5.8 5.8 0 1 0 11.6 0a5.8 5.8 0 1 0 -11.6 0M377.15 931.25a5.8 5.8 0 1 0 11.6 0a5.8 5.8 0 1 0 -11.6 0M377.76 931.36a5.8 5.8 0 1 0 11.6 0a5.8 5.8 0 1 0 -11.6 0M378.36 931.47a5.8 5.8 0 1 0 11.6 0a5.8 5.8 0 1 0 -11.6 0M378.95 931.58a5.8 5.8 0 1 0 11.6 0a5.8 5.8 0 1 0 -11.6 0M379.54 931.68a5.8 5.8 0 1 0 11.6 0a5.8 5.8 0 1 0 -11.6 0M380.12 931.79a5.8 5.8 0 1 0 11.6 0a5.8 5.8 0 1 0 -11.6 0M380.7 931.89a5.8 5.8 0 1 0 11.6 0a5.8 5.8 0 1 0 -11.6 0M381.27 932a5.8 5.8 0 1 0 11.6 0a5.8 5.8 0 1 0 -11.6 0M381.84 932.1a5.8 5.8 0 1 0 11.6 0a5.8 5.8 0 1 0 -11.6 0M382.39 932.2a5.8 5.8 0 1 0 11.6 0a5.8 5.8 0 1 0 -11.6 0M382.95 932.3a5.8 5.8 0 1 0 11.6 0a5.8 5.8 0 1 0 -11.6 0M383.5 932.4a5.8 5.8 0 1 0 11.6 0a5.8 5.8 0 1 0 -11.6 0M384.04 932.5a5.8 5.8 0 1 0 11.6 0a5.8 5.8 0 1 0 -11.6 0M384.58 932.59a5.8 5.8 0 1 0 11.6 0a5.8 5.8 0 1 0 -11.6 0M385.11 932.69a5.8 5.8 0 1 0 11.6 0a5.8 5.8 0 1 0 -11.6 0M385.64 932.79a5.8 5.8 0 1 0 11.6 0a5.8 5.8 0 1 0 -11.6 0M386.16 932.88a5.8 5.8 0 1 0 11.6 0a5.8 5.8 0 1 0 -11.6 0M386.68 932.97a5.8 5.8 0 1 0 11.6 0a5.8 5.8 0 1 0 -11.6 0M387.2 933.07a5.8 5.8 0 1 0 11.6 0a5.8 5.8 0 1 0 -11.6 0M387.71 933.16a5.8 5.8 0 1 0 11.6 0a5.8 5.8 0 1 0 -11.6 0M388.21 933.25a5.8 5.8 0 1 0 11.6 0a5.8 5.8 0 1 0 -11.6 0M388.71 933.34a5.8 5.8 0 1 0 11.6 0a5.8 5.8 0 1 0 -11.6 0M389.21 933.43a5.8 5.8 0 1 0 11.6 0a5.8 5.8 0 1 0 -11.6 0M389.7 933.52a5.8 5.8 0 1 0 11.6 0a5.8 5.8 0 1 0 -11.6 0M390.19 933.61a5.8 5.8 0 1 0 11.6 0a5.8 5.8 0 1 0 -11.6 0M390.67 933.69a5.8 5.8 0 1 0 11.6 0a5.8 5.8 0 1 0 -11.6 0M391.15 933.78a5.8 5.8 0 1 0 11.6 0a5.8 5.8 0 1 0 -11.6 0M391.63 933.87a5.8 5.8 0 1 0 11.6 0a5.8 5.8 0 1 0 -11.6 0M392.1 933.95a5.8 5.8 0 1 0 11.6 0a5.8 5.8 0 1 0 -11.6 0M392.57 934.04a5.8 5.8 0 1 0 11.6 0a5.8 5.8 0 1 0 -11.6 0M393.03 934.12a5.8 5.8 0 1 0 11.6 0a5.8 5.8 0 1 0 -11.6 0M393.49 934.2a5.8 5.8 0 1 0 11.6 0a5.8 5.8 0 1 0 -11.6 0M393.95 934.29a5.8 5.8 0 1 0 11.6 0a5.8 5.8 0 1 0 -11.6 0M394.4 934.37a5.8 5.8 0 1 0 11.6 0a5.8 5.8 0 1 0 -11.6 0M394.85 934.45a5.8 5.8 0 1 0 11.6 0a5.8 5.8 0 1 0 -11.6 0M395.3 934.53a5.8 5.8 0 1 0 11.6 0a5.8 5.8 0 1 0 -11.6 0M396.18 934.69a5.8 5.8 0 1 0 11.6 0a5.8 5.8 0 1 0 -11.6 0M397.05 934.85a5.8 5.8 0 1 0 11.6 0a5.8 5.8 0 1 0 -11.6 0M397.9 935a5.8 5.8 0 1 0 11.6 0a5.8 5.8 0 1 0 -11.6 0M398.75 935.15a5.8 5.8 0 1 0 11.6 0a5.8 5.8 0 1 0 -11.6 0M399.58 935.3a5.8 5.8 0 1 0 11.6 0a5.8 5.8 0 1 0 -11.6 0M400.4 935.45a5.8 5.8 0 1 0 11.6 0a5.8 5.8 0 1 0 -11.6 0M401.2 935.6a5.8 5.8 0 1 0 11.6 0a5.8 5.8 0 1 0 -11.6 0M402 935.74a5.8 5.8 0 1 0 11.6 0a5.8 5.8 0 1 0 -11.6 0M402.79 935.88a5.8 5.8 0 1 0 11.6 0a5.8 5.8 0 1 0 -11.6 0M403.56 936.02a5.8 5.8 0 1 0 11.6 0a5.8 5.8 0 1 0 -11.6 0M404.32 936.16a5.8 5.8 0 1 0 11.6 0a5.8 5.8 0 1 0 -11.6 0M405.08 936.3a5.8 5.8 0 1 0 11.6 0a5.8 5.8 0 1 0 -11.6 0M405.82 936.43a5.8 5.8 0 1 0 11.6 0a5.8 5.8 0 1 0 -11.6 0M406.56 936.56a5.8 5.8 0 1 0 11.6 0a5.8 5.8 0 1 0 -11.6 0M407.28 936.7a5.8 5.8 0 1 0 11.6 0a5.8 5.8 0 1 0 -11.6 0M408 936.82a5.8 5.8 0 1 0 11.6 0a5.8 5.8 0 1 0 -11.6 0M408.71 936.95a5.8 5.8 0 1 0 11.6 0a5.8 5.8 0 1 0 -11.6 0M409.41 937.08a5.8 5.8 0 1 0 11.6 0a5.8 5.8 0 1 0 -11.6 0M410.1 937.2a5.8 5.8 0 1 0 11.6 0a5.8 5.8 0 1 0 -11.6 0M410.78 937.33a5.8 5.8 0 1 0 11.6 0a5.8 5.8 0 1 0 -11.6 0M411.46 937.45a5.8 5.8 0 1 0 11.6 0a5.8 5.8 0 1 0 -11.6 0M412.12 937.57a5.8 5.8 0 1 0 11.6 0a5.8 5.8 0 1 0 -11.6 0M412.78 937.69a5.8 5.8 0 1 0 11.6 0a5.8 5.8 0 1 0 -11.6 0M413.43 937.81a5.8 5.8 0 1 0 11.6 0a5.8 5.8 0 1 0 -11.6 0M414.08 937.92a5.8 5.8 0 1 0 11.6 0a5.8 5.8 0 1 0 -11.6 0M414.71 938.04a5.8 5.8 0 1 0 11.6 0a5.8 5.8 0 1 0 -11.6 0M415.34 938.15a5.8 5.8 0 1 0 11.6 0a5.8 5.8 0 1 0 -11.6 0M415.97 938.26a5.8 5.8 0 1 0 11.6 0a5.8 5.8 0 1 0 -11.6 0M416.58 938.37a5.8 5.8 0 1 0 11.6 0a5.8 5.8 0 1 0 -11.6 0M417.19 938.49a5.8 5.8 0 1 0 11.6 0a5.8 5.8 0 1 0 -11.6 0M417.8 938.59a5.8 5.8 0 1 0 11.6 0a5.8 5.8 0 1 0 -11.6 0M418.39 938.7a5.8 5.8 0 1 0 11.6 0a5.8 5.8 0 1 0 -11.6 0M418.98 938.81a5.8 5.8 0 1 0 11.6 0a5.8 5.8 0 1 0 -11.6 0M419.57 938.91a5.8 5.8 0 1 0 11.6 0a5.8 5.8 0 1 0 -11.6 0M420.15 939.02a5.8 5.8 0 1 0 11.6 0a5.8 5.8 0 1 0 -11.6 0M420.72 939.12a5.8 5.8 0 1 0 11.6 0a5.8 5.8 0 1 0 -11.6 0M421.29 939.22a5.8 5.8 0 1 0 11.6 0a5.8 5.8 0 1 0 -11.6 0M421.85 939.33a5.8 5.8 0 1 0 11.6 0a5.8 5.8 0 1 0 -11.6 0M422.41 939.43a5.8 5.8 0 1 0 11.6 0a5.8 5.8 0 1 0 -11.6 0M422.96 939.53a5.8 5.8 0 1 0 11.6 0a5.8 5.8 0 1 0 -11.6 0M423.51 939.63a5.8 5.8 0 1 0 11.6 0a5.8 5.8 0 1 0 -11.6 0M424.05 939.72a5.8 5.8 0 1 0 11.6 0a5.8 5.8 0 1 0 -11.6 0M424.58 939.82a5.8 5.8 0 1 0 11.6 0a5.8 5.8 0 1 0 -11.6 0M425.11 939.92a5.8 5.8 0 1 0 11.6 0a5.8 5.8 0 1 0 -11.6 0M425.64 940.01a5.8 5.8 0 1 0 11.6 0a5.8 5.8 0 1 0 -11.6 0M426.16 940.1a5.8 5.8 0 1 0 11.6 0a5.8 5.8 0 1 0 -11.6 0M426.68 940.2a5.8 5.8 0 1 0 11.6 0a5.8 5.8 0 1 0 -11.6 0M427.19 940.29a5.8 5.8 0 1 0 11.6 0a5.8 5.8 0 1 0 -11.6 0M427.7 940.38a5.8 5.8 0 1 0 11.6 0a5.8 5.8 0 1 0 -11.6 0M428.2 940.47a5.8 5.8 0 1 0 11.6 0a5.8 5.8 0 1 0 -11.6 0M428.7 940.56a5.8 5.8 0 1 0 11.6 0a5.8 5.8 0 1 0 -11.6 0M429.19 940.65a5.8 5.8 0 1 0 11.6 0a5.8 5.8 0 1 0 -11.6 0M429.68 940.74a5.8 5.8 0 1 0 11.6 0a5.8 5.8 0 1 0 -11.6 0M430.17 940.83a5.8 5.8 0 1 0 11.6 0a5.8 5.8 0 1 0 -11.6 0M430.65 940.92a5.8 5.8 0 1 0 11.6 0a5.8 5.8 0 1 0 -11.6 0M431.13 941a5.8 5.8 0 1 0 11.6 0a5.8 5.8 0 1 0 -11.6 0M431.6 941.09a5.8 5.8 0 1 0 11.6 0a5.8 5.8 0 1 0 -11.6 0M432.07 941.17a5.8 5.8 0 1 0 11.6 0a5.8 5.8 0 1 0 -11.6 0M432.54 941.26a5.8 5.8 0 1 0 11.6 0a5.8 5.8 0 1 0 -11.6 0M433 941.34a5.8 5.8 0 1 0 11.6 0a5.8 5.8 0 1 0 -11.6 0M433.46 941.42a5.8 5.8 0 1 0 11.6 0a5.8 5.8 0 1 0 -11.6 0M433.91 941.5a5.8 5.8 0 1 0 11.6 0a5.8 5.8 0 1 0 -11.6 0M434.36 941.59a5.8 5.8 0 1 0 11.6 0a5.8 5.8 0 1 0 -11.6 0M434.81 941.67a5.8 5.8 0 1 0 11.6 0a5.8 5.8 0 1 0 -11.6 0M435.26 941.75a5.8 5.8 0 1 0 11.6 0a5.8 5.8 0 1 0 -11.6 0M435.92 941.87a5.8 5.8 0 1 0 11.6 0a5.8 5.8 0 1 0 -11.6 0M436.57 941.98a5.8 5.8 0 1 0 11.6 0a5.8 5.8 0 1 0 -11.6 0M437.21 942.1a5.8 5.8 0 1 0 11.6 0a5.8 5.8 0 1 0 -11.6 0M437.85 942.22a5.8 5.8 0 1 0 11.6 0a5.8 5.8 0 1 0 -11.6 0M438.48 942.33a5.8 5.8 0 1 0 11.6 0a5.8 5.8 0 1 0 -11.6 0M439.11 942.44a5.8 5.8 0 1 0 11.6 0a5.8 5.8 0 1 0 -11.6 0M439.72 942.55a5.8 5.8 0 1 0 11.6 0a5.8 5.8 0 1 0 -11.6 0M440.34 942.67a5.8 5.8 0 1 0 11.6 0a5.8 5.8 0 1 0 -11.6 0M440.94 942.77a5.8 5.8 0 1 0 11.6 0a5.8 5.8 0 1 0 -11.6 0M441.54 942.88a5.8 5.8 0 1 0 11.6 0a5.8 5.8 0 1 0 -11.6 0M442.13 942.99a5.8 5.8 0 1 0 11.6 0a5.8 5.8 0 1 0 -11.6 0M442.72 943.1a5.8 5.8 0 1 0 11.6 0a5.8 5.8 0 1 0 -11.6 0M443.3 943.2a5.8 5.8 0 1 0 11.6 0a5.8 5.8 0 1 0 -11.6 0M443.87 943.3a5.8 5.8 0 1 0 11.6 0a5.8 5.8 0 1 0 -11.6 0M444.44 943.41a5.8 5.8 0 1 0 11.6 0a5.8 5.8 0 1 0 -11.6 0M445 943.51a5.8 5.8 0 1 0 11.6 0a5.8 5.8 0 1 0 -11.6 0M445.56 943.61a5.8 5.8 0 1 0 11.6 0a5.8 5.8 0 1 0 -11.6 0M446.11 943.71a5.8 5.8 0 1 0 11.6 0a5.8 5.8 0 1 0 -11.6 0M446.66 943.81a5.8 5.8 0 1 0 11.6 0a5.8 5.8 0 1 0 -11.6 0M447.2 943.91a5.8 5.8 0 1 0 11.6 0a5.8 5.8 0 1 0 -11.6 0M447.74 944a5.8 5.8 0 1 0 11.6 0a5.8 5.8 0 1 0 -11.6 0M448.27 944.1a5.8 5.8 0 1 0 11.6 0a5.8 5.8 0 1 0 -11.6 0M448.8 944.19a5.8 5.8 0 1 0 11.6 0a5.8 5.8 0 1 0 -11.6 0M449.32 944.29a5.8 5.8 0 1 0 11.6 0a5.8 5.8 0 1 0 -11.6 0M449.83 944.39a5.8 5.8 0 1 0 11.6 0a5.8 5.8 0 1 0 -11.6 0M450.35 944.51a5.8 5.8 0 1 0 11.6 0a5.8 5.8 0 1 0 -11.6 0M450.86 944.65a5.8 5.8 0 1 0 11.6 0a5.8 5.8 0 1 0 -11.6 0M451.36 944.82a5.8 5.8 0 1 0 11.6 0a5.8 5.8 0 1 0 -11.6 0M451.86 945.02a5.8 5.8 0 1 0 11.6 0a5.8 5.8 0 1 0 -11.6 0M452.35 945.25a5.8 5.8 0 1 0 11.6 0a5.8 5.8 0 1 0 -11.6 0M452.84 945.52a5.8 5.8 0 1 0 11.6 0a5.8 5.8 0 1 0 -11.6 0M453.33 945.84a5.8 5.8 0 1 0 11.6 0a5.8 5.8 0 1 0 -11.6 0M453.81 946.2a5.8 5.8 0 1 0 11.6 0a5.8 5.8 0 1 0 -11.6 0M454.29 946.6a5.8 5.8 0 1 0 11.6 0a5.8 5.8 0 1 0 -11.6 0M454.77 947.05a5.8 5.8 0 1 0 11.6 0a5.8 5.8 0 1 0 -11.6 0M455.08 947.38a5.8 5.8 0 1 0 11.6 0a5.8 5.8 0 1 0 -11.6 0M455.39 947.74a5.8 5.8 0 1 0 11.6 0a5.8 5.8 0 1 0 -11.6 0M455.7 948.12a5.8 5.8 0 1 0 11.6 0a5.8 5.8 0 1 0 -11.6 0M456.01 948.52a5.8 5.8 0 1 0 11.6 0a5.8 5.8 0 1 0 -11.6 0M456.32 948.95a5.8 5.8 0 1 0 11.6 0a5.8 5.8 0 1 0 -11.6 0M456.62 949.4a5.8 5.8 0 1 0 11.6 0a5.8 5.8 0 1 0 -11.6 0M456.93 949.88a5.8 5.8 0 1 0 11.6 0a5.8 5.8 0 1 0 -11.6 0M457.23 950.39a5.8 5.8 0 1 0 11.6 0a5.8 5.8 0 1 0 -11.6 0M457.53 950.93a5.8 5.8 0 1 0 11.6 0a5.8 5.8 0 1 0 -11.6 0M457.83 951.49a5.8 5.8 0 1 0 11.6 0a5.8 5.8 0 1 0 -11.6 0M458.13 952.08a5.8 5.8 0 1 0 11.6 0a5.8 5.8 0 1 0 -11.6 0M458.43 952.71a5.8 5.8 0 1 0 11.6 0a5.8 5.8 0 1 0 -11.6 0M458.72 953.36a5.8 5.8 0 1 0 11.6 0a5.8 5.8 0 1 0 -11.6 0M459.01 954.04a5.8 5.8 0 1 0 11.6 0a5.8 5.8 0 1 0 -11.6 0M459.31 954.75a5.8 5.8 0 1 0 11.6 0a5.8 5.8 0 1 0 -11.6 0M459.6 955.5a5.8 5.8 0 1 0 11.6 0a5.8 5.8 0 1 0 -11.6 0M459.88 956.28a5.8 5.8 0 1 0 11.6 0a5.8 5.8 0 1 0 -11.6 0M460.17 957.09a5.8 5.8 0 1 0 11.6 0a5.8 5.8 0 1 0 -11.6 0" fill="none" stroke="#ff0000" stroke-width="2.5" />
<polyline points="122.5,896.71 162.24,896.2 185.48,902.34 201.97,907.49 214.76,911.75 225.22,915.43 234.05,918.73 241.71,921.74 248.46,924.53 254.5,927.15 259.96,929.63 264.95,932 269.54,934.28 273.79,936.47 277.74,938.6 281.44,940.66 284.92,942.68 288.2,944.65 291.3,946.57 294.24,948.46 297.03,950.32 299.7,952.15 302.25,953.95 304.69,955.73 307.03,957.49 309.28,959.22 311.44,960.94 313.52,962.64 315.54,964.33 317.48,966 319.36,967.66 321.18,969.31 322.94,970.94 324.66,972.57 326.32,974.18 327.93,975.79 329.5,977.39 331.03,978.98 332.52,980.56 333.97,982.14 335.39,983.71 336.77,985.27 338.12,986.83 339.44,988.39 340.72,989.93 341.98,991.48 343.22,993.02 344.42,994.56 345.61,996.09 346.76,997.62 347.9,999.15 349.01,1000.67 350.1,1002.19 351.18,1003.71 352.23,1005.22 353.26,1006.74 354.28,1008.25 355.27,1009.76 356.25,1011.27 357.22,1012.77 358.16,1014.28 359.1,1015.78 360.01,1017.29 360.92,1018.79 361.8,1020.29 362.68,1021.79 363.54,1023.29 364.39,1024.79 365.23,1026.28 366.05,1027.78 366.87,1029.28 367.67,1030.77 368.46,1032.27 369.24,1033.77 370.01,1035.26 370.77,1036.76 371.52,1038.25 372.26,1039.75 372.99,1041.25 373.71,1042.74 374.42,1044.24 375.12,1045.74 375.82,1047.24 376.5,1048.73 377.18,1050.23 377.85,1051.73 378.52,1053.23 379.17,1054.73 379.82,1056.23 380.46,1057.73 381.09,1059.23 381.72,1060.74 382.34,1062.24 382.95,1063.74 383.56,1065.25 384.16,1066.76 384.75,1068.26 385.34,1069.77 385.92,1071.28 386.5,1072.79 387.07,1074.3 387.64,1075.81 388.19,1077.33 388.75,1078.84 389.3,1080.36 389.84,1081.88 390.38,1083.39 390.91,1084.91 391.44,1086.43 391.96,1087.95 392.48,1089.48 393,1091 393.51,1092.53 394.01,1094.06 394.51,1095.58 395.01,1097.11 395.5,1098.65 395.99,1100.18 396.47,1101.71 396.95,1103.25 397.43,1104.78 397.9,1106.32 398.37,1107.86 398.83,1109.4 399.29,1110.95 399.75,1112.49 400.2,1114.04 400.65,1115.59 401.1,1117.14 401.54,1118.69 401.98,1120.24 402.42,1121.79 402.85,1123.35 403.28,1124.91 403.7,1126.47 404.13,1128.03 404.55,1129.59 404.96,1131.16 405.38,1132.72 405.79,1134.29 406.2,1135.86 406.6,1137.43 407,1139 407.4,1140.58 407.8,1142.15 408.19,1143.73 408.59,1145.31 408.97,1146.9 409.36,1148.48 409.74,1150.06 410.12,1151.65 410.5,1153.24 410.88,1154.83 411.25,1156.43 411.62,1158.02 411.99,1159.62 412.36,1161.22 412.72,1162.82 413.08,1164.42 413.44,1166.02 413.8,1167.63 414.16,1169.24 414.51,1170.85 414.86,1172.46 415.21,1174.07 415.55,1175.69 415.9,1177.31 416.24,1178.93 416.58,1180.55 416.92,1182.17 417.26,1183.8 417.59,1185.42 417.92,1187.05 418.25,1188.68 418.58,1190.32 418.91,1191.95 419.23,1193.59 419.56,1195.23 419.88,1196.87 420.2,1198.51 420.51,1200.16 420.83,1201.81 421.14,1203.46 421.46,1205.11 421.77,1206.76 422.08,1208.42 422.38,1210.08 422.69,1211.74 422.99,1213.4 423.3,1215.06 423.6,1216.73 423.9,1218.39 424.19,1220.06 424.49,1221.74 424.78,1223.41 425.08,1225.09 425.37,1226.77 425.66,1228.45 425.95,1230.13 426.24,1231.81 426.52,1233.5 426.81,1235.19 427.09,1236.88 427.37,1238.57 427.65,1240.27 427.93,1241.96 428.21,1243.66 428.48,1245.37 428.76,1247.07 429.03,1248.77 429.31,1250.48 429.58,1252.19 429.85,1253.9 430.11,1255.62 430.38,1257.34 430.65,1259.05 430.91,1260.77 431.18,1262.5 431.44,1264.22 431.7,1265.95 431.96,1267.68 432.22,1269.41 432.48,1271.14 432.73,1272.88 432.99,1274.62 433.24,1276.36 433.5,1278.1 433.75,1279.84 434,1281.59 434.25,1283.34 434.5,1285.09 434.74,1286.84 434.99,1288.6 435.24,1290.36 435.48,1292.12 435.72,1293.88 435.97,1295.64 436.21,1297.41 436.45,1299.18 436.69,1300.95 436.93,1302.72 437.16,1304.5 437.4,1306.27 437.64,1308.05 437.87,1309.84 438.1,1311.62 438.34,1313.41 438.57,1315.19 438.8,1316.99 439.03,1318.78 439.26,1320.57 439.48,1322.37 439.71,1324.17 439.94,1325.97 440.16,1327.78 440.39,1329.58 440.61,1331.39 440.83,1333.2 441.06,1335.02 441.28,1336.83 441.5,1338.65 441.72,1340.47 441.93,1342.29 442.15,1344.11 442.37,1345.94 442.58,1347.77 442.8,1349.6 443.01,1351.43 443.23,1353.27 443.44,1355.11 443.65,1356.95 443.86,1358.79 444.07,1360.63 444.28,1362.48 444.49,1364.33 444.7,1366.18 444.91,1368.03 445.11,1369.89 445.32,1371.75 445.52,1373.61 445.73,1375.47 445.93,1377.34 446.14,1379.2 446.34,1381.07 446.54,1382.94 446.74,1384.82 446.94,1386.69 447.14,1388.57 447.34,1390.45 447.54,1392.34 447.73,1394.22 447.93,1396.11 448.13,1398 448.32,1399.89 448.52,1401.79 448.71,1403.68 448.9,1405.58 449.1,1407.48 449.29,1409.39 449.48,1411.29 449.67,1413.2 449.86,1415.11 450.05,1417.03 450.24,1418.94 450.43,1420.86 450.62,1422.78 450.8,1424.7 450.99,1426.62 451.17,1428.55 451.36,1430.48 451.54,1432.41 451.73,1434.34 451.91,1436.28 452.09,1438.22 452.28,1440.16 452.46,1442.1 452.64,1444.05 452.82,1445.99 453,1447.94 453.18,1449.9 453.36,1451.85 453.54,1453.81 453.71,1455.77 453.89,1457.73 454.07,1459.69 454.24,1461.66 454.42,1463.63 454.6,1465.6 454.77,1467.57 454.94,1469.54 455.12,1471.52 455.29,1473.5 455.46,1475.48 455.63,1477.47 455.81,1479.45 455.98,1481.44 456.15,1483.44 456.32,1485.43 456.49,1487.42 456.66,1489.42 456.82,1491.42 456.99,1493.43 457.16,1495.43 457.33,1497.44 457.49,1499.45 457.66,1501.46 457.82,1503.48 457.99,1505.49 458.15,1507.51 458.32,1509.54 458.48,1511.56 458.64,1513.59 458.81,1515.61 458.97,1517.65 459.13,1519.68 459.29,1521.71 459.45,1523.75 459.61,1525.79 459.77,1527.84 459.93,1529.88 460.09,1531.93 460.25,1533.98 460.41,1536.03 460.57,1538.08 460.72,1540.14 460.88,1542.2 461.04,1544.26 461.19,1546.33 461.35,1548.39 461.5,1550.46 461.66,1552.53 461.81,1554.6 461.97,1556.68 462.12,1558.76 462.27,1560.84 462.42,1562.92 462.58,1565.01 462.73,1567.09 462.88,1569.18 463.03,1571.27 463.18,1573.37 463.33,1575.47 463.48,1577.56 463.63,1579.67 463.78,1581.77 463.93,1583.88 464.08,1585.98 464.23,1588.09 464.37,1590.21 464.52,1592.32 464.67,1594.44 464.81,1596.56 464.96,1598.68 465.11,1600.81 465.25,1602.94 465.4,1605.07 465.54,1607.2 465.68,1609.33 465.83,1611.47 465.97,1613.61" fill="none" stroke="#0000ff" stroke-width="2.4" stroke-linejoin="round" clip-path="url(#clipe)"/>
<path d="M118 892.21l9 9M118 901.21l9 -9M157.74 891.7l9 9M157.74 900.7l9 -9M180.98 897.84l9 9M180.98 906.84l9 -9M197.47 902.99l9 9M197.47 911.99l9 -9M210.26 907.25l9 9M210.26 916.25l9 -9M220.72 910.93l9 9M220.72 919.93l9 -9M229.55 914.23l9 9M229.55 923.23l9 -9M237.21 917.24l9 9M237.21 926.24l9 -9M243.96 920.03l9 9M243.96 929.03l9 -9M250 922.65l9 9M250 931.65l9 -9M255.46 925.13l9 9M255.46 934.13l9 -9M260.45 927.5l9 9M260.45 936.5l9 -9M265.04 929.78l9 9M265.04 938.78l9 -9M269.29 931.97l9 9M269.29 940.97l9 -9M273.24 934.1l9 9M273.24 943.1l9 -9M276.94 936.16l9 9M276.94 945.16l9 -9M280.42 938.18l9 9M280.42 947.18l9 -9M283.7 940.15l9 9M283.7 949.15l9 -9M286.8 942.07l9 9M286.8 951.07l9 -9M289.74 943.96l9 9M289.74 952.96l9 -9M292.53 945.82l9 9M292.53 954.82l9 -9M295.2 947.65l9 9M295.2 956.65l9 -9M297.75 949.45l9 9M297.75 958.45l9 -9M300.19 951.23l9 9M300.19 960.23l9 -9M302.53 952.99l9 9M302.53 961.99l9 -9M304.78 954.72l9 9M304.78 963.72l9 -9M306.94 956.44l9 9M306.94 965.44l9 -9M309.02 958.14l9 9M309.02 967.14l9 -9M311.04 959.83l9 9M311.04 968.83l9 -9M312.98 961.5l9 9M312.98 970.5l9 -9M314.86 963.16l9 9M314.86 972.16l9 -9M316.68 964.81l9 9M316.68 973.81l9 -9M318.44 966.44l9 9M318.44 975.44l9 -9M320.16 968.07l9 9M320.16 977.07l9 -9M321.82 969.68l9 9M321.82 978.68l9 -9M323.43 971.29l9 9M323.43 980.29l9 -9M325 972.89l9 9M325 981.89l9 -9M326.53 974.48l9 9M326.53 983.48l9 -9M328.02 976.06l9 9M328.02 985.06l9 -9M329.47 977.64l9 9M329.47 986.64l9 -9M330.89 979.21l9 9M330.89 988.21l9 -9M332.27 980.77l9 9M332.27 989.77l9 -9M333.62 982.33l9 9M333.62 991.33l9 -9M334.94 983.89l9 9M334.94 992.89l9 -9M336.22 985.43l9 9M336.22 994.43l9 -9M337.48 986.98l9 9M337.48 995.98l9 -9M338.72 988.52l9 9M338.72 997.52l9 -9M339.92 990.06l9 9M339.92 999.06l9 -9M341.11 991.59l9 9M341.11 1000.59l9 -9M342.26 993.12l9 9M342.26 1002.12l9 -9M343.4 994.65l9 9M343.4 1003.65l9 -9M344.51 996.17l9 9M344.51 1005.17l9 -9M345.6 997.69l9 9M345.6 1006.69l9 -9M346.68 999.21l9 9M346.68 1008.21l9 -9M347.73 1000.72l9 9M347.73 1009.72l9 -9M348.76 1002.24l9 9M348.76 1011.24l9 -9M349.78 1003.75l9 9M349.78 1012.75l9 -9M350.77 1005.26l9 9M350.77 1014.26l9 -9M351.75 1006.77l9 9M351.75 1015.77l9 -9M352.72 1008.27l9 9M352.72 1017.27l9 -9M353.66 1009.78l9 9M353.66 1018.78l9 -9M354.6 1011.28l9 9M354.6 1020.28l9 -9M355.51 1012.79l9 9M355.51 1021.79l9 -9M356.42 1014.29l9 9M356.42 1023.29l9 -9M357.3 1015.79l9 9M357.3 1024.79l9 -9M358.18 1017.29l9 9M358.18 1026.29l9 -9M359.04 1018.79l9 9M359.04 1027.79l9 -9M359.89 1020.29l9 9M359.89 1029.29l9 -9M360.73 1021.78l9 9M360.73 1030.78l9 -9M361.55 1023.28l9 9M361.55 1032.28l9 -9M362.37 1024.78l9 9M362.37 1033.78l9 -9M363.17 1026.27l9 9M363.17 1035.27l9 -9M363.96 1027.77l9 9M363.96 1036.77l9 -9M364.74 1029.27l9 9M364.74 1038.27l9 -9M365.51 1030.76l9 9M365.51 1039.76l9 -9M366.27 1032.26l9 9M366.27 1041.26l9 -9M367.02 1033.75l9 9M367.02 1042.75l9 -9M367.76 1035.25l9 9M367.76 1044.25l9 -9M368.49 1036.75l9 9M368.49 1045.75l9 -9M369.21 1038.24l9 9M369.21 1047.24l9 -9M369.92 1039.74l9 9M369.92 1048.74l9 -9M370.62 1041.24l9 9M370.62 1050.24l9 -9M371.32 1042.74l9 9M371.32 1051.74l9 -9M372 1044.23l9 9M372 1053.23l9 -9M372.68 1045.73l9 9M372.68 1054.73l9 -9M373.35 1047.23l9 9M373.35 1056.23l9 -9M374.02 1048.73l9 9M374.02 1057.73l9 -9M374.67 1050.23l9 9M374.67 1059.23l9 -9M375.32 1051.73l9 9M375.32 1060.73l9 -9M375.96 1053.23l9 9M375.96 1062.23l9 -9M376.59 1054.73l9 9M376.59 1063.73l9 -9M377.22 1056.24l9 9M377.22 1065.24l9 -9M377.84 1057.74l9 9M377.84 1066.74l9 -9M378.45 1059.24l9 9M378.45 1068.24l9 -9M379.06 1060.75l9 9M379.06 1069.75l9 -9M379.66 1062.26l9 9M379.66 1071.26l9 -9M380.25 1063.76l9 9M380.25 1072.76l9 -9M380.84 1065.27l9 9M380.84 1074.27l9 -9M381.42 1066.78l9 9M381.42 1075.78l9 -9M382 1068.29l9 9M382 1077.29l9 -9M382.57 1069.8l9 9M382.57 1078.8l9 -9M383.14 1071.31l9 9M383.14 1080.31l9 -9M383.69 1072.83l9 9M383.69 1081.83l9 -9M384.25 1074.34l9 9M384.25 1083.34l9 -9M384.8 1075.86l9 9M384.8 1084.86l9 -9M385.34 1077.38l9 9M385.34 1086.38l9 -9M385.88 1078.89l9 9M385.88 1087.89l9 -9M386.41 1080.41l9 9M386.41 1089.41l9 -9M386.94 1081.93l9 9M386.94 1090.93l9 -9M387.46 1083.45l9 9M387.46 1092.45l9 -9M387.98 1084.98l9 9M387.98 1093.98l9 -9M388.5 1086.5l9 9M388.5 1095.5l9 -9M389.01 1088.03l9 9M389.01 1097.03l9 -9M389.51 1089.56l9 9M389.51 1098.56l9 -9M390.01 1091.08l9 9M390.01 1100.08l9 -9M390.51 1092.61l9 9M390.51 1101.61l9 -9M391 1094.15l9 9M391 1103.15l9 -9M391.49 1095.68l9 9M391.49 1104.68l9 -9M391.97 1097.21l9 9M391.97 1106.21l9 -9M392.45 1098.75l9 9M392.45 1107.75l9 -9M392.93 1100.28l9 9M392.93 1109.28l9 -9M393.4 1101.82l9 9M393.4 1110.82l9 -9M393.87 1103.36l9 9M393.87 1112.36l9 -9M394.33 1104.9l9 9M394.33 1113.9l9 -9M394.79 1106.45l9 9M394.79 1115.45l9 -9M395.25 1107.99l9 9M395.25 1116.99l9 -9M395.7 1109.54l9 9M395.7 1118.54l9 -9M396.15 1111.09l9 9M396.15 1120.09l9 -9M396.6 1112.64l9 9M396.6 1121.64l9 -9M397.04 1114.19l9 9M397.04 1123.19l9 -9M397.48 1115.74l9 9M397.48 1124.74l9 -9M397.92 1117.29l9 9M397.92 1126.29l9 -9M398.35 1118.85l9 9M398.35 1127.85l9 -9M398.78 1120.41l9 9M398.78 1129.41l9 -9M399.2 1121.97l9 9M399.2 1130.97l9 -9M399.63 1123.53l9 9M399.63 1132.53l9 -9M400.05 1125.09l9 9M400.05 1134.09l9 -9M400.46 1126.66l9 9M400.46 1135.66l9 -9M400.88 1128.22l9 9M400.88 1137.22l9 -9M401.29 1129.79l9 9M401.29 1138.79l9 -9M401.7 1131.36l9 9M401.7 1140.36l9 -9M402.1 1132.93l9 9M402.1 1141.93l9 -9M402.5 1134.5l9 9M402.5 1143.5l9 -9M402.9 1136.08l9 9M402.9 1145.08l9 -9M403.3 1137.65l9 9M403.3 1146.65l9 -9M403.69 1139.23l9 9M403.69 1148.23l9 -9M404.09 1140.81l9 9M404.09 1149.81l9 -9M404.47 1142.4l9 9M404.47 1151.4l9 -9M404.86 1143.98l9 9M404.86 1152.98l9 -9M405.24 1145.56l9 9M405.24 1154.56l9 -9M405.62 1147.15l9 9M405.62 1156.15l9 -9M406 1148.74l9 9M406 1157.74l9 -9M406.38 1150.33l9 9M406.38 1159.33l9 -9M406.75 1151.93l9 9M406.75 1160.93l9 -9M407.12 1153.52l9 9M407.12 1162.52l9 -9M407.49 1155.12l9 9M407.49 1164.12l9 -9M407.86 1156.72l9 9M407.86 1165.72l9 -9M408.22 1158.32l9 9M408.22 1167.32l9 -9M408.58 1159.92l9 9M408.58 1168.92l9 -9M408.94 1161.52l9 9M408.94 1170.52l9 -9M409.3 1163.13l9 9M409.3 1172.13l9 -9M409.66 1164.74l9 9M409.66 1173.74l9 -9M410.01 1166.35l9 9M410.01 1175.35l9 -9M410.36 1167.96l9 9M410.36 1176.96l9 -9M410.71 1169.57l9 9M410.71 1178.57l9 -9M411.05 1171.19l9 9M411.05 1180.19l9 -9M411.4 1172.81l9 9M411.4 1181.81l9 -9M411.74 1174.43l9 9M411.74 1183.43l9 -9M412.08 1176.05l9 9M412.08 1185.05l9 -9M412.42 1177.67l9 9M412.42 1186.67l9 -9M412.76 1179.3l9 9M412.76 1188.3l9 -9M413.09 1180.92l9 9M413.09 1189.92l9 -9M413.42 1182.55l9 9M413.42 1191.55l9 -9M413.75 1184.18l9 9M413.75 1193.18l9 -9M414.08 1185.82l9 9M414.08 1194.82l9 -9M414.41 1187.45l9 9M414.41 1196.45l9 -9M414.73 1189.09l9 9M414.73 1198.09l9 -9M415.06 1190.73l9 9M415.06 1199.73l9 -9M415.38 1192.37l9 9M415.38 1201.37l9 -9" fill="none" stroke="#0000ff" stroke-width="2.5" />
<polyline points="122.5,900.18 162.24,900.18 185.48,906.48 201.97,912.86 214.76,918.22 225.22,922.94 234.05,927.22 241.71,931.18 248.46,934.9 254.5,938.44 259.96,941.83 264.95,945.1 269.54,948.28 273.79,951.38 277.74,954.41 281.44,957.39 284.92,960.31 288.2,963.2 291.3,966.06 294.24,968.88 297.03,971.69 299.7,974.47 302.25,977.23 304.69,979.98 307.03,982.72 309.28,985.45 311.44,988.17 313.52,990.88 315.54,993.59 317.48,996.3 319.36,999 321.18,1001.71 322.94,1004.41 324.66,1007.12 326.32,1009.82 327.93,1012.53 329.5,1015.25 331.03,1017.97 332.52,1020.69 333.97,1023.42 335.39,1026.16 336.77,1028.9 338.12,1031.65 339.44,1034.4 340.72,1037.17 341.98,1039.94 343.22,1042.72 344.42,1045.51 345.61,1048.31 346.76,1051.11 347.9,1053.93 349.01,1056.76 350.1,1059.59 351.18,1062.44 352.23,1065.3 353.26,1068.17 354.28,1071.05 355.27,1073.94 356.25,1076.84 357.22,1079.76 358.16,1082.68 359.1,1085.62 360.01,1088.57 360.92,1091.53 361.8,1094.5 362.68,1097.49 363.54,1100.49 364.39,1103.5 365.23,1106.52 366.05,1109.56 366.87,1112.61 367.67,1115.67 368.46,1118.74 369.24,1121.83 370.01,1124.93 370.77,1128.05 371.52,1131.18 372.26,1134.32 372.99,1137.47 373.71,1140.64 374.42,1143.82 375.12,1147.02 375.82,1150.22 376.5,1153.45 377.18,1156.68 377.85,1159.93 378.52,1163.2 379.17,1166.48 379.82,1169.77 380.46,1173.08 381.09,1176.4 381.72,1179.73 382.34,1183.08 382.95,1186.44 383.56,1189.82 384.16,1193.21 384.75,1196.62 385.34,1200.04 385.92,1203.47 386.5,1206.92 387.07,1210.39 387.64,1213.87 388.19,1217.36 388.75,1220.87 389.3,1224.39 389.84,1227.93 390.38,1231.48 390.91,1235.04 391.44,1238.63 391.96,1242.22 392.48,1245.83 393,1249.46 393.51,1253.1 394.01,1256.75 394.51,1260.42 395.01,1264.11 395.5,1267.81 395.99,1271.52 396.47,1275.25 396.95,1279 397.43,1282.76 397.9,1286.53 398.37,1290.32 398.83,1294.12 399.29,1297.94 399.75,1301.78 400.2,1305.63 400.65,1309.49 401.1,1313.37 401.54,1317.27 401.98,1321.18 402.42,1325.11 402.85,1329.05 403.28,1333 403.7,1336.97 404.13,1340.96 404.55,1344.96 404.96,1348.98 405.38,1353.01 405.79,1357.06 406.2,1361.12 406.6,1365.2 407,1369.29 407.4,1373.4 407.8,1377.53 408.19,1381.67 408.59,1385.82 408.97,1389.99 409.36,1394.18 409.74,1398.38 410.12,1402.59 410.5,1406.83 410.88,1411.07 411.25,1415.34 411.62,1419.61 411.99,1423.91 412.36,1428.22 412.72,1432.54 413.08,1436.88 413.44,1441.24 413.8,1445.61 414.16,1449.99 414.51,1454.39 414.86,1458.81 415.21,1463.25 415.55,1467.69 415.9,1472.16 416.24,1476.64 416.58,1481.13 416.92,1485.64 417.26,1490.17 417.59,1494.71 417.92,1499.27 418.25,1503.84 418.58,1508.43 418.91,1513.03 419.23,1517.65 419.56,1522.29 419.88,1526.94 420.2,1531.6 420.51,1536.29 420.83,1540.98 421.14,1545.7 421.46,1550.43 421.77,1555.17 422.08,1559.93 422.38,1564.71 422.69,1569.5 422.99,1574.3 423.3,1579.13 423.6,1583.97 423.9,1588.82 424.19,1593.69 424.49,1598.58 424.78,1603.48 425.08,1608.39 425.37,1613.33 425.66,1618.27 425.95,1623.24 426.24,1628.22 426.52,1633.21 426.81,1638.22 427.09,1643.25 427.37,1648.29 427.65,1653.35 427.93,1658.43 428.21,1663.52 428.48,1668.62 428.76,1673.74 429.03,1678.88 429.31,1684.03 429.58,1689.2 429.85,1694.38 430.11,1699.58 430.38,1704.8 430.65,1710.03 430.91,1715.28 431.18,1720.54 431.44,1725.82 431.7,1731.11 431.96,1736.43 432.22,1741.75 432.48,1747.09 432.73,1752.45 432.99,1757.82 433.24,1763.21 433.5,1768.62 433.75,1774.04 434,1779.48 434.25,1784.93 434.5,1790.4 434.74,1795.88 434.99,1801.38 435.24,1806.9 435.48,1812.43 435.72,1817.98 435.97,1823.54 436.21,1829.12 436.45,1834.71 436.69,1840.32 436.93,1845.95 437.16,1851.59 437.4,1857.25 437.64,1862.93 437.87,1868.62 438.1,1874.32 438.34,1880.04 438.57,1885.78 438.8,1891.53 439.03,1897.3 439.26,1903.09 439.48,1908.89 439.71,1914.71 439.94,1920.54 440.16,1926.39 440.39,1932.25 440.61,1938.13 440.83,1944.03 441.06,1949.94 441.28,1955.87 441.5,1961.81 441.72,1967.77 441.93,1973.75 442.15,1979.74 442.37,1985.74 442.58,1991.77 442.8,1997.81 443.01,2003.86 443.23,2009.93 443.44,2016.02 443.65,2022.12 443.86,2028.24 444.07,2034.37 444.28,2040.52 444.49,2046.69 444.7,2052.87 444.91,2059.07 445.11,2065.28 445.32,2071.51 445.52,2077.76 445.73,2084.02 445.93,2090.3 446.14,2096.59 446.34,2102.9 446.54,2109.23 446.74,2115.57 446.94,2121.93 447.14,2128.3 447.34,2134.69 447.54,2141.09 447.73,2147.51 447.93,2153.95 448.13,2160.4 448.32,2166.87 448.52,2173.35 448.71,2179.86 448.9,2186.37 449.1,2192.9 449.29,2199.45 449.48,2206.02 449.67,2212.6 449.86,2219.19 450.05,2225.8 450.24,2232.43 450.43,2239.08 450.62,2245.74 450.8,2252.41 450.99,2259.1 451.17,2265.81 451.36,2272.53 451.54,2279.27 451.73,2286.03 451.91,2292.8 452.09,2299.59 452.28,2306.39 452.46,2313.21 452.64,2320.05 452.82,2326.9 453,2333.76 453.18,2340.65 453.36,2347.55 453.54,2354.46 453.71,2361.39 453.89,2368.34 454.07,2375.3 454.24,2382.28 454.42,2389.27 454.6,2396.29 454.77,2403.31 454.94,2410.35 455.12,2417.41 455.29,2424.49 455.46,2431.58 455.63,2438.69 455.81,2445.81 455.98,2452.95 456.15,2460.1 456.32,2467.27 456.49,2474.46 456.66,2481.66 456.82,2488.88 456.99,2496.11 457.16,2503.36 457.33,2510.63 457.49,2517.91 457.66,2525.21 457.82,2532.52 457.99,2539.85 458.15,2547.2 458.32,2554.56 458.48,2561.94 458.64,2569.33 458.81,2576.74 458.97,2584.17 459.13,2591.61 459.29,2599.07 459.45,2606.55 459.61,2614.04 459.77,2621.54 459.93,2629.06 460.09,2636.6 460.25,2644.16 460.41,2651.73 460.57,2659.31 460.72,2666.91 460.88,2674.53 461.04,2682.17 461.19,2689.82 461.35,2697.48 461.5,2705.16 461.66,2712.86 461.81,2720.57 461.97,2728.3 462.12,2736.05 462.27,2743.81 462.42,2751.59 462.58,2759.38 462.73,2767.19 462.88,2775.02 463.03,2782.86 463.18,2790.72 463.33,2798.59 463.48,2806.48 463.63,2814.39 463.78,2822.31 463.93,2830.25 464.08,2838.2 464.23,2846.17 464.37,2854.16 464.52,2862.16 464.67,2870.18 464.81,2878.21 464.96,2886.26 465.11,2894.33 465.25,2902.41 465.4,2910.51 465.54,2918.62 465.68,2926.75 465.83,2934.9 465.97,2943.06" fill="none" stroke="#de7d00" stroke-width="2.4" stroke-linejoin="round" clip-path="url(#clipe)"/>
<path d="M122.5 892.18L128.75 900.18L122.5 908.18L116.25 900.18ZM162.24 892.18L168.49 900.18L162.24 908.18L155.99 900.18ZM185.48 898.48L191.73 906.48L185.48 914.48L179.23 906.48ZM201.97 904.86L208.22 912.86L201.97 920.86L195.72 912.86ZM214.76 910.22L221.01 918.22L214.76 926.22L208.51 918.22ZM225.22 914.94L231.47 922.94L225.22 930.94L218.97 922.94ZM234.05 919.22L240.3 927.22L234.05 935.22L227.8 927.22ZM241.71 923.18L247.96 931.18L241.71 939.18L235.46 931.18ZM248.46 926.9L254.71 934.9L248.46 942.9L242.21 934.9ZM254.5 930.44L260.75 938.44L254.5 946.44L248.25 938.44ZM259.96 933.83L266.21 941.83L259.96 949.83L253.71 941.83ZM264.95 937.1L271.2 945.1L264.95 953.1L258.7 945.1ZM269.54 940.28L275.79 948.28L269.54 956.28L263.29 948.28ZM273.79 943.38L280.04 951.38L273.79 959.38L267.54 951.38ZM277.74 946.41L283.99 954.41L277.74 962.41L271.49 954.41ZM281.44 949.39L287.69 957.39L281.44 965.39L275.19 957.39ZM284.92 952.31L291.17 960.31L284.92 968.31L278.67 960.31ZM288.2 955.2L294.45 963.2L288.2 971.2L281.95 963.2ZM291.3 958.06L297.55 966.06L291.3 974.06L285.05 966.06ZM294.24 960.88L300.49 968.88L294.24 976.88L287.99 968.88ZM297.03 963.69L303.28 971.69L297.03 979.69L290.78 971.69ZM299.7 966.47L305.95 974.47L299.7 982.47L293.45 974.47ZM302.25 969.23L308.5 977.23L302.25 985.23L296 977.23ZM304.69 971.98L310.94 979.98L304.69 987.98L298.44 979.98ZM307.03 974.72L313.28 982.72L307.03 990.72L300.78 982.72ZM309.28 977.45L315.53 985.45L309.28 993.45L303.03 985.45ZM311.44 980.17L317.69 988.17L311.44 996.17L305.19 988.17ZM313.52 982.88L319.77 990.88L313.52 998.88L307.27 990.88ZM315.54 985.59L321.79 993.59L315.54 1001.59L309.29 993.59ZM317.48 988.3L323.73 996.3L317.48 1004.3L311.23 996.3ZM319.36 991L325.61 999L319.36 1007L313.11 999ZM321.18 993.71L327.43 1001.71L321.18 1009.71L314.93 1001.71ZM322.94 996.41L329.19 1004.41L322.94 1012.41L316.69 1004.41ZM324.66 999.12L330.91 1007.12L324.66 1015.12L318.41 1007.12ZM326.32 1001.82L332.57 1009.82L326.32 1017.82L320.07 1009.82ZM327.93 1004.53L334.18 1012.53L327.93 1020.53L321.68 1012.53ZM329.5 1007.25L335.75 1015.25L329.5 1023.25L323.25 1015.25ZM331.03 1009.97L337.28 1017.97L331.03 1025.97L324.78 1017.97ZM332.52 1012.69L338.77 1020.69L332.52 1028.69L326.27 1020.69ZM333.97 1015.42L340.22 1023.42L333.97 1031.42L327.72 1023.42ZM335.39 1018.16L341.64 1026.16L335.39 1034.16L329.14 1026.16ZM336.77 1020.9L343.02 1028.9L336.77 1036.9L330.52 1028.9ZM338.12 1023.65L344.37 1031.65L338.12 1039.65L331.87 1031.65ZM339.44 1026.4L345.69 1034.4L339.44 1042.4L333.19 1034.4ZM340.72 1029.17L346.97 1037.17L340.72 1045.17L334.47 1037.17ZM341.98 1031.94L348.23 1039.94L341.98 1047.94L335.73 1039.94ZM343.22 1034.72L349.47 1042.72L343.22 1050.72L336.97 1042.72ZM344.42 1037.51L350.67 1045.51L344.42 1053.51L338.17 1045.51ZM345.61 1040.31L351.86 1048.31L345.61 1056.31L339.36 1048.31ZM346.76 1043.11L353.01 1051.11L346.76 1059.11L340.51 1051.11ZM347.9 1045.93L354.15 1053.93L347.9 1061.93L341.65 1053.93ZM349.01 1048.76L355.26 1056.76L349.01 1064.76L342.76 1056.76ZM350.1 1051.59L356.35 1059.59L350.1 1067.59L343.85 1059.59ZM351.18 1054.44L357.43 1062.44L351.18 1070.44L344.93 1062.44ZM352.23 1057.3L358.48 1065.3L352.23 1073.3L345.98 1065.3ZM353.26 1060.17L359.51 1068.17L353.26 1076.17L347.01 1068.17ZM354.28 1063.05L360.53 1071.05L354.28 1079.05L348.03 1071.05ZM355.27 1065.94L361.52 1073.94L355.27 1081.94L349.02 1073.94ZM356.25 1068.84L362.5 1076.84L356.25 1084.84L350 1076.84ZM357.22 1071.76L363.47 1079.76L357.22 1087.76L350.97 1079.76ZM358.16 1074.68L364.41 1082.68L358.16 1090.68L351.91 1082.68ZM359.1 1077.62L365.35 1085.62L359.1 1093.62L352.85 1085.62ZM360.01 1080.57L366.26 1088.57L360.01 1096.57L353.76 1088.57ZM360.92 1083.53L367.17 1091.53L360.92 1099.53L354.67 1091.53ZM361.8 1086.5L368.05 1094.5L361.8 1102.5L355.55 1094.5ZM362.68 1089.49L368.93 1097.49L362.68 1105.49L356.43 1097.49ZM363.54 1092.49L369.79 1100.49L363.54 1108.49L357.29 1100.49ZM364.39 1095.5L370.64 1103.5L364.39 1111.5L358.14 1103.5ZM365.23 1098.52L371.48 1106.52L365.23 1114.52L358.98 1106.52ZM366.05 1101.56L372.3 1109.56L366.05 1117.56L359.8 1109.56ZM366.87 1104.61L373.12 1112.61L366.87 1120.61L360.62 1112.61ZM367.67 1107.67L373.92 1115.67L367.67 1123.67L361.42 1115.67ZM368.46 1110.74L374.71 1118.74L368.46 1126.74L362.21 1118.74ZM369.24 1113.83L375.49 1121.83L369.24 1129.83L362.99 1121.83ZM370.01 1116.93L376.26 1124.93L370.01 1132.93L363.76 1124.93ZM370.77 1120.05L377.02 1128.05L370.77 1136.05L364.52 1128.05ZM371.52 1123.18L377.77 1131.18L371.52 1139.18L365.27 1131.18ZM372.26 1126.32L378.51 1134.32L372.26 1142.32L366.01 1134.32ZM372.99 1129.47L379.24 1137.47L372.99 1145.47L366.74 1137.47ZM373.71 1132.64L379.96 1140.64L373.71 1148.64L367.46 1140.64ZM374.42 1135.82L380.67 1143.82L374.42 1151.82L368.17 1143.82ZM375.12 1139.02L381.37 1147.02L375.12 1155.02L368.87 1147.02ZM375.82 1142.22L382.07 1150.22L375.82 1158.22L369.57 1150.22ZM376.5 1145.45L382.75 1153.45L376.5 1161.45L370.25 1153.45ZM377.18 1148.68L383.43 1156.68L377.18 1164.68L370.93 1156.68ZM377.85 1151.93L384.1 1159.93L377.85 1167.93L371.6 1159.93ZM378.52 1155.2L384.77 1163.2L378.52 1171.2L372.27 1163.2ZM379.17 1158.48L385.42 1166.48L379.17 1174.48L372.92 1166.48ZM379.82 1161.77L386.07 1169.77L379.82 1177.77L373.57 1169.77ZM380.46 1165.08L386.71 1173.08L380.46 1181.08L374.21 1173.08ZM381.09 1168.4L387.34 1176.4L381.09 1184.4L374.84 1176.4ZM381.72 1171.73L387.97 1179.73L381.72 1187.73L375.47 1179.73ZM382.34 1175.08L388.59 1183.08L382.34 1191.08L376.09 1183.08ZM382.95 1178.44L389.2 1186.44L382.95 1194.44L376.7 1186.44ZM383.56 1181.82L389.81 1189.82L383.56 1197.82L377.31 1189.82ZM384.16 1185.21L390.41 1193.21L384.16 1201.21L377.91 1193.21ZM384.75 1188.62L391 1196.62L384.75 1204.62L378.5 1196.62Z" fill="none" stroke="#de7d00" stroke-width="2.5" />
<polyline points="118.95,886.09 463.03,942.02" fill="none" stroke="#000" stroke-width="3.2" stroke-dasharray="14 9.4" stroke-linejoin="round" />
<text transform="translate(23.63,893.39) scale(0.9699,1)" font-size="42.86" fill="#000" >(e)</text>
<text transform="translate(42.11,1000.62) scale(1.0905,1)" font-size="37.63" fill="#000" >10</text>
<text transform="translate(82.01,984.10) scale(1.1030,1)" font-size="30.91" fill="#000" >-2</text>
<text transform="translate(42.11,1146.60) scale(1.0221,1)" font-size="40.15" fill="#000" >10</text>
<text transform="translate(82.07,1128.30) scale(1.0520,1)" font-size="30.76" fill="#000" >-4</text>
<text transform="translate(33.31,1099.65) rotate(-90) scale(0.9932,1)" font-size="52.97" fill="#000" >|<tspan font-style="italic">C</tspan><tspan font-style="italic" font-size="37.08" dy="10.59">z</tspan><tspan dy="-10.59">(</tspan><tspan font-style="italic">r</tspan>)|</text>
<text transform="translate(112.91,1245.90) scale(0.8703,1)" font-size="39.39" fill="#000" >1</text>
<text transform="translate(233.98,1245.51) scale(1.0743,1)" font-size="38.52" fill="#000" >10</text>
<text transform="translate(357.83,1245.51) scale(1.0593,1)" font-size="38.52" fill="#000" >100</text>
<text transform="translate(437.71,1245.51) scale(1.0222,1)" font-size="38.52" fill="#000" >400</text>
<g fill="none" stroke="#000" stroke-linecap="round"><path d="M296.4 1258.5C297.2 1255 298.6 1251.9 300.9 1251.9C302.4 1251.9 302.6 1253.1 302.4 1254.6" stroke-width="1.5"/><path d="M302.3 1254.6L299.7 1270.2" stroke-width="3.0"/><path d="M303.1 1257.6C304.6 1254.2 307.2 1251.9 310.2 1251.9C311.4 1251.9 312.4 1252.3 312.7 1253.2" stroke-width="1.5"/></g><circle cx="311.7" cy="1255.1" r="2.1" fill="#000"/>
<text transform="translate(146.83,968.80) scale(1.0815,1)" font-size="30.22" fill="#000" ><tspan font-style="italic">L</tspan> = 400</text>
<text transform="translate(153.99,1003.80) scale(1.0741,1)" font-size="30.45" fill="#000" >OBC</text>
<polyline points="142.6,1039.1 182.1,1039.1" fill="none" stroke="#7e2f8e" stroke-width="2.4" stroke-linejoin="round" />
<path d="M156.6 1039.1h12M162.6 1031.6v15M158.28 1034.78l8.64 8.64M158.28 1043.42l8.64 -8.64" fill="none" stroke="#7e2f8e" stroke-width="2.4" />
<polyline points="142.6,1073.1 182.1,1073.1" fill="none" stroke="#008000" stroke-width="2.4" stroke-linejoin="round" />
<path d="M162.6 1066.63L169.35 1078.13L155.85 1078.13Z" fill="none" stroke="#008000" stroke-width="2.5" />
<polyline points="142.6,1107.1 182.1,1107.1" fill="none" stroke="#ff0000" stroke-width="2.4" stroke-linejoin="round" />
<path d="M156.8 1107.1a5.8 5.8 0 1 0 11.6 0a5.8 5.8 0 1 0 -11.6 0" fill="none" stroke="#ff0000" stroke-width="2.5" />
<polyline points="142.6,1141.1 182.1,1141.1" fill="none" stroke="#0000ff" stroke-width="2.4" stroke-linejoin="round" />
<path d="M158.1 1136.6l9 9M158.1 1145.6l9 -9" fill="none" stroke="#0000ff" stroke-width="2.5" />
<polyline points="142.6,1175.1 182.1,1175.1" fill="none" stroke="#de7d00" stroke-width="2.4" stroke-linejoin="round" />
<path d="M162.6 1167.1L168.85 1175.1L162.6 1183.1L156.35 1175.1Z" fill="none" stroke="#de7d00" stroke-width="2.5" />
<text transform="translate(186.55,1045.51) scale(1.1728,1)" font-size="25.74" fill="#000" >z=-0.88</text>
<text transform="translate(186.55,1079.51) scale(1.1689,1)" font-size="25.74" fill="#000" >z=-0.87</text>
<text transform="translate(188.22,1112.59) scale(1.2500,1)" font-size="26.06" fill="#000" >z=<tspan font-style="italic">z</tspan><tspan font-style="italic" font-size="18.24" dy="5.21">zx</tspan></text>
<text transform="translate(186.55,1147.51) scale(1.1689,1)" font-size="25.74" fill="#000" >z=-0.86</text>
<text transform="translate(186.55,1181.51) scale(1.1728,1)" font-size="25.74" fill="#000" >z=-0.85</text>
<rect x="628" y="873.8" width="346.5" height="322.6" fill="none" stroke="#262626" stroke-width="2.5"/>
<path d="M628 1196.4v-5M628 873.8v5M714.62 1196.4v-5M714.62 873.8v5M801.24 1196.4v-5M801.24 873.8v5M887.86 1196.4v-5M887.86 873.8v5M974.48 1196.4v-5M974.48 873.8v5M628 1196.4h5M974.5 1196.4h-5M628 1088.86h5M974.5 1088.86h-5M628 981.32h5M974.5 981.32h-5M628 873.78h5M974.5 873.78h-5" stroke="#262626" stroke-width="2.2" fill="none"/>
<path d="M642.15 1193.6a7.5 7.5 0 1 0 15 0a7.5 7.5 0 1 0 -15 0M650.58 1191.29a7.5 7.5 0 1 0 15 0a7.5 7.5 0 1 0 -15 0M663.81 1189.68a7.5 7.5 0 1 0 15 0a7.5 7.5 0 1 0 -15 0M674.64 1188.17a7.5 7.5 0 1 0 15 0a7.5 7.5 0 1 0 -15 0M692.68 1185.11a7.5 7.5 0 1 0 15 0a7.5 7.5 0 1 0 -15 0M728.77 1179.73a7.5 7.5 0 1 0 15 0a7.5 7.5 0 1 0 -15 0M764.87 1175.81a7.5 7.5 0 1 0 15 0a7.5 7.5 0 1 0 -15 0M800.96 1168.12a7.5 7.5 0 1 0 15 0a7.5 7.5 0 1 0 -15 0M837.05 1163.06a7.5 7.5 0 1 0 15 0a7.5 7.5 0 1 0 -15 0M891.19 1155.59a7.5 7.5 0 1 0 15 0a7.5 7.5 0 1 0 -15 0M929.86 1150.59a7.5 7.5 0 1 0 15 0a7.5 7.5 0 1 0 -15 0" fill="none" stroke="#ff0000" stroke-width="2.5" />
<path d="M641.15 1193.6h17M649.65 1185.1v17M649.58 1191.29h17M658.08 1182.79v17M662.81 1189.68h17M671.31 1181.18v17M673.64 1188.17h17M682.14 1179.67v17M691.68 1185.11h17M700.18 1176.61v17M727.77 1179.73h17M736.27 1171.23v17M763.87 1175.81h17M772.37 1167.31v17M799.96 1168.12h17M808.46 1159.62v17M836.05 1163.06h17M844.55 1154.56v17M890.19 1155.59h17M898.69 1147.09v17M928.86 1150.59h17M937.36 1142.09v17" fill="none" stroke="#008000" stroke-width="2.4" />
<path d="M649.65 1172.83L659.15 1188.83L640.15 1188.83ZM658.08 1167.99L667.58 1183.99L648.58 1183.99ZM671.31 1160.19L680.81 1176.19L661.81 1176.19ZM682.14 1154.01L691.64 1170.01L672.64 1170.01ZM700.18 1142.72L709.68 1158.72L690.68 1158.72ZM736.27 1118.52L745.77 1134.52L726.77 1134.52ZM772.37 1098.09L781.87 1114.09L762.87 1114.09ZM808.46 1075.5L817.96 1091.5L798.96 1091.5ZM844.55 1052.92L854.05 1068.92L835.05 1068.92ZM898.69 1023.35L908.19 1039.35L889.19 1039.35ZM937.36 1002.92L946.86 1018.92L927.86 1018.92Z" fill="none" stroke="#0000ff" stroke-width="2.5" />
<path d="M644.4 1178.51l10.5 10.5M644.4 1189.01l10.5 -10.5M652.83 1173.62l10.5 10.5M652.83 1184.12l10.5 -10.5M666.06 1165.88l10.5 10.5M666.06 1176.38l10.5 -10.5M676.89 1159.69l10.5 10.5M676.89 1170.19l10.5 -10.5M694.93 1149.21l10.5 10.5M694.93 1159.71l10.5 -10.5M731.02 1124.48l10.5 10.5M731.02 1134.98l10.5 -10.5M767.12 1104.04l10.5 10.5M767.12 1114.54l10.5 -10.5M803.21 1082.53l10.5 10.5M803.21 1093.03l10.5 -10.5M839.3 1061.56l10.5 10.5M839.3 1072.06l10.5 -10.5M893.44 1030.92l10.5 10.5M893.44 1041.42l10.5 -10.5M932.11 1011.56l10.5 10.5M932.11 1022.06l10.5 -10.5" fill="none" stroke="#ff00ff" stroke-width="2.4" />
<path d="M641.9 1181.08h15.5M649.65 1172.83v16.5M644.07 1175.5l11.16 11.16M644.07 1186.66l11.16 -11.16M650.33 1174.89h15.5M658.08 1166.64v16.5M652.5 1169.31l11.16 11.16M652.5 1180.47l11.16 -11.16M663.56 1165.75h15.5M671.31 1157.5v16.5M665.73 1160.17l11.16 11.16M665.73 1171.33l11.16 -11.16M674.39 1158.22h15.5M682.14 1149.97v16.5M676.56 1152.64l11.16 11.16M676.56 1163.8l11.16 -11.16M692.43 1144.89h15.5M700.18 1136.64v16.5M694.6 1139.31l11.16 11.16M694.6 1150.47l11.16 -11.16M728.52 1117.36h15.5M736.27 1109.11v16.5M730.69 1111.78l11.16 11.16M730.69 1122.94l11.16 -11.16M764.62 1091.55h15.5M772.37 1083.3v16.5M766.79 1085.97l11.16 11.16M766.79 1097.13l11.16 -11.16M800.71 1067.35h15.5M808.46 1059.1v16.5M802.88 1061.77l11.16 11.16M802.88 1072.93l11.16 -11.16M836.8 1041.54h15.5M844.55 1033.29v16.5M838.97 1035.96l11.16 11.16M838.97 1047.12l11.16 -11.16M890.94 1006.05h15.5M898.69 997.8v16.5M893.11 1000.47l11.16 11.16M893.11 1011.63l11.16 -11.16M929.61 979.17h15.5M937.36 970.92v16.5M931.78 973.59l11.16 11.16M931.78 984.75l11.16 -11.16" fill="none" stroke="#de7d00" stroke-width="2.4" />
<path d="M643.55 1171.21h12.2v12.2h-12.2ZM651.98 1162.02h12.2v12.2h-12.2ZM665.21 1151.05h12.2v12.2h-12.2ZM676.04 1143.52h12.2v12.2h-12.2ZM694.08 1126.31h12.2v12.2h-12.2ZM730.17 1094.59h12.2v12.2h-12.2ZM766.27 1064.48h12.2v12.2h-12.2ZM802.36 1034.37h12.2v12.2h-12.2ZM838.45 1005.33h12.2v12.2h-12.2ZM892.59 961.78h12.2v12.2h-12.2ZM931.26 930.05h12.2v12.2h-12.2Z" fill="none" stroke="#7e2f8e" stroke-width="2.4" />
<polyline points="628,1196.4 974.48,1145.64" fill="none" stroke="#008000" stroke-width="2.6" stroke-linejoin="round" />
<polyline points="628,1196.4 974.48,995.09" fill="none" stroke="#ff00ff" stroke-width="2.6" stroke-linejoin="round" />
<polyline points="628,1196.4 974.48,954.65" fill="none" stroke="#de7d00" stroke-width="2.6" stroke-linejoin="round" />
<polyline points="628,1196.4 974.48,906.04" fill="none" stroke="#7e2f8e" stroke-width="2.6" stroke-linejoin="round" />
<text transform="translate(516.60,893.56) scale(1.0989,1)" font-size="42.50" fill="#000" >(f)</text>
<text transform="translate(568.21,887.77) scale(1.0678,1)" font-size="35.00" fill="#000" >0.6</text>
<text transform="translate(568.22,995.58) scale(1.0544,1)" font-size="35.00" fill="#000" >0.4</text>
<text transform="translate(568.17,1102.58) scale(1.0955,1)" font-size="34.85" fill="#000" >0.2</text>
<text transform="translate(597.04,1209.85) scale(1.0332,1)" font-size="35.26" fill="#000" >0</text>
<text transform="translate(568.00,1066.14) rotate(-90) scale(1.1000,1)" font-size="46.36" fill="#000" >Δ<tspan font-style="italic">E</tspan></text>
<text transform="translate(617.33,1242.65) scale(1.1968,1)" font-size="34.81" fill="#000" >0</text>
<text transform="translate(681.39,1242.75) scale(1.0247,1)" font-size="36.91" fill="#000" >0.02</text>
<text transform="translate(769.02,1242.75) scale(1.0022,1)" font-size="36.91" fill="#000" >0.04</text>
<text transform="translate(854.21,1242.75) scale(1.0095,1)" font-size="36.91" fill="#000" >0.06</text>
<text transform="translate(939.40,1242.75) scale(1.0172,1)" font-size="36.91" fill="#000" >0.08</text>
<text transform="translate(776.90,1276.80) scale(0.9962,1)" font-size="40.15" fill="#000" >1</text>
<path d="M816.3 1246.8L799.8 1290" stroke="#000" stroke-width="2.3"/>
<text transform="translate(820.07,1276.80) scale(1.1346,1)" font-size="41.53" fill="#000" ><tspan font-style="italic">L</tspan></text>
<path d="M645.5 904a7.5 7.5 0 1 0 15 0a7.5 7.5 0 1 0 -15 0" fill="none" stroke="#ff0000" stroke-width="2.5" />
<path d="M644.5 938h17M653 929.5v17" fill="none" stroke="#008000" stroke-width="2.4" />
<path d="M653 961.13L662.5 977.13L643.5 977.13Z" fill="none" stroke="#0000ff" stroke-width="2.5" />
<path d="M647.75 1000.45l10.5 10.5M647.75 1010.95l10.5 -10.5" fill="none" stroke="#ff00ff" stroke-width="2.4" />
<path d="M645.25 1039h15.5M653 1030.75v16.5M647.42 1033.42l11.16 11.16M647.42 1044.58l11.16 -11.16" fill="none" stroke="#de7d00" stroke-width="2.4" />
<path d="M646.9 1066.9h12.2v12.2h-12.2Z" fill="none" stroke="#7e2f8e" stroke-width="2.4" />
<text transform="translate(687.61,909.52) scale(1.1524,1)" font-size="27.91" fill="#000" >Δ<tspan font-style="italic">E</tspan><tspan font-size="19.53" dy="5.58">21</tspan></text>
<text transform="translate(687.61,943.21) scale(1.1591,1)" font-size="27.75" fill="#000" >Δ<tspan font-style="italic">E</tspan><tspan font-size="19.42" dy="5.55">31</tspan></text>
<text transform="translate(687.61,977.12) scale(1.1524,1)" font-size="27.91" fill="#000" >Δ<tspan font-style="italic">E</tspan><tspan font-size="19.53" dy="5.58">41</tspan></text>
<text transform="translate(687.61,1010.81) scale(1.1591,1)" font-size="27.75" fill="#000" >Δ<tspan font-style="italic">E</tspan><tspan font-size="19.42" dy="5.55">51</tspan></text>
<text transform="translate(687.61,1044.61) scale(1.1591,1)" font-size="27.75" fill="#000" >Δ<tspan font-style="italic">E</tspan><tspan font-size="19.42" dy="5.55">61</tspan></text>
<text transform="translate(687.61,1078.52) scale(1.1524,1)" font-size="27.91" fill="#000" >Δ<tspan font-style="italic">E</tspan><tspan font-size="19.53" dy="5.58">71</tspan></text>
</svg></body></html>
